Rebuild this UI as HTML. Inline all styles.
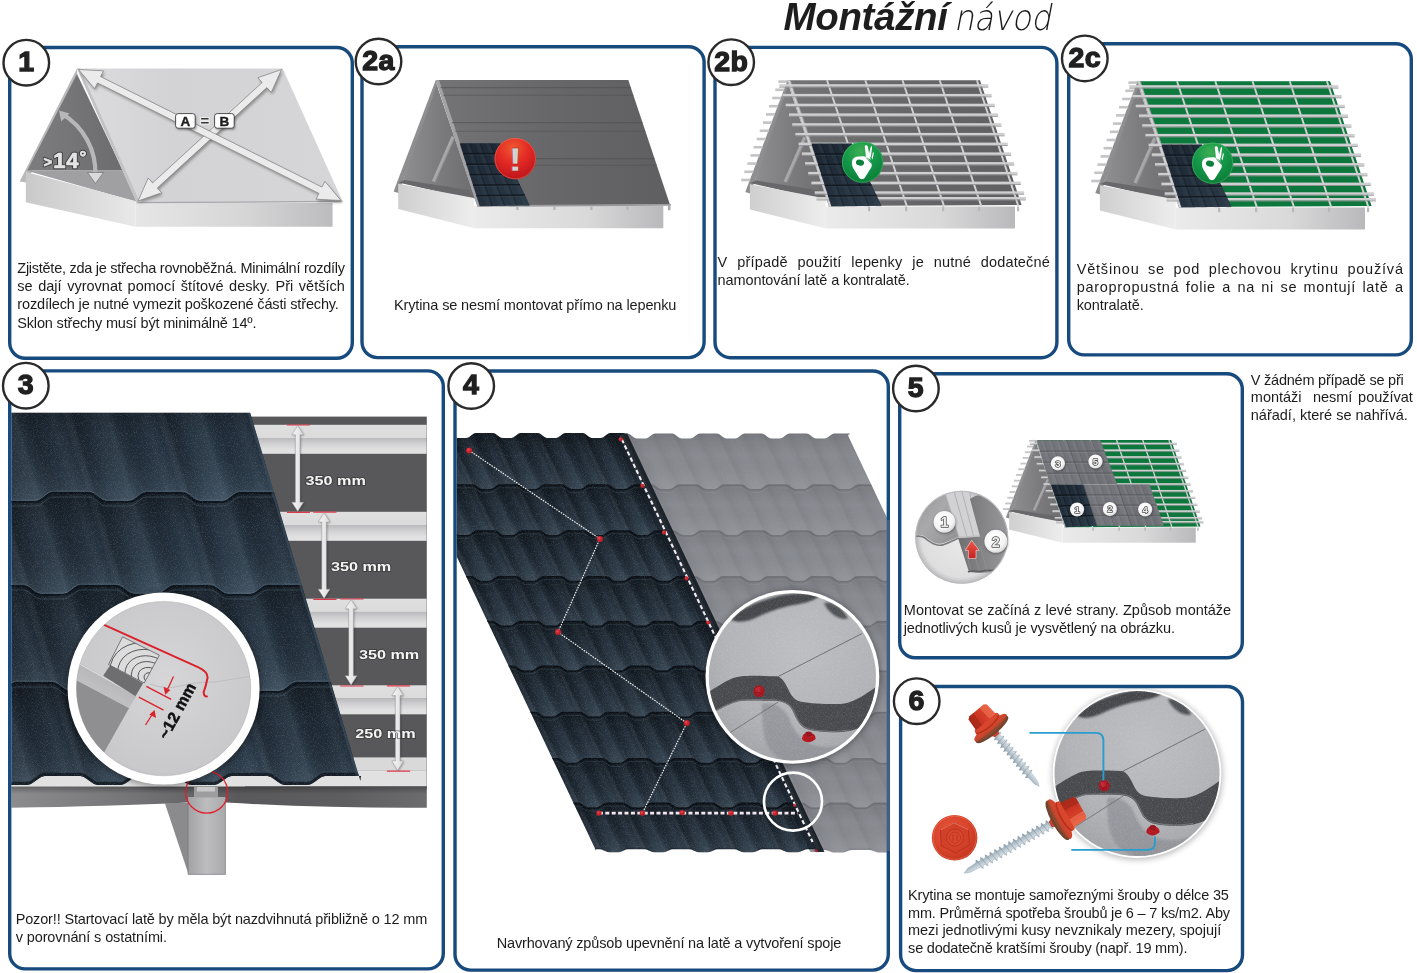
<!DOCTYPE html>
<html lang="cs"><head><meta charset="utf-8"><title>Montážní návod</title>
<style>
html,body{margin:0;padding:0;background:#fff}
svg text{filter:grayscale(1)}
svg text.c{filter:none}
body{width:1417px;height:973px;position:relative;overflow:hidden;font-family:"Liberation Sans",sans-serif;color:#1b1b1b}
#txt{position:absolute;left:0;top:0;width:1417px;height:973px;filter:grayscale(1)}
.t{position:absolute;white-space:pre;font-size:14.5px;line-height:18px;color:#1c1c1c}
h1{position:absolute;margin:0;left:783.5px;top:-4.6px;font-size:38.5px;line-height:44px;font-weight:700;font-style:italic;white-space:nowrap;color:#1d1d1d;letter-spacing:-.33px}
h1 span{position:absolute;left:170.3px;top:0.6px;display:block;font-weight:200;font-family:"DejaVu Sans Light","DejaVu Sans","Liberation Sans",sans-serif;font-style:normal;font-size:35.6px;line-height:44px;letter-spacing:-.4px;color:#1a1a1a;transform-origin:0 75%;transform:scaleX(.9) skewX(-12deg)}
</style></head><body>
<svg width="1417" height="973" viewBox="0 0 1417 973" style="position:absolute;left:0;top:0"><defs>
<linearGradient id="hWallL" x1="0" y1="0" x2="1" y2="0"><stop offset="0" stop-color="#cfcfd0"/><stop offset="1" stop-color="#ededee"/></linearGradient>
<linearGradient id="hWallR" x1="0" y1="0" x2="1" y2="0"><stop offset="0" stop-color="#ebebec"/><stop offset=".6" stop-color="#d9d9da"/><stop offset="1" stop-color="#b9b9bb"/></linearGradient>
<linearGradient id="hRoofDk" x1="0" y1="0" x2="1" y2="0"><stop offset="0" stop-color="#747476"/><stop offset=".5" stop-color="#676769"/><stop offset="1" stop-color="#5f5f62"/></linearGradient>
<linearGradient id="hGable" x1="0" y1="0" x2="1" y2="0"><stop offset="0" stop-color="#8f8f91"/><stop offset=".55" stop-color="#7a7a7c"/><stop offset="1" stop-color="#6c6c6e"/></linearGradient>
<radialGradient id="gRed" cx=".45" cy=".25" r=".8"><stop offset="0" stop-color="#ee5a30"/><stop offset=".45" stop-color="#e42a25"/><stop offset="1" stop-color="#b9131a"/></radialGradient>
<radialGradient id="gGreen" cx=".45" cy=".25" r=".8"><stop offset="0" stop-color="#3fae52"/><stop offset=".45" stop-color="#14994a"/><stop offset="1" stop-color="#0a7a36"/></radialGradient>
<linearGradient id="gExcl" x1="0" y1="0" x2="1" y2="0"><stop offset="0" stop-color="#f4f0ee"/><stop offset=".5" stop-color="#cfcfd0"/><stop offset="1" stop-color="#f1ebe8"/></linearGradient>
<linearGradient id="hTile" x1="0" y1="0" x2="1" y2="1"><stop offset="0" stop-color="#1a2430"/><stop offset="1" stop-color="#2c3a48"/></linearGradient>

<linearGradient id="p1roof" x1="0" y1="0" x2="1" y2="0"><stop offset="0" stop-color="#dcdcde"/><stop offset=".35" stop-color="#d3d3d5"/><stop offset="1" stop-color="#d6d6d8"/></linearGradient>
<linearGradient id="p1wl" x1="0" y1="0" x2="1" y2="0"><stop offset="0" stop-color="#c9c9ca"/><stop offset="1" stop-color="#e9e9ea"/></linearGradient>
<linearGradient id="p1wr" x1="0" y1="0" x2="1" y2="0"><stop offset="0" stop-color="#e6e6e7"/><stop offset=".55" stop-color="#d6d6d7"/><stop offset="1" stop-color="#bcbcbe"/></linearGradient>
<linearGradient id="p1gab" x1="0" y1="0" x2="1" y2="0"><stop offset="0" stop-color="#7d7d7f"/><stop offset="1" stop-color="#6c6c6e"/></linearGradient>
<filter id="sh1" x="-10%" y="-10%" width="120%" height="130%"><feGaussianBlur stdDeviation="1.6"/></filter>
<clipPath id="cp3"><rect x="11.4" y="372.6" width="430.2" height="594.6" rx="13.5"/></clipPath><clipPath id="cp3sheet"><path d="M11,412.8 L250.2,412.8 L360.4,781 L361.0,776.0 L325.0,776.0 L321.6,776.9 L318.2,779.2 L316.5,780.5 L314.8,781.8 L311.4,784.1 L308.0,785.0 L284.5,785.0 L281.1,784.1 L277.7,781.8 L276.0,780.5 L274.3,779.2 L270.9,776.9 L267.5,776.0 L231.5,776.0 L228.1,776.9 L224.7,779.2 L223.0,780.5 L221.3,781.8 L217.9,784.1 L214.5,785.0 L191.0,785.0 L187.6,784.1 L184.2,781.8 L182.5,780.5 L180.8,779.2 L177.4,776.9 L174.0,776.0 L138.0,776.0 L134.6,776.9 L131.2,779.2 L129.5,780.5 L127.8,781.8 L124.4,784.1 L121.0,785.0 L97.5,785.0 L94.1,784.1 L90.7,781.8 L89.0,780.5 L87.3,779.2 L83.9,776.9 L80.5,776.0 L44.5,776.0 L41.1,776.9 L37.7,779.2 L36.0,780.5 L34.3,781.8 L30.9,784.1 L27.5,785.0 L11.0,785.0 Z"/></clipPath><linearGradient id="t3str" gradientUnits="userSpaceOnUse" x1="0" y1="0" x2="93.5" y2="0" spreadMethod="repeat" gradientTransform="skewX(16.67)"><stop offset="0" stop-color="#000" stop-opacity="0.12"/><stop offset="0.1" stop-color="#000" stop-opacity="0.02"/><stop offset="0.22" stop-color="#bcd6e6" stop-opacity="0.05"/><stop offset="0.34" stop-color="#fff" stop-opacity="0.0"/><stop offset="0.45" stop-color="#000" stop-opacity="0.17"/><stop offset="0.55" stop-color="#000" stop-opacity="0.08"/><stop offset="0.7" stop-color="#bcd6e6" stop-opacity="0.05"/><stop offset="0.82" stop-color="#bcd6e6" stop-opacity="0.09"/><stop offset="0.92" stop-color="#000" stop-opacity="0.03"/><stop offset="1" stop-color="#000" stop-opacity="0.12"/></linearGradient>
<linearGradient id="t3row" x1="0" y1="0" x2="0" y2="1"><stop offset="0" stop-color="#000" stop-opacity=".40"/><stop offset=".12" stop-color="#000" stop-opacity=".24"/><stop offset=".38" stop-color="#000" stop-opacity=".03"/><stop offset=".78" stop-color="#9fc0d8" stop-opacity=".07"/><stop offset="1" stop-color="#a9cbe2" stop-opacity=".16"/></linearGradient>
<linearGradient id="t3base" x1="0" y1="0" x2="1" y2="0"><stop offset="0" stop-color="#1e2934"/><stop offset=".6" stop-color="#243240"/><stop offset="1" stop-color="#1c2732"/></linearGradient>
<filter id="grain" x="0" y="0" width="100%" height="100%"><feTurbulence type="fractalNoise" baseFrequency="1.1" numOctaves="2" seed="3" result="n"/><feColorMatrix type="matrix" values="0 0 0 0 0.62  0 0 0 0 0.72  0 0 0 0 0.82  0 0 0 1.5 -0.72"/></filter>
<linearGradient id="p3bat" x1="0" y1="0" x2="0" y2="1"><stop offset="0" stop-color="#dfdfe0"/><stop offset=".44" stop-color="#dbdbdc"/><stop offset=".455" stop-color="#b9b9bb"/><stop offset=".62" stop-color="#cdcdcf"/><stop offset=".85" stop-color="#e0e0e1"/><stop offset="1" stop-color="#e2e2e3"/></linearGradient>
<linearGradient id="p3fas" x1="0" y1="0" x2="1" y2="0"><stop offset="0" stop-color="#8c8c8e"/><stop offset=".3" stop-color="#747476"/><stop offset=".55" stop-color="#59595b"/><stop offset=".8" stop-color="#5e5e60"/><stop offset="1" stop-color="#6c6c6e"/></linearGradient><linearGradient id="p3fas2" x1="0" y1="0" x2="0" y2="1"><stop offset="0" stop-color="#000" stop-opacity=".28"/><stop offset=".35" stop-color="#000" stop-opacity="0"/></linearGradient>
<linearGradient id="p3post" x1="0" y1="0" x2="1" y2="0"><stop offset="0" stop-color="#a2a2a4"/><stop offset=".5" stop-color="#bdbdbf"/><stop offset="1" stop-color="#a9a9ab"/></linearGradient>
<radialGradient id="p3mag" cx=".5" cy=".45" r=".6"><stop offset="0" stop-color="#d6d6d8"/><stop offset=".8" stop-color="#c9c9cb"/><stop offset="1" stop-color="#b5b5b8"/></radialGradient>
<clipPath id="cp3mag"><circle cx="163.6" cy="688.6" r="87.2"/></clipPath>
<clipPath id="cp3wood"><path d="M122.6,636.8 L159.3,655.2 L144.2,683 L108.5,664.5Z"/></clipPath>
<linearGradient id="p3arr" x1="0" y1="0" x2="1" y2="0"><stop offset="0" stop-color="#f6f6f6"/><stop offset="1" stop-color="#dcdcde"/></linearGradient>
<linearGradient id="p3band" gradientUnits="userSpaceOnUse" x1="100" y1="672" x2="93" y2="686"><stop offset="0" stop-color="#b6b6b8"/><stop offset="1" stop-color="#bfbfc1"/></linearGradient>
<filter id="blur3"><feGaussianBlur stdDeviation="3"/></filter>
<filter id="blur1"><feGaussianBlur stdDeviation="1"/></filter>
<clipPath id="cp4"><rect x="456.7" y="372.7" width="430.1" height="595.7"/></clipPath><clipPath id="cp4dark"><path d="M456.0,437.5 L457.6,437.9 L466.4,437.9 L468.3,437.4 L470.2,436.2 L471.1,435.5 L472.1,434.8 L474.0,433.6 L475.9,433.1 L492.9,433.1 L494.8,433.6 L496.7,434.8 L497.6,435.5 L498.6,436.2 L500.5,437.4 L502.4,437.9 L511.2,437.9 L513.1,437.4 L515.0,436.2 L515.9,435.5 L516.9,434.8 L518.8,433.6 L520.7,433.1 L537.7,433.1 L539.6,433.6 L541.5,434.8 L542.4,435.5 L543.4,436.2 L545.3,437.4 L547.2,437.9 L556.0,437.9 L557.9,437.4 L559.8,436.2 L560.7,435.5 L561.7,434.8 L563.6,433.6 L565.5,433.1 L582.5,433.1 L584.4,433.6 L586.3,434.8 L587.2,435.5 L588.2,436.2 L590.1,437.4 L592.0,437.9 L600.8,437.9 L602.7,437.4 L604.6,436.2 L605.5,435.5 L606.5,434.8 L608.4,433.6 L610.3,433.1 L625.0,433.1 L620.0,435.5 L816.9,851 L820.0,849.3 L807.0,849.3 L805.1,849.6 L803.2,850.4 L802.2,850.8 L801.3,851.2 L799.4,852.0 L797.5,852.3 L788.7,852.3 L786.8,852.0 L784.9,851.2 L783.9,850.8 L783.0,850.4 L781.1,849.6 L779.2,849.3 L762.2,849.3 L760.3,849.6 L758.4,850.4 L757.4,850.8 L756.5,851.2 L754.6,852.0 L752.7,852.3 L743.9,852.3 L742.0,852.0 L740.1,851.2 L739.1,850.8 L738.2,850.4 L736.3,849.6 L734.4,849.3 L717.4,849.3 L715.5,849.6 L713.6,850.4 L712.6,850.8 L711.7,851.2 L709.8,852.0 L707.9,852.3 L699.1,852.3 L697.2,852.0 L695.3,851.2 L694.3,850.8 L693.4,850.4 L691.5,849.6 L689.6,849.3 L672.6,849.3 L670.7,849.6 L668.8,850.4 L667.8,850.8 L666.9,851.2 L665.0,852.0 L663.1,852.3 L654.3,852.3 L652.4,852.0 L650.5,851.2 L649.5,850.8 L648.6,850.4 L646.7,849.6 L644.8,849.3 L627.8,849.3 L625.9,849.6 L624.0,850.4 L623.0,850.8 L622.1,851.2 L620.2,852.0 L618.3,852.3 L609.5,852.3 L607.6,852.0 L605.7,851.2 L604.7,850.8 L603.8,850.4 L601.9,849.6 L600.0,849.3 L594.6,849.3 L596.2,851 L456,555.0 Z"/></clipPath><clipPath id="cp4grey"><path d="M618.0,433.6 L627.3,433.6 L629.2,434.1 L631.1,435.3 L632.0,436.0 L633.0,436.7 L634.9,437.9 L636.8,438.4 L645.6,438.4 L647.5,437.9 L649.4,436.7 L650.3,436.0 L651.3,435.3 L653.2,434.1 L655.1,433.6 L672.1,433.6 L674.0,434.1 L675.9,435.3 L676.8,436.0 L677.8,436.7 L679.7,437.9 L681.6,438.4 L690.4,438.4 L692.3,437.9 L694.2,436.7 L695.1,436.0 L696.1,435.3 L698.0,434.1 L699.9,433.6 L716.9,433.6 L718.8,434.1 L720.7,435.3 L721.6,436.0 L722.6,436.7 L724.5,437.9 L726.4,438.4 L735.2,438.4 L737.1,437.9 L739.0,436.7 L739.9,436.0 L740.9,435.3 L742.8,434.1 L744.7,433.6 L761.7,433.6 L763.6,434.1 L765.5,435.3 L766.4,436.0 L767.4,436.7 L769.3,437.9 L771.2,438.4 L780.0,438.4 L781.9,437.9 L783.8,436.7 L784.7,436.0 L785.7,435.3 L787.6,434.1 L789.5,433.6 L806.5,433.6 L808.4,434.1 L810.3,435.3 L811.2,436.0 L812.2,436.7 L814.1,437.9 L816.0,438.4 L824.8,438.4 L826.7,437.9 L828.6,436.7 L829.5,436.0 L830.5,435.3 L832.4,434.1 L834.3,433.6 L850.0,433.6 L848.0,435.5 L893.6,531.7 L893.6,852 L894.0,850.5 L893.2,850.8 L892.2,851.2 L891.3,851.6 L889.4,852.2 L887.5,852.5 L878.7,852.5 L876.8,852.2 L874.9,851.6 L873.9,851.2 L873.0,850.8 L871.1,850.2 L869.2,849.9 L852.2,849.9 L850.3,850.2 L848.4,850.8 L847.4,851.2 L846.5,851.6 L844.6,852.2 L842.7,852.5 L833.9,852.5 L832.0,852.2 L830.1,851.6 L829.1,851.2 L828.2,850.8 L826.3,850.2 L824.4,849.9 L812.0,849.9 L821.3,852 L624.0,435.5Z"/></clipPath><linearGradient id="t4str" gradientUnits="userSpaceOnUse" x1="0" y1="0" x2="44.8" y2="0" spreadMethod="repeat" gradientTransform="skewX(25.35)"><stop offset="0" stop-color="#000" stop-opacity="0.15"/><stop offset="0.1" stop-color="#000" stop-opacity="0.04"/><stop offset="0.22" stop-color="#b4cede" stop-opacity="0.055"/><stop offset="0.34" stop-color="#fff" stop-opacity="0.01"/><stop offset="0.46" stop-color="#000" stop-opacity="0.2"/><stop offset="0.56" stop-color="#000" stop-opacity="0.1"/><stop offset="0.7" stop-color="#b4cede" stop-opacity="0.045"/><stop offset="0.84" stop-color="#b4cede" stop-opacity="0.085"/><stop offset="0.93" stop-color="#000" stop-opacity="0.03"/><stop offset="1" stop-color="#000" stop-opacity="0.15"/></linearGradient>
<linearGradient id="t4row" x1="0" y1="0" x2="0" y2="1"><stop offset="0" stop-color="#000" stop-opacity=".46"/><stop offset=".14" stop-color="#000" stop-opacity=".28"/><stop offset=".4" stop-color="#000" stop-opacity=".04"/><stop offset=".78" stop-color="#9dbdd2" stop-opacity=".07"/><stop offset="1" stop-color="#a8c6da" stop-opacity=".14"/></linearGradient>
<linearGradient id="t4rowg" x1="0" y1="0" x2="0" y2="1"><stop offset="0" stop-color="#000" stop-opacity=".13"/><stop offset=".14" stop-color="#000" stop-opacity=".07"/><stop offset=".4" stop-color="#000" stop-opacity=".0"/><stop offset=".78" stop-color="#fff" stop-opacity=".04"/><stop offset="1" stop-color="#fff" stop-opacity=".09"/></linearGradient>
<radialGradient id="magbg" gradientUnits="userSpaceOnUse" cx="800" cy="650" r="110"><stop offset="0" stop-color="#bcbec1"/><stop offset=".7" stop-color="#b1b3b6"/><stop offset="1" stop-color="#a4a6aa"/></radialGradient>
<clipPath id="cp4mag"><circle cx="792.4" cy="676.8" r="83.6"/></clipPath>
<filter id="grain2" x="0" y="0" width="100%" height="100%"><feTurbulence type="fractalNoise" baseFrequency="1.2" numOctaves="2" seed="8"/><feColorMatrix type="matrix" values="0 0 0 0 0.95  0 0 0 0 0.95  0 0 0 0 0.97  0 0 0 1.8 -0.85"/></filter>

<linearGradient id="hGreenSh" x1="0" y1="0" x2="1" y2="0"><stop offset="0" stop-color="#0a6a34" stop-opacity=".0"/><stop offset="1" stop-color="#0a6a34" stop-opacity=".25"/></linearGradient>
<radialGradient id="p5mag" cx=".5" cy=".5" r=".5"><stop offset="0" stop-color="#e9e9ea"/><stop offset=".86" stop-color="#dededf"/><stop offset=".95" stop-color="#c6c6c8"/><stop offset="1" stop-color="#b4b4b6"/></radialGradient>
<clipPath id="cp5mag"><circle cx="961.7" cy="537.3" r="45.6"/></clipPath>
<linearGradient id="p5t1" x1="0" y1="0" x2="1" y2="1"><stop offset="0" stop-color="#8d8d8f"/><stop offset=".5" stop-color="#a9a9ab"/><stop offset="1" stop-color="#8f8f91"/></linearGradient>
<linearGradient id="p5t2" x1="0" y1="0" x2="1" y2="0"><stop offset="0" stop-color="#6f6f72"/><stop offset=".5" stop-color="#858588"/><stop offset="1" stop-color="#9a9a9c"/></linearGradient>
<linearGradient id="p5arr" x1="0" y1="0" x2="0" y2="1"><stop offset="0" stop-color="#ee5a4a"/><stop offset="1" stop-color="#c4201f"/></linearGradient>
<radialGradient id="nball" cx=".4" cy=".35" r=".7"><stop offset="0" stop-color="#fff"/><stop offset=".7" stop-color="#f4f4f4"/><stop offset="1" stop-color="#d4d4d6"/></radialGradient>
<linearGradient id="scrHead" x1="0" y1="0" x2="0" y2="1"><stop offset="0" stop-color="#e35a3c"/><stop offset=".45" stop-color="#d33b26"/><stop offset="1" stop-color="#b42c1c"/></linearGradient>
<linearGradient id="scrWash" x1="0" y1="0" x2="1" y2="0"><stop offset="0" stop-color="#dc4b31"/><stop offset=".55" stop-color="#cb452c"/><stop offset="1" stop-color="#a8472c"/></linearGradient>
<linearGradient id="scrShank" x1="0" y1="0" x2="0" y2="1"><stop offset="0" stop-color="#eef3f6"/><stop offset=".4" stop-color="#c6d2da"/><stop offset="1" stop-color="#8fa0ac"/></linearGradient>
<radialGradient id="capG" cx=".42" cy=".38" r=".65"><stop offset="0" stop-color="#e8583c"/><stop offset=".6" stop-color="#d9442c"/><stop offset="1" stop-color="#c2341f"/></radialGradient>
<clipPath id="cp6mag"><circle cx="1137" cy="773.6" r="82.5"/></clipPath>
</defs>
<!-- panel 1 -->
<g><path d="M77.0,68.4 L19.7,181.6 L26.5,182.5 L77.5,80.0Z" fill="#b9b9bb" /><path d="M77.0,74.0 L27.2,170.5 L123.0,170.5Z" fill="url(#p1gab)" /><path d="M26.0,170.5 L123.0,170.2 L137.0,202.0Z" fill="#a0a0a2" /><path d="M25.8,171.9 L135.4,201.1 L135.4,226.7 L25.8,202.3Z" fill="url(#p1wl)" /><path d="M135.4,203.0 L332.6,203.0 L332.6,226.7 L135.4,226.7Z" fill="url(#p1wr)" /><path d="M77.0,68.4 L282.7,68.4 L342.4,201.1 L136.6,202.3Z" fill="url(#p1roof)" /><path d="M77.0,68.4 L80.0,68.4 L139.8,202.3 L136.6,202.3Z" fill="#c3c3c5" /><line x1="136.6" y1="202.7" x2="342.4" y2="201.5" stroke="#a8a8aa" stroke-width="1.3" /><path d="M61.5,113.5 A68,68 0 0 1 95.3,176" fill="none" stroke="#b7b7b9" stroke-width="4.2"/><path d="M59.0,110.5 L69.5,113.5 L61.2,121.5Z" fill="#b7b7b9" /><path d="M87.5,172.5 L103.5,172.5 L95.5,183.5Z" fill="#d9d9db" stroke="#666" stroke-width=".6"/><text x="43.5" y="168.2" font-family="Liberation Sans, sans-serif" font-weight="700" font-size="22" fill="#3a3a3c" stroke="#3a3a3c" stroke-width="2.6" stroke-linejoin="round" letter-spacing=".9"><tspan font-size="15" dy="-1.5">&gt;</tspan><tspan dy="1.5">14</tspan><tspan font-size="17" dy="-5.5">°</tspan></text><text x="43.5" y="168.2" font-family="Liberation Sans, sans-serif" font-weight="700" font-size="22" fill="#e4e4e5" stroke="#e4e4e5" stroke-width="0.7" stroke-linejoin="round" letter-spacing=".9"><tspan font-size="15" dy="-1.5">&gt;</tspan><tspan dy="1.5">14</tspan><tspan font-size="17" dy="-5.5">°</tspan></text><path d="M78.5,69.5 L94.6,88.7 L97.5,82.9 L318.9,193.4 L316.0,199.2 L341.0,200.5 L324.9,181.3 L322.0,187.1 L100.6,76.6 L103.5,70.8Z" fill="#555" opacity=".55" filter="url(#sh1)" transform="translate(1.2,2.2)"/><path d="M281.5,69.5 L257.8,77.7 L262.2,82.5 L152.6,182.9 L148.2,178.1 L138.0,201.0 L161.7,192.8 L157.3,188.0 L266.9,87.6 L271.3,92.4Z" fill="#555" opacity=".55" filter="url(#sh1)" transform="translate(1.2,2.2)"/><path d="M281.5,69.5 L257.8,77.7 L262.2,82.5 L152.6,182.9 L148.2,178.1 L138.0,201.0 L161.7,192.8 L157.3,188.0 L266.9,87.6 L271.3,92.4Z" fill="#ebebec" stroke="#7c7c7e" stroke-width=".7" stroke-linejoin="miter"/><path d="M78.5,69.5 L94.6,88.7 L97.5,82.9 L318.9,193.4 L316.0,199.2 L341.0,200.5 L324.9,181.3 L322.0,187.1 L100.6,76.6 L103.5,70.8Z" fill="#ebebec" stroke="#7c7c7e" stroke-width=".7" stroke-linejoin="miter"/><rect x="176.6" y="115.2" width="19.6" height="14.6" rx="2.6" fill="#000" opacity=".4" filter="url(#blur1)"/><rect x="175.6" y="113.6" width="19.6" height="14.6" rx="2.6" fill="#fff" stroke="#3a3a3c" stroke-width=".9"/><text x="185.4" y="126" text-anchor="middle" font-family="Liberation Sans, sans-serif" font-weight="700" font-size="13.5" fill="#1d1d1d" stroke="#1d1d1d" stroke-width=".4">A</text><rect x="215.6" y="115.2" width="19.6" height="14.6" rx="2.6" fill="#000" opacity=".4" filter="url(#blur1)"/><rect x="214.6" y="113.6" width="19.6" height="14.6" rx="2.6" fill="#fff" stroke="#3a3a3c" stroke-width=".9"/><text x="224.4" y="126" text-anchor="middle" font-family="Liberation Sans, sans-serif" font-weight="700" font-size="13.5" fill="#1d1d1d" stroke="#1d1d1d" stroke-width=".4">B</text><text x="205" y="126.3" text-anchor="middle" font-family="Liberation Sans, sans-serif" font-weight="700" font-size="15" fill="#333" stroke="#f4f4f4" stroke-width="1.6" paint-order="stroke">=</text></g>
<!-- panel 2a -->
<g transform="translate(-351.7,-0.4)"><path d="M787.5,80.3 L745.3,191.9 L750.1,193.4 L789.7,89.3Z" fill="#8e8e90" /><path d="M788.5,85.3 L753.8,183.4 L826.5,199.0 L828.5,204.1Z" fill="url(#hGable)" /><path d="M750.2,183.0 L826.0,200.5 L820.5,190.5 L756.0,180.5Z" fill="#68686a" /><line x1="805.0" y1="137.2" x2="785.3" y2="182.0" stroke="#a9a9ab" stroke-width="3.6" /><line x1="806.2" y1="137.6" x2="786.5" y2="182.4" stroke="#8a8a8c" stroke-width="1" opacity=".7"/><path d="M749.9,184.2 L825.8,198.5 L825.8,228.6 L749.9,209.4Z" fill="url(#hWallL)" /><path d="M825.8,206.5 L1015.0,206.5 L1015.0,228.6 L825.8,228.6Z" fill="url(#hWallR)" /><path d="M787.5,80.3 L980.0,80.3 L1021.6,205.0 L829.0,206.1Z" fill="url(#hRoofDk)" /><path d="M787.5,80.3 L790.7,80.3 L832.6,206.1 L829.0,206.9Z" fill="#a3a3a5" /><line x1="792.0" y1="88.0" x2="982.6" y2="88.0" stroke="#4c4c4f" stroke-width="1.1" opacity="0.5"/><line x1="794.5" y1="95.6" x2="985.1" y2="95.6" stroke="#4c4c4f" stroke-width="1.1" opacity="0.5"/><line x1="803.6" y1="123.0" x2="994.2" y2="123.0" stroke="#4c4c4f" stroke-width="1.1" opacity="0.55"/><line x1="806.5" y1="131.7" x2="997.1" y2="131.7" stroke="#4c4c4f" stroke-width="1.1" opacity="0.45"/><line x1="815.5" y1="159.0" x2="1006.3" y2="159.0" stroke="#4c4c4f" stroke-width="1.1" opacity="0.55"/><line x1="817.6" y1="165.6" x2="1008.5" y2="165.6" stroke="#4c4c4f" stroke-width="1.1" opacity="0.45"/><line x1="829.0" y1="206.4" x2="1022.6" y2="205.3" stroke="#9a9a9c" stroke-width="1.6" /><rect x="868" y="206.8" width="2.2" height="3.6" fill="#b5b5b7"/><rect x="905" y="206.8" width="2.2" height="3.6" fill="#b5b5b7"/><rect x="942" y="206.8" width="2.2" height="3.6" fill="#b5b5b7"/><rect x="978" y="206.8" width="2.2" height="3.6" fill="#b5b5b7"/><rect x="1019.6" y="205.6" width="2.6" height="5" fill="#a9a9ab"/><path d="M811.4,143.6 L851.8,143.6 L881.6,205.8 L831.4,206.6Z" fill="url(#hTile)" /><path d="M817.0,143.6 L821.0,143.6 L843.3,206.6 L838.3,206.6Z" fill="#3d4b59" opacity="0.25"/><path d="M827.1,143.6 L831.1,143.6 L855.9,206.6 L850.9,206.6Z" fill="#3d4b59" opacity="0.25"/><path d="M837.2,143.6 L841.2,143.6 L868.4,206.6 L863.4,206.6Z" fill="#3d4b59" opacity="0.25"/><path d="M847.3,143.6 L851.3,143.6 L881.0,206.6 L876.0,206.6Z" fill="#3d4b59" opacity="0.25"/><line x1="821.5" y1="143.6" x2="844.0" y2="206.4" stroke="#0e141b" stroke-width="0.9" opacity="0.48"/><line x1="831.6" y1="143.6" x2="856.5" y2="206.2" stroke="#0e141b" stroke-width="0.9" opacity="0.48"/><line x1="841.7" y1="143.6" x2="869.0" y2="206.0" stroke="#0e141b" stroke-width="0.9" opacity="0.48"/><line x1="814.7" y1="154.1" x2="856.8" y2="154.0" stroke="#0e141b" stroke-width="1.5" opacity="0.80"/><line x1="814.7" y1="155.4" x2="856.8" y2="155.3" stroke="#3d4b59" stroke-width="0.7" opacity="0.55"/><line x1="818.1" y1="164.6" x2="861.7" y2="164.3" stroke="#0e141b" stroke-width="1.5" opacity="0.80"/><line x1="818.1" y1="165.9" x2="861.7" y2="165.6" stroke="#3d4b59" stroke-width="0.7" opacity="0.55"/><line x1="821.4" y1="175.1" x2="866.7" y2="174.7" stroke="#0e141b" stroke-width="1.5" opacity="0.80"/><line x1="821.4" y1="176.4" x2="866.7" y2="176.0" stroke="#3d4b59" stroke-width="0.7" opacity="0.55"/><line x1="824.7" y1="185.6" x2="871.7" y2="185.1" stroke="#0e141b" stroke-width="1.5" opacity="0.80"/><line x1="824.7" y1="186.9" x2="871.7" y2="186.4" stroke="#3d4b59" stroke-width="0.7" opacity="0.55"/><line x1="828.1" y1="196.1" x2="876.6" y2="195.4" stroke="#0e141b" stroke-width="1.5" opacity="0.80"/><line x1="828.1" y1="197.4" x2="876.6" y2="196.7" stroke="#3d4b59" stroke-width="0.7" opacity="0.55"/><g transform="translate(866.9,159.0)"><circle r="20.7" fill="url(#gRed)"/><circle r="20.2" fill="none" stroke="#f08a6a" stroke-width=".7" opacity=".6"/><text class="c" x="0" y="12.1" text-anchor="middle" font-family="Liberation Sans, sans-serif" font-weight="700" font-size="33.5" fill="url(#gExcl)" stroke="#a02020" stroke-width=".35" transform="scale(1.3,1)">!</text></g></g>
<!-- panel 2b -->
<g><path d="M787.5,80.3 L745.3,191.9 L750.1,193.4 L789.7,89.3Z" fill="#8e8e90" /><path d="M788.5,85.3 L753.8,183.4 L826.5,199.0 L828.5,204.1Z" fill="url(#hGable)" /><path d="M750.2,183.0 L826.0,200.5 L820.5,190.5 L756.0,180.5Z" fill="#68686a" /><line x1="805.0" y1="137.2" x2="785.3" y2="182.0" stroke="#a9a9ab" stroke-width="3.6" /><line x1="806.2" y1="137.6" x2="786.5" y2="182.4" stroke="#8a8a8c" stroke-width="1" opacity=".7"/><path d="M749.9,184.2 L825.8,198.5 L825.8,228.6 L749.9,209.4Z" fill="url(#hWallL)" /><path d="M825.8,206.5 L1015.0,206.5 L1015.0,228.6 L825.8,228.6Z" fill="url(#hWallR)" /><path d="M787.5,80.3 L980.0,80.3 L1021.6,205.0 L829.0,206.1Z" fill="url(#hRoofDk)" /><path d="M787.5,80.3 L790.7,80.3 L832.6,206.1 L829.0,206.9Z" fill="#a3a3a5" /><line x1="788.7" y1="80.3" x2="830.2" y2="206.1" stroke="#d2d2d4" stroke-width="1.9" /><line x1="827.0" y1="80.3" x2="868.5" y2="206.1" stroke="#d2d2d4" stroke-width="1.9" /><line x1="865.3" y1="80.3" x2="906.8" y2="206.1" stroke="#d2d2d4" stroke-width="1.9" /><line x1="902.5" y1="80.3" x2="944.0" y2="206.1" stroke="#d2d2d4" stroke-width="1.9" /><line x1="939.7" y1="80.3" x2="981.2" y2="206.1" stroke="#d2d2d4" stroke-width="1.9" /><line x1="976.9" y1="80.3" x2="1018.4" y2="206.1" stroke="#d2d2d4" stroke-width="1.9" /><rect x="779.3" y="84.2" width="209.0" height="2.5" fill="#cfcfd1"/><rect x="779.3" y="86.7" width="209.0" height="0.9" fill="#97979a"/><rect x="782.5" y="93.9" width="209.1" height="2.5" fill="#cfcfd1"/><rect x="782.5" y="96.4" width="209.1" height="0.9" fill="#97979a"/><rect x="785.7" y="103.7" width="209.1" height="2.5" fill="#cfcfd1"/><rect x="785.7" y="106.2" width="209.1" height="0.9" fill="#97979a"/><rect x="789.0" y="113.4" width="209.1" height="2.5" fill="#cfcfd1"/><rect x="789.0" y="115.9" width="209.1" height="0.9" fill="#97979a"/><rect x="792.2" y="123.2" width="209.2" height="2.5" fill="#cfcfd1"/><rect x="792.2" y="125.7" width="209.2" height="0.9" fill="#97979a"/><rect x="795.4" y="132.9" width="209.2" height="2.5" fill="#cfcfd1"/><rect x="795.4" y="135.4" width="209.2" height="0.9" fill="#97979a"/><rect x="798.6" y="142.6" width="209.2" height="2.5" fill="#cfcfd1"/><rect x="798.6" y="145.1" width="209.2" height="0.9" fill="#97979a"/><rect x="801.8" y="152.4" width="209.3" height="2.5" fill="#cfcfd1"/><rect x="801.8" y="154.9" width="209.3" height="0.9" fill="#97979a"/><rect x="805.0" y="162.1" width="209.3" height="2.5" fill="#cfcfd1"/><rect x="805.0" y="164.6" width="209.3" height="0.9" fill="#97979a"/><rect x="808.2" y="171.9" width="209.3" height="2.5" fill="#cfcfd1"/><rect x="808.2" y="174.4" width="209.3" height="0.9" fill="#97979a"/><rect x="811.4" y="181.6" width="209.4" height="2.5" fill="#cfcfd1"/><rect x="811.4" y="184.1" width="209.4" height="0.9" fill="#97979a"/><rect x="814.7" y="191.3" width="209.4" height="2.5" fill="#cfcfd1"/><rect x="814.7" y="193.8" width="209.4" height="0.9" fill="#97979a"/><rect x="816.5" y="197.0" width="209.4" height="2.5" fill="#cfcfd1"/><rect x="816.5" y="199.5" width="209.4" height="0.9" fill="#97979a"/><rect x="778.4" y="80.3" width="9" height="2.6" fill="#c4c4c6"/><rect x="775.3" y="88.5" width="9" height="2.6" fill="#c4c4c6"/><rect x="772.2" y="96.7" width="9" height="2.6" fill="#c4c4c6"/><rect x="769.1" y="104.9" width="9" height="2.6" fill="#c4c4c6"/><rect x="766.0" y="113.1" width="9" height="2.6" fill="#c4c4c6"/><rect x="762.9" y="121.3" width="9" height="2.6" fill="#c4c4c6"/><rect x="759.8" y="129.5" width="9" height="2.6" fill="#c4c4c6"/><rect x="756.7" y="137.7" width="9" height="2.6" fill="#c4c4c6"/><rect x="753.6" y="145.9" width="9" height="2.6" fill="#c4c4c6"/><rect x="750.5" y="154.1" width="9" height="2.6" fill="#c4c4c6"/><rect x="747.4" y="162.3" width="9" height="2.6" fill="#c4c4c6"/><rect x="744.3" y="170.5" width="9" height="2.6" fill="#c4c4c6"/><rect x="741.2" y="178.7" width="9" height="2.6" fill="#c4c4c6"/><rect x="868" y="206.6" width="2.2" height="4.6" fill="#b9b9bb"/><rect x="905" y="206.6" width="2.2" height="4.6" fill="#b9b9bb"/><rect x="942" y="206.6" width="2.2" height="4.6" fill="#b9b9bb"/><rect x="978" y="206.6" width="2.2" height="4.6" fill="#b9b9bb"/><rect x="1017" y="206.6" width="2.2" height="4.6" fill="#b9b9bb"/><path d="M811.4,143.6 L851.8,143.6 L881.6,205.8 L831.4,206.6Z" fill="url(#hTile)" /><path d="M817.0,143.6 L821.0,143.6 L843.3,206.6 L838.3,206.6Z" fill="#3d4b59" opacity="0.25"/><path d="M827.1,143.6 L831.1,143.6 L855.9,206.6 L850.9,206.6Z" fill="#3d4b59" opacity="0.25"/><path d="M837.2,143.6 L841.2,143.6 L868.4,206.6 L863.4,206.6Z" fill="#3d4b59" opacity="0.25"/><path d="M847.3,143.6 L851.3,143.6 L881.0,206.6 L876.0,206.6Z" fill="#3d4b59" opacity="0.25"/><line x1="821.5" y1="143.6" x2="844.0" y2="206.4" stroke="#0e141b" stroke-width="0.9" opacity="0.48"/><line x1="831.6" y1="143.6" x2="856.5" y2="206.2" stroke="#0e141b" stroke-width="0.9" opacity="0.48"/><line x1="841.7" y1="143.6" x2="869.0" y2="206.0" stroke="#0e141b" stroke-width="0.9" opacity="0.48"/><line x1="814.7" y1="154.1" x2="856.8" y2="154.0" stroke="#0e141b" stroke-width="1.5" opacity="0.80"/><line x1="814.7" y1="155.4" x2="856.8" y2="155.3" stroke="#3d4b59" stroke-width="0.7" opacity="0.55"/><line x1="818.1" y1="164.6" x2="861.7" y2="164.3" stroke="#0e141b" stroke-width="1.5" opacity="0.80"/><line x1="818.1" y1="165.9" x2="861.7" y2="165.6" stroke="#3d4b59" stroke-width="0.7" opacity="0.55"/><line x1="821.4" y1="175.1" x2="866.7" y2="174.7" stroke="#0e141b" stroke-width="1.5" opacity="0.80"/><line x1="821.4" y1="176.4" x2="866.7" y2="176.0" stroke="#3d4b59" stroke-width="0.7" opacity="0.55"/><line x1="824.7" y1="185.6" x2="871.7" y2="185.1" stroke="#0e141b" stroke-width="1.5" opacity="0.80"/><line x1="824.7" y1="186.9" x2="871.7" y2="186.4" stroke="#3d4b59" stroke-width="0.7" opacity="0.55"/><line x1="828.1" y1="196.1" x2="876.6" y2="195.4" stroke="#0e141b" stroke-width="1.5" opacity="0.80"/><line x1="828.1" y1="197.4" x2="876.6" y2="196.7" stroke="#3d4b59" stroke-width="0.7" opacity="0.55"/><g transform="translate(862.6,162.2)"><circle r="20.7" fill="url(#gGreen)"/><circle r="20.099999999999998" fill="none" stroke="#5cc070" stroke-width=".8" opacity=".6"/><path d="M-10.6,0 C-10.6,-3 -8,-5.6 -4.5,-5.7 L1,-6 C3,-6 4.5,-5 5.5,-3.5 L8.8,1 C9.4,2.3 9.3,4 8.6,5.2 L2.2,15.6 C1,17.4 -2.4,17.4 -3.6,15.4 L-9.4,6 C-10.4,4 -10.8,2 -10.6,0Z" fill="#fff"/><ellipse cx="-2.6" cy=".4" rx="4.1" ry="3" fill="#0c7f3b" transform="rotate(12 -2.6 .4)"/><path d="M3.4,-5.2 L2.2,-15.6 C2.3,-17.2 4.6,-17.6 5,-16 L8,-2.5Z" fill="#fff"/><path d="M6.2,-7.5 L8.2,-15.6 C8.6,-16.4 9.6,-16 9.5,-15.2 L8.2,-4.5Z" fill="#fff"/><path d="M9,-4.4 L10.3,-9.6 C10.6,-10.2 11.3,-10 11.2,-9.3 L10,-2.8Z" fill="#fff"/><path d="M3.6,-4.6 L8.6,1.2" stroke="#0c7f3b" stroke-width=".6"/></g></g>
<!-- panel 2c -->
<g transform="translate(350,1)"><path d="M787.5,80.3 L745.3,191.9 L750.1,193.4 L789.7,89.3Z" fill="#8e8e90" /><path d="M788.5,85.3 L753.8,183.4 L826.5,199.0 L828.5,204.1Z" fill="url(#hGable)" /><path d="M750.2,183.0 L826.0,200.5 L820.5,190.5 L756.0,180.5Z" fill="#68686a" /><line x1="805.0" y1="137.2" x2="785.3" y2="182.0" stroke="#a9a9ab" stroke-width="3.6" /><line x1="806.2" y1="137.6" x2="786.5" y2="182.4" stroke="#8a8a8c" stroke-width="1" opacity=".7"/><path d="M749.9,184.2 L825.8,198.5 L825.8,228.6 L749.9,209.4Z" fill="url(#hWallL)" /><path d="M825.8,206.5 L1015.0,206.5 L1015.0,228.6 L825.8,228.6Z" fill="url(#hWallR)" /><path d="M787.5,80.3 L980.0,80.3 L1021.6,205.0 L829.0,206.1Z" fill="#0d7a3e" /><path d="M787.5,80.3 L980.0,80.3 L1021.6,205.0 L829.0,206.1Z" fill="url(#hGreenSh)"/><path d="M787.5,80.3 L790.7,80.3 L832.6,206.1 L829.0,206.9Z" fill="#a3a3a5" /><line x1="788.7" y1="80.3" x2="830.2" y2="206.1" stroke="#d2d2d4" stroke-width="1.9" /><line x1="827.0" y1="80.3" x2="868.5" y2="206.1" stroke="#d2d2d4" stroke-width="1.9" /><line x1="865.3" y1="80.3" x2="906.8" y2="206.1" stroke="#d2d2d4" stroke-width="1.9" /><line x1="902.5" y1="80.3" x2="944.0" y2="206.1" stroke="#d2d2d4" stroke-width="1.9" /><line x1="939.7" y1="80.3" x2="981.2" y2="206.1" stroke="#d2d2d4" stroke-width="1.9" /><line x1="976.9" y1="80.3" x2="1018.4" y2="206.1" stroke="#d2d2d4" stroke-width="1.9" /><rect x="779.3" y="84.2" width="209.0" height="2.5" fill="#cfcfd1"/><rect x="779.3" y="86.7" width="209.0" height="0.9" fill="#97979a"/><rect x="782.5" y="93.9" width="209.1" height="2.5" fill="#cfcfd1"/><rect x="782.5" y="96.4" width="209.1" height="0.9" fill="#97979a"/><rect x="785.7" y="103.7" width="209.1" height="2.5" fill="#cfcfd1"/><rect x="785.7" y="106.2" width="209.1" height="0.9" fill="#97979a"/><rect x="789.0" y="113.4" width="209.1" height="2.5" fill="#cfcfd1"/><rect x="789.0" y="115.9" width="209.1" height="0.9" fill="#97979a"/><rect x="792.2" y="123.2" width="209.2" height="2.5" fill="#cfcfd1"/><rect x="792.2" y="125.7" width="209.2" height="0.9" fill="#97979a"/><rect x="795.4" y="132.9" width="209.2" height="2.5" fill="#cfcfd1"/><rect x="795.4" y="135.4" width="209.2" height="0.9" fill="#97979a"/><rect x="798.6" y="142.6" width="209.2" height="2.5" fill="#cfcfd1"/><rect x="798.6" y="145.1" width="209.2" height="0.9" fill="#97979a"/><rect x="801.8" y="152.4" width="209.3" height="2.5" fill="#cfcfd1"/><rect x="801.8" y="154.9" width="209.3" height="0.9" fill="#97979a"/><rect x="805.0" y="162.1" width="209.3" height="2.5" fill="#cfcfd1"/><rect x="805.0" y="164.6" width="209.3" height="0.9" fill="#97979a"/><rect x="808.2" y="171.9" width="209.3" height="2.5" fill="#cfcfd1"/><rect x="808.2" y="174.4" width="209.3" height="0.9" fill="#97979a"/><rect x="811.4" y="181.6" width="209.4" height="2.5" fill="#cfcfd1"/><rect x="811.4" y="184.1" width="209.4" height="0.9" fill="#97979a"/><rect x="814.7" y="191.3" width="209.4" height="2.5" fill="#cfcfd1"/><rect x="814.7" y="193.8" width="209.4" height="0.9" fill="#97979a"/><rect x="816.5" y="197.0" width="209.4" height="2.5" fill="#cfcfd1"/><rect x="816.5" y="199.5" width="209.4" height="0.9" fill="#97979a"/><rect x="778.4" y="80.3" width="9" height="2.6" fill="#c4c4c6"/><rect x="775.3" y="88.5" width="9" height="2.6" fill="#c4c4c6"/><rect x="772.2" y="96.7" width="9" height="2.6" fill="#c4c4c6"/><rect x="769.1" y="104.9" width="9" height="2.6" fill="#c4c4c6"/><rect x="766.0" y="113.1" width="9" height="2.6" fill="#c4c4c6"/><rect x="762.9" y="121.3" width="9" height="2.6" fill="#c4c4c6"/><rect x="759.8" y="129.5" width="9" height="2.6" fill="#c4c4c6"/><rect x="756.7" y="137.7" width="9" height="2.6" fill="#c4c4c6"/><rect x="753.6" y="145.9" width="9" height="2.6" fill="#c4c4c6"/><rect x="750.5" y="154.1" width="9" height="2.6" fill="#c4c4c6"/><rect x="747.4" y="162.3" width="9" height="2.6" fill="#c4c4c6"/><rect x="744.3" y="170.5" width="9" height="2.6" fill="#c4c4c6"/><rect x="741.2" y="178.7" width="9" height="2.6" fill="#c4c4c6"/><rect x="868" y="206.6" width="2.2" height="4.6" fill="#b9b9bb"/><rect x="905" y="206.6" width="2.2" height="4.6" fill="#b9b9bb"/><rect x="942" y="206.6" width="2.2" height="4.6" fill="#b9b9bb"/><rect x="978" y="206.6" width="2.2" height="4.6" fill="#b9b9bb"/><rect x="1017" y="206.6" width="2.2" height="4.6" fill="#b9b9bb"/><path d="M811.4,143.6 L851.8,143.6 L881.6,205.8 L831.4,206.6Z" fill="url(#hTile)" /><path d="M817.0,143.6 L821.0,143.6 L843.3,206.6 L838.3,206.6Z" fill="#3d4b59" opacity="0.25"/><path d="M827.1,143.6 L831.1,143.6 L855.9,206.6 L850.9,206.6Z" fill="#3d4b59" opacity="0.25"/><path d="M837.2,143.6 L841.2,143.6 L868.4,206.6 L863.4,206.6Z" fill="#3d4b59" opacity="0.25"/><path d="M847.3,143.6 L851.3,143.6 L881.0,206.6 L876.0,206.6Z" fill="#3d4b59" opacity="0.25"/><line x1="821.5" y1="143.6" x2="844.0" y2="206.4" stroke="#0e141b" stroke-width="0.9" opacity="0.48"/><line x1="831.6" y1="143.6" x2="856.5" y2="206.2" stroke="#0e141b" stroke-width="0.9" opacity="0.48"/><line x1="841.7" y1="143.6" x2="869.0" y2="206.0" stroke="#0e141b" stroke-width="0.9" opacity="0.48"/><line x1="814.7" y1="154.1" x2="856.8" y2="154.0" stroke="#0e141b" stroke-width="1.5" opacity="0.80"/><line x1="814.7" y1="155.4" x2="856.8" y2="155.3" stroke="#3d4b59" stroke-width="0.7" opacity="0.55"/><line x1="818.1" y1="164.6" x2="861.7" y2="164.3" stroke="#0e141b" stroke-width="1.5" opacity="0.80"/><line x1="818.1" y1="165.9" x2="861.7" y2="165.6" stroke="#3d4b59" stroke-width="0.7" opacity="0.55"/><line x1="821.4" y1="175.1" x2="866.7" y2="174.7" stroke="#0e141b" stroke-width="1.5" opacity="0.80"/><line x1="821.4" y1="176.4" x2="866.7" y2="176.0" stroke="#3d4b59" stroke-width="0.7" opacity="0.55"/><line x1="824.7" y1="185.6" x2="871.7" y2="185.1" stroke="#0e141b" stroke-width="1.5" opacity="0.80"/><line x1="824.7" y1="186.9" x2="871.7" y2="186.4" stroke="#3d4b59" stroke-width="0.7" opacity="0.55"/><line x1="828.1" y1="196.1" x2="876.6" y2="195.4" stroke="#0e141b" stroke-width="1.5" opacity="0.80"/><line x1="828.1" y1="197.4" x2="876.6" y2="196.7" stroke="#3d4b59" stroke-width="0.7" opacity="0.55"/><g transform="translate(862.6,162.2)"><circle r="20.7" fill="url(#gGreen)"/><circle r="20.099999999999998" fill="none" stroke="#5cc070" stroke-width=".8" opacity=".6"/><path d="M-10.6,0 C-10.6,-3 -8,-5.6 -4.5,-5.7 L1,-6 C3,-6 4.5,-5 5.5,-3.5 L8.8,1 C9.4,2.3 9.3,4 8.6,5.2 L2.2,15.6 C1,17.4 -2.4,17.4 -3.6,15.4 L-9.4,6 C-10.4,4 -10.8,2 -10.6,0Z" fill="#fff"/><ellipse cx="-2.6" cy=".4" rx="4.1" ry="3" fill="#0c7f3b" transform="rotate(12 -2.6 .4)"/><path d="M3.4,-5.2 L2.2,-15.6 C2.3,-17.2 4.6,-17.6 5,-16 L8,-2.5Z" fill="#fff"/><path d="M6.2,-7.5 L8.2,-15.6 C8.6,-16.4 9.6,-16 9.5,-15.2 L8.2,-4.5Z" fill="#fff"/><path d="M9,-4.4 L10.3,-9.6 C10.6,-10.2 11.3,-10 11.2,-9.3 L10,-2.8Z" fill="#fff"/><path d="M3.6,-4.6 L8.6,1.2" stroke="#0c7f3b" stroke-width=".6"/></g></g>
<!-- panel 3 -->
<g clip-path="url(#cp3)"><rect x="245" y="416.6" width="181.8" height="372" fill="#58585a"/><rect x="245" y="424.8" width="181.6" height="29" fill="url(#p3bat)"/><rect x="245" y="511.8" width="181.6" height="29" fill="url(#p3bat)"/><rect x="245" y="598.7" width="181.6" height="29" fill="url(#p3bat)"/><rect x="245" y="685.3" width="181.6" height="29" fill="url(#p3bat)"/><rect x="245" y="757.4" width="181.6" height="13.2" fill="#d9d9da"/><rect x="11" y="770.4" width="415.6" height="16" fill="#e1e1e2"/><path d="M11,786.6 L426.8,786.6 L426.8,807.8 Q330,808.5 226,802.6 L188,802.6 Q110,806.5 11,807.8Z" fill="url(#p3fas)"/><rect x="11" y="786.6" width="415.8" height="21" fill="url(#p3fas2)"/><path d="M164.8,803.0 L188.6,803.0 L188.6,874.4Z" fill="#8b8b8d" /><rect x="188.1" y="797" width="37.3" height="77.4" fill="url(#p3post)"/><path d="M188.1,803 V874.4 H225.4 V803" fill="none" stroke="#77777a" stroke-width=".7"/><rect x="194" y="787" width="24" height="10.5" fill="#9d9da0"/><rect x="197" y="787" width="18" height="4.5" fill="#c9c9cb"/><g clip-path="url(#cp3sheet)"><rect x="11" y="412" width="352" height="376" fill="url(#t3base)"/><rect x="11" y="412" width="352" height="376" fill="url(#t3str)"/><path d="M11.0,407.9 L11.7,407.6 L15.1,405.3 L16.8,404.0 L18.5,402.7 L21.9,400.4 L25.3,399.5 L61.3,399.5 L64.7,400.4 L68.1,402.7 L69.8,404.0 L71.5,405.3 L74.9,407.6 L78.3,408.5 L101.8,408.5 L105.2,407.6 L108.6,405.3 L110.3,404.0 L112.0,402.7 L115.4,400.4 L118.8,399.5 L154.8,399.5 L158.2,400.4 L161.6,402.7 L163.3,404.0 L165.0,405.3 L168.4,407.6 L171.8,408.5 L195.3,408.5 L198.7,407.6 L202.1,405.3 L203.8,404.0 L205.5,402.7 L208.9,400.4 L212.3,399.5 L248.3,399.5 L251.7,400.4 L255.1,402.7 L256.8,404.0 L258.5,405.3 L261.9,407.6 L265.3,408.5 L288.8,408.5 L292.2,407.6 L295.6,405.3 L297.3,404.0 L299.0,402.7 L302.4,400.4 L305.8,399.5 L341.8,399.5 L345.2,400.4 L348.6,402.7 L350.3,404.0 L352.0,405.3 L355.4,407.6 L358.8,408.5 L365.0,408.5 L365.0,492.0 L333.5,492.0 L330.1,492.9 L326.7,495.2 L325.0,496.5 L323.3,497.8 L319.9,500.1 L316.5,501.0 L293.0,501.0 L289.6,500.1 L286.2,497.8 L284.5,496.5 L282.8,495.2 L279.4,492.9 L276.0,492.0 L240.0,492.0 L236.6,492.9 L233.2,495.2 L231.5,496.5 L229.8,497.8 L226.4,500.1 L223.0,501.0 L199.5,501.0 L196.1,500.1 L192.7,497.8 L191.0,496.5 L189.3,495.2 L185.9,492.9 L182.5,492.0 L146.5,492.0 L143.1,492.9 L139.7,495.2 L138.0,496.5 L136.3,497.8 L132.9,500.1 L129.5,501.0 L106.0,501.0 L102.6,500.1 L99.2,497.8 L97.5,496.5 L95.8,495.2 L92.4,492.9 L89.0,492.0 L53.0,492.0 L49.6,492.9 L46.2,495.2 L44.5,496.5 L42.8,497.8 L39.4,500.1 L36.0,501.0 L12.5,501.0 L11.0,500.8Z" fill="url(#t3row)"/><path d="M11.0,500.8 L12.5,501.0 L36.0,501.0 L39.4,500.1 L42.8,497.8 L44.5,496.5 L46.2,495.2 L49.6,492.9 L53.0,492.0 L89.0,492.0 L92.4,492.9 L95.8,495.2 L97.5,496.5 L99.2,497.8 L102.6,500.1 L106.0,501.0 L129.5,501.0 L132.9,500.1 L136.3,497.8 L138.0,496.5 L139.7,495.2 L143.1,492.9 L146.5,492.0 L182.5,492.0 L185.9,492.9 L189.3,495.2 L191.0,496.5 L192.7,497.8 L196.1,500.1 L199.5,501.0 L223.0,501.0 L226.4,500.1 L229.8,497.8 L231.5,496.5 L233.2,495.2 L236.6,492.9 L240.0,492.0 L276.0,492.0 L279.4,492.9 L282.8,495.2 L284.5,496.5 L286.2,497.8 L289.6,500.1 L293.0,501.0 L316.5,501.0 L319.9,500.1 L323.3,497.8 L325.0,496.5 L326.7,495.2 L330.1,492.9 L333.5,492.0 L365.0,492.0 L365.0,585.0 L361.3,585.0 L357.9,585.9 L354.5,588.2 L352.8,589.5 L351.1,590.8 L347.7,593.1 L344.3,594.0 L320.8,594.0 L317.4,593.1 L314.0,590.8 L312.3,589.5 L310.6,588.2 L307.2,585.9 L303.8,585.0 L267.8,585.0 L264.4,585.9 L261.0,588.2 L259.3,589.5 L257.6,590.8 L254.2,593.1 L250.8,594.0 L227.3,594.0 L223.9,593.1 L220.5,590.8 L218.8,589.5 L217.1,588.2 L213.7,585.9 L210.3,585.0 L174.3,585.0 L170.9,585.9 L167.5,588.2 L165.8,589.5 L164.1,590.8 L160.7,593.1 L157.3,594.0 L133.8,594.0 L130.4,593.1 L127.0,590.8 L125.3,589.5 L123.6,588.2 L120.2,585.9 L116.8,585.0 L80.8,585.0 L77.4,585.9 L74.0,588.2 L72.3,589.5 L70.6,590.8 L67.2,593.1 L63.8,594.0 L40.3,594.0 L36.9,593.1 L33.5,590.8 L31.8,589.5 L30.1,588.2 L26.7,585.9 L23.3,585.0 L11.0,585.0Z" fill="url(#t3row)"/><path d="M11.0,585.0 L23.3,585.0 L26.7,585.9 L30.1,588.2 L31.8,589.5 L33.5,590.8 L36.9,593.1 L40.3,594.0 L63.8,594.0 L67.2,593.1 L70.6,590.8 L72.3,589.5 L74.0,588.2 L77.4,585.9 L80.8,585.0 L116.8,585.0 L120.2,585.9 L123.6,588.2 L125.3,589.5 L127.0,590.8 L130.4,593.1 L133.8,594.0 L157.3,594.0 L160.7,593.1 L164.1,590.8 L165.8,589.5 L167.5,588.2 L170.9,585.9 L174.3,585.0 L210.3,585.0 L213.7,585.9 L217.1,588.2 L218.8,589.5 L220.5,590.8 L223.9,593.1 L227.3,594.0 L250.8,594.0 L254.2,593.1 L257.6,590.8 L259.3,589.5 L261.0,588.2 L264.4,585.9 L267.8,585.0 L303.8,585.0 L307.2,585.9 L310.6,588.2 L312.3,589.5 L314.0,590.8 L317.4,593.1 L320.8,594.0 L344.3,594.0 L347.7,593.1 L351.1,590.8 L352.8,589.5 L354.5,588.2 L357.9,585.9 L361.3,585.0 L365.0,585.0 L365.0,691.0 L349.9,691.0 L346.5,690.1 L343.1,687.8 L341.4,686.5 L339.7,685.2 L336.3,682.9 L332.9,682.0 L296.9,682.0 L293.5,682.9 L290.1,685.2 L288.4,686.5 L286.7,687.8 L283.3,690.1 L279.9,691.0 L256.4,691.0 L253.0,690.1 L249.6,687.8 L247.9,686.5 L246.2,685.2 L242.8,682.9 L239.4,682.0 L203.4,682.0 L200.0,682.9 L196.6,685.2 L194.9,686.5 L193.2,687.8 L189.8,690.1 L186.4,691.0 L162.9,691.0 L159.5,690.1 L156.1,687.8 L154.4,686.5 L152.7,685.2 L149.3,682.9 L145.9,682.0 L109.9,682.0 L106.5,682.9 L103.1,685.2 L101.4,686.5 L99.7,687.8 L96.3,690.1 L92.9,691.0 L69.4,691.0 L66.0,690.1 L62.6,687.8 L60.9,686.5 L59.2,685.2 L55.8,682.9 L52.4,682.0 L16.4,682.0 L13.0,682.9 L11.0,684.1Z" fill="url(#t3row)"/><path d="M11.0,684.1 L13.0,682.9 L16.4,682.0 L52.4,682.0 L55.8,682.9 L59.2,685.2 L60.9,686.5 L62.6,687.8 L66.0,690.1 L69.4,691.0 L92.9,691.0 L96.3,690.1 L99.7,687.8 L101.4,686.5 L103.1,685.2 L106.5,682.9 L109.9,682.0 L145.9,682.0 L149.3,682.9 L152.7,685.2 L154.4,686.5 L156.1,687.8 L159.5,690.1 L162.9,691.0 L186.4,691.0 L189.8,690.1 L193.2,687.8 L194.9,686.5 L196.6,685.2 L200.0,682.9 L203.4,682.0 L239.4,682.0 L242.8,682.9 L246.2,685.2 L247.9,686.5 L249.6,687.8 L253.0,690.1 L256.4,691.0 L279.9,691.0 L283.3,690.1 L286.7,687.8 L288.4,686.5 L290.1,685.2 L293.5,682.9 L296.9,682.0 L332.9,682.0 L336.3,682.9 L339.7,685.2 L341.4,686.5 L343.1,687.8 L346.5,690.1 L349.9,691.0 L365.0,691.0 L365.0,777.2 L364.4,776.9 L361.0,776.0 L325.0,776.0 L321.6,776.9 L318.2,779.2 L316.5,780.5 L314.8,781.8 L311.4,784.1 L308.0,785.0 L284.5,785.0 L281.1,784.1 L277.7,781.8 L276.0,780.5 L274.3,779.2 L270.9,776.9 L267.5,776.0 L231.5,776.0 L228.1,776.9 L224.7,779.2 L223.0,780.5 L221.3,781.8 L217.9,784.1 L214.5,785.0 L191.0,785.0 L187.6,784.1 L184.2,781.8 L182.5,780.5 L180.8,779.2 L177.4,776.9 L174.0,776.0 L138.0,776.0 L134.6,776.9 L131.2,779.2 L129.5,780.5 L127.8,781.8 L124.4,784.1 L121.0,785.0 L97.5,785.0 L94.1,784.1 L90.7,781.8 L89.0,780.5 L87.3,779.2 L83.9,776.9 L80.5,776.0 L44.5,776.0 L41.1,776.9 L37.7,779.2 L36.0,780.5 L34.3,781.8 L30.9,784.1 L27.5,785.0 L11.0,785.0Z" fill="url(#t3row)"/><path d="M11.0,500.8 L12.5,501.0 L36.0,501.0 L39.4,500.1 L42.8,497.8 L44.5,496.5 L46.2,495.2 L49.6,492.9 L53.0,492.0 L89.0,492.0 L92.4,492.9 L95.8,495.2 L97.5,496.5 L99.2,497.8 L102.6,500.1 L106.0,501.0 L129.5,501.0 L132.9,500.1 L136.3,497.8 L138.0,496.5 L139.7,495.2 L143.1,492.9 L146.5,492.0 L182.5,492.0 L185.9,492.9 L189.3,495.2 L191.0,496.5 L192.7,497.8 L196.1,500.1 L199.5,501.0 L223.0,501.0 L226.4,500.1 L229.8,497.8 L231.5,496.5 L233.2,495.2 L236.6,492.9 L240.0,492.0 L276.0,492.0 L279.4,492.9 L282.8,495.2 L284.5,496.5 L286.2,497.8 L289.6,500.1 L293.0,501.0 L316.5,501.0 L319.9,500.1 L323.3,497.8 L325.0,496.5 L326.7,495.2 L330.1,492.9 L333.5,492.0 L365.0,492.0" fill="none" stroke="#0b1118" stroke-width="2.2" opacity=".85" transform="translate(0,1)"/><path d="M11.0,500.8 L12.5,501.0 L36.0,501.0 L39.4,500.1 L42.8,497.8 L44.5,496.5 L46.2,495.2 L49.6,492.9 L53.0,492.0 L89.0,492.0 L92.4,492.9 L95.8,495.2 L97.5,496.5 L99.2,497.8 L102.6,500.1 L106.0,501.0 L129.5,501.0 L132.9,500.1 L136.3,497.8 L138.0,496.5 L139.7,495.2 L143.1,492.9 L146.5,492.0 L182.5,492.0 L185.9,492.9 L189.3,495.2 L191.0,496.5 L192.7,497.8 L196.1,500.1 L199.5,501.0 L223.0,501.0 L226.4,500.1 L229.8,497.8 L231.5,496.5 L233.2,495.2 L236.6,492.9 L240.0,492.0 L276.0,492.0 L279.4,492.9 L282.8,495.2 L284.5,496.5 L286.2,497.8 L289.6,500.1 L293.0,501.0 L316.5,501.0 L319.9,500.1 L323.3,497.8 L325.0,496.5 L326.7,495.2 L330.1,492.9 L333.5,492.0 L365.0,492.0" fill="none" stroke="#5d7486" stroke-width=".7" opacity=".55" transform="translate(0,5)"/><path d="M11.0,500.8 L12.5,501.0 L36.0,501.0 L39.4,500.1 L42.8,497.8 L44.5,496.5 L46.2,495.2 L49.6,492.9 L53.0,492.0 L89.0,492.0 L92.4,492.9 L95.8,495.2 L97.5,496.5 L99.2,497.8 L102.6,500.1 L106.0,501.0 L129.5,501.0 L132.9,500.1 L136.3,497.8 L138.0,496.5 L139.7,495.2 L143.1,492.9 L146.5,492.0 L182.5,492.0 L185.9,492.9 L189.3,495.2 L191.0,496.5 L192.7,497.8 L196.1,500.1 L199.5,501.0 L223.0,501.0 L226.4,500.1 L229.8,497.8 L231.5,496.5 L233.2,495.2 L236.6,492.9 L240.0,492.0 L276.0,492.0 L279.4,492.9 L282.8,495.2 L284.5,496.5 L286.2,497.8 L289.6,500.1 L293.0,501.0 L316.5,501.0 L319.9,500.1 L323.3,497.8 L325.0,496.5 L326.7,495.2 L330.1,492.9 L333.5,492.0 L365.0,492.0" fill="none" stroke="#8fa8ba" stroke-width=".6" opacity=".35" transform="translate(0,-1)"/><path d="M11.0,585.0 L23.3,585.0 L26.7,585.9 L30.1,588.2 L31.8,589.5 L33.5,590.8 L36.9,593.1 L40.3,594.0 L63.8,594.0 L67.2,593.1 L70.6,590.8 L72.3,589.5 L74.0,588.2 L77.4,585.9 L80.8,585.0 L116.8,585.0 L120.2,585.9 L123.6,588.2 L125.3,589.5 L127.0,590.8 L130.4,593.1 L133.8,594.0 L157.3,594.0 L160.7,593.1 L164.1,590.8 L165.8,589.5 L167.5,588.2 L170.9,585.9 L174.3,585.0 L210.3,585.0 L213.7,585.9 L217.1,588.2 L218.8,589.5 L220.5,590.8 L223.9,593.1 L227.3,594.0 L250.8,594.0 L254.2,593.1 L257.6,590.8 L259.3,589.5 L261.0,588.2 L264.4,585.9 L267.8,585.0 L303.8,585.0 L307.2,585.9 L310.6,588.2 L312.3,589.5 L314.0,590.8 L317.4,593.1 L320.8,594.0 L344.3,594.0 L347.7,593.1 L351.1,590.8 L352.8,589.5 L354.5,588.2 L357.9,585.9 L361.3,585.0 L365.0,585.0" fill="none" stroke="#0b1118" stroke-width="2.2" opacity=".85" transform="translate(0,1)"/><path d="M11.0,585.0 L23.3,585.0 L26.7,585.9 L30.1,588.2 L31.8,589.5 L33.5,590.8 L36.9,593.1 L40.3,594.0 L63.8,594.0 L67.2,593.1 L70.6,590.8 L72.3,589.5 L74.0,588.2 L77.4,585.9 L80.8,585.0 L116.8,585.0 L120.2,585.9 L123.6,588.2 L125.3,589.5 L127.0,590.8 L130.4,593.1 L133.8,594.0 L157.3,594.0 L160.7,593.1 L164.1,590.8 L165.8,589.5 L167.5,588.2 L170.9,585.9 L174.3,585.0 L210.3,585.0 L213.7,585.9 L217.1,588.2 L218.8,589.5 L220.5,590.8 L223.9,593.1 L227.3,594.0 L250.8,594.0 L254.2,593.1 L257.6,590.8 L259.3,589.5 L261.0,588.2 L264.4,585.9 L267.8,585.0 L303.8,585.0 L307.2,585.9 L310.6,588.2 L312.3,589.5 L314.0,590.8 L317.4,593.1 L320.8,594.0 L344.3,594.0 L347.7,593.1 L351.1,590.8 L352.8,589.5 L354.5,588.2 L357.9,585.9 L361.3,585.0 L365.0,585.0" fill="none" stroke="#5d7486" stroke-width=".7" opacity=".55" transform="translate(0,5)"/><path d="M11.0,585.0 L23.3,585.0 L26.7,585.9 L30.1,588.2 L31.8,589.5 L33.5,590.8 L36.9,593.1 L40.3,594.0 L63.8,594.0 L67.2,593.1 L70.6,590.8 L72.3,589.5 L74.0,588.2 L77.4,585.9 L80.8,585.0 L116.8,585.0 L120.2,585.9 L123.6,588.2 L125.3,589.5 L127.0,590.8 L130.4,593.1 L133.8,594.0 L157.3,594.0 L160.7,593.1 L164.1,590.8 L165.8,589.5 L167.5,588.2 L170.9,585.9 L174.3,585.0 L210.3,585.0 L213.7,585.9 L217.1,588.2 L218.8,589.5 L220.5,590.8 L223.9,593.1 L227.3,594.0 L250.8,594.0 L254.2,593.1 L257.6,590.8 L259.3,589.5 L261.0,588.2 L264.4,585.9 L267.8,585.0 L303.8,585.0 L307.2,585.9 L310.6,588.2 L312.3,589.5 L314.0,590.8 L317.4,593.1 L320.8,594.0 L344.3,594.0 L347.7,593.1 L351.1,590.8 L352.8,589.5 L354.5,588.2 L357.9,585.9 L361.3,585.0 L365.0,585.0" fill="none" stroke="#8fa8ba" stroke-width=".6" opacity=".35" transform="translate(0,-1)"/><path d="M11.0,684.1 L13.0,682.9 L16.4,682.0 L52.4,682.0 L55.8,682.9 L59.2,685.2 L60.9,686.5 L62.6,687.8 L66.0,690.1 L69.4,691.0 L92.9,691.0 L96.3,690.1 L99.7,687.8 L101.4,686.5 L103.1,685.2 L106.5,682.9 L109.9,682.0 L145.9,682.0 L149.3,682.9 L152.7,685.2 L154.4,686.5 L156.1,687.8 L159.5,690.1 L162.9,691.0 L186.4,691.0 L189.8,690.1 L193.2,687.8 L194.9,686.5 L196.6,685.2 L200.0,682.9 L203.4,682.0 L239.4,682.0 L242.8,682.9 L246.2,685.2 L247.9,686.5 L249.6,687.8 L253.0,690.1 L256.4,691.0 L279.9,691.0 L283.3,690.1 L286.7,687.8 L288.4,686.5 L290.1,685.2 L293.5,682.9 L296.9,682.0 L332.9,682.0 L336.3,682.9 L339.7,685.2 L341.4,686.5 L343.1,687.8 L346.5,690.1 L349.9,691.0 L365.0,691.0" fill="none" stroke="#0b1118" stroke-width="2.2" opacity=".85" transform="translate(0,1)"/><path d="M11.0,684.1 L13.0,682.9 L16.4,682.0 L52.4,682.0 L55.8,682.9 L59.2,685.2 L60.9,686.5 L62.6,687.8 L66.0,690.1 L69.4,691.0 L92.9,691.0 L96.3,690.1 L99.7,687.8 L101.4,686.5 L103.1,685.2 L106.5,682.9 L109.9,682.0 L145.9,682.0 L149.3,682.9 L152.7,685.2 L154.4,686.5 L156.1,687.8 L159.5,690.1 L162.9,691.0 L186.4,691.0 L189.8,690.1 L193.2,687.8 L194.9,686.5 L196.6,685.2 L200.0,682.9 L203.4,682.0 L239.4,682.0 L242.8,682.9 L246.2,685.2 L247.9,686.5 L249.6,687.8 L253.0,690.1 L256.4,691.0 L279.9,691.0 L283.3,690.1 L286.7,687.8 L288.4,686.5 L290.1,685.2 L293.5,682.9 L296.9,682.0 L332.9,682.0 L336.3,682.9 L339.7,685.2 L341.4,686.5 L343.1,687.8 L346.5,690.1 L349.9,691.0 L365.0,691.0" fill="none" stroke="#5d7486" stroke-width=".7" opacity=".55" transform="translate(0,5)"/><path d="M11.0,684.1 L13.0,682.9 L16.4,682.0 L52.4,682.0 L55.8,682.9 L59.2,685.2 L60.9,686.5 L62.6,687.8 L66.0,690.1 L69.4,691.0 L92.9,691.0 L96.3,690.1 L99.7,687.8 L101.4,686.5 L103.1,685.2 L106.5,682.9 L109.9,682.0 L145.9,682.0 L149.3,682.9 L152.7,685.2 L154.4,686.5 L156.1,687.8 L159.5,690.1 L162.9,691.0 L186.4,691.0 L189.8,690.1 L193.2,687.8 L194.9,686.5 L196.6,685.2 L200.0,682.9 L203.4,682.0 L239.4,682.0 L242.8,682.9 L246.2,685.2 L247.9,686.5 L249.6,687.8 L253.0,690.1 L256.4,691.0 L279.9,691.0 L283.3,690.1 L286.7,687.8 L288.4,686.5 L290.1,685.2 L293.5,682.9 L296.9,682.0 L332.9,682.0 L336.3,682.9 L339.7,685.2 L341.4,686.5 L343.1,687.8 L346.5,690.1 L349.9,691.0 L365.0,691.0" fill="none" stroke="#8fa8ba" stroke-width=".6" opacity=".35" transform="translate(0,-1)"/><path d="M11.0,785.0 L27.5,785.0 L30.9,784.1 L34.3,781.8 L36.0,780.5 L37.7,779.2 L41.1,776.9 L44.5,776.0 L80.5,776.0 L83.9,776.9 L87.3,779.2 L89.0,780.5 L90.7,781.8 L94.1,784.1 L97.5,785.0 L121.0,785.0 L124.4,784.1 L127.8,781.8 L129.5,780.5 L131.2,779.2 L134.6,776.9 L138.0,776.0 L174.0,776.0 L177.4,776.9 L180.8,779.2 L182.5,780.5 L184.2,781.8 L187.6,784.1 L191.0,785.0 L214.5,785.0 L217.9,784.1 L221.3,781.8 L223.0,780.5 L224.7,779.2 L228.1,776.9 L231.5,776.0 L267.5,776.0 L270.9,776.9 L274.3,779.2 L276.0,780.5 L277.7,781.8 L281.1,784.1 L284.5,785.0 L308.0,785.0 L311.4,784.1 L314.8,781.8 L316.5,780.5 L318.2,779.2 L321.6,776.9 L325.0,776.0 L361.0,776.0 L364.4,776.9 L365.0,777.2" fill="none" stroke="#0c1218" stroke-width="4" opacity=".75" transform="translate(0,-1.2)"/><rect x="11" y="412" width="352" height="376" filter="url(#grain)" opacity=".28"/><path d="M250.2,413 L360.4,781" stroke="#3d5263" stroke-width="2.2" opacity=".6" fill="none" transform="translate(-1.4,0)"/></g><line x1="286.9" y1="425.0" x2="310.1" y2="425.0" stroke="#e0384c" stroke-width="1.2" /><line x1="286.9" y1="512.4" x2="310.1" y2="512.4" stroke="#e0384c" stroke-width="1.2" /><path d="M297.7,425.6 L303.6,434.8 L300.0,434.8 L300.0,502.2 L303.6,502.2 L297.7,511.4 L291.8,502.2 L295.4,502.2 L295.4,434.8 L291.8,434.8Z" fill="#000" opacity=".35" filter="url(#blur1)" transform="translate(.8,.8)"/><path d="M297.7,425.6 L303.6,434.8 L300.0,434.8 L300.0,502.2 L303.6,502.2 L297.7,511.4 L291.8,502.2 L295.4,502.2 L295.4,434.8 L291.8,434.8Z" fill="url(#p3arr)" stroke="#9a9a9c" stroke-width=".5"/><line x1="313.3" y1="512.2" x2="336.5" y2="512.2" stroke="#e0384c" stroke-width="1.2" /><line x1="313.3" y1="599.4" x2="336.5" y2="599.4" stroke="#e0384c" stroke-width="1.2" /><path d="M324.1,512.8 L330.0,522.0 L326.4,522.0 L326.4,589.2 L330.0,589.2 L324.1,598.4 L318.2,589.2 L321.8,589.2 L321.8,522.0 L318.2,522.0Z" fill="#000" opacity=".35" filter="url(#blur1)" transform="translate(.8,.8)"/><path d="M324.1,512.8 L330.0,522.0 L326.4,522.0 L326.4,589.2 L330.0,589.2 L324.1,598.4 L318.2,589.2 L321.8,589.2 L321.8,522.0 L318.2,522.0Z" fill="url(#p3arr)" stroke="#9a9a9c" stroke-width=".5"/><line x1="340.3" y1="599.0" x2="363.5" y2="599.0" stroke="#e0384c" stroke-width="1.2" /><line x1="340.3" y1="686.0" x2="363.5" y2="686.0" stroke="#e0384c" stroke-width="1.2" /><path d="M351.1,599.6 L357.0,608.8 L353.4,608.8 L353.4,675.8 L357.0,675.8 L351.1,685.0 L345.2,675.8 L348.8,675.8 L348.8,608.8 L345.2,608.8Z" fill="#000" opacity=".35" filter="url(#blur1)" transform="translate(.8,.8)"/><path d="M351.1,599.6 L357.0,608.8 L353.4,608.8 L353.4,675.8 L357.0,675.8 L351.1,685.0 L345.2,675.8 L348.8,675.8 L348.8,608.8 L345.2,608.8Z" fill="url(#p3arr)" stroke="#9a9a9c" stroke-width=".5"/><line x1="386.9" y1="685.8" x2="410.1" y2="685.8" stroke="#e0384c" stroke-width="1.2" /><line x1="386.9" y1="771.2" x2="410.1" y2="771.2" stroke="#e0384c" stroke-width="1.2" /><path d="M397.7,686.4 L403.6,695.6 L400.0,695.6 L400.0,761.0 L403.6,761.0 L397.7,770.2 L391.8,761.0 L395.4,761.0 L395.4,695.6 L391.8,695.6Z" fill="#000" opacity=".35" filter="url(#blur1)" transform="translate(.8,.8)"/><path d="M397.7,686.4 L403.6,695.6 L400.0,695.6 L400.0,761.0 L403.6,761.0 L397.7,770.2 L391.8,761.0 L395.4,761.0 L395.4,695.6 L391.8,695.6Z" fill="url(#p3arr)" stroke="#9a9a9c" stroke-width=".5"/><text x="305.5" y="484.5" font-family="Liberation Sans, sans-serif" font-weight="700" font-size="13.6" fill="#f4f4f4" stroke="#2a2a2c" stroke-width="1.7" stroke-opacity=".6" paint-order="stroke" textLength="60.4" lengthAdjust="spacingAndGlyphs">350 mm</text><text x="330.9" y="571.4" font-family="Liberation Sans, sans-serif" font-weight="700" font-size="13.6" fill="#f4f4f4" stroke="#2a2a2c" stroke-width="1.7" stroke-opacity=".6" paint-order="stroke" textLength="60.4" lengthAdjust="spacingAndGlyphs">350 mm</text><text x="358.9" y="658.6" font-family="Liberation Sans, sans-serif" font-weight="700" font-size="13.6" fill="#f4f4f4" stroke="#2a2a2c" stroke-width="1.7" stroke-opacity=".6" paint-order="stroke" textLength="60.4" lengthAdjust="spacingAndGlyphs">350 mm</text><text x="355.2" y="738.4" font-family="Liberation Sans, sans-serif" font-weight="700" font-size="13.6" fill="#f4f4f4" stroke="#2a2a2c" stroke-width="1.7" stroke-opacity=".6" paint-order="stroke" textLength="60.4" lengthAdjust="spacingAndGlyphs">250 mm</text><circle cx="206.7" cy="792.2" r="21" fill="none" stroke="#e21d2a" stroke-width="1.3"/><circle cx="163.6" cy="689.6" r="97.5" fill="#000" opacity=".35" filter="url(#blur3)"/><circle cx="163.6" cy="688.6" r="96" fill="#fff"/><g clip-path="url(#cp3mag)"><rect x="70" y="595" width="190" height="190" fill="url(#p3mag)"/><path d="M66.0,674.8 L76.2,680.0 L129.1,708.0 L104.2,752.3 L70.0,790.0 L60.0,790.0Z" fill="#8f8f91" /><path d="M68.0,657.2 L80.5,663.8 L136.6,695.8 L129.1,708.0 L76.2,680.0 L68.0,676.0Z" fill="url(#p3band)" /><line x1="68.0" y1="657.6" x2="136.6" y2="696.0" stroke="#e6e6e7" stroke-width="0.9" /><path d="M110.1,665.3 L143.1,683.2 L135.5,696.2 L103.2,675.7Z" fill="#6e6e71" /><path d="M122.6,636.8 L159.3,655.2 L144.2,683.0 L108.5,664.5Z" fill="#dcdcdd" stroke="#5e5e61" stroke-width=".8"/><g fill="none" stroke="#4f4f52" stroke-width=".85" clip-path="url(#cp3wood)"><ellipse cx="150" cy="678" rx="6.2" ry="5.0" transform="rotate(28 150 678)"/><ellipse cx="150" cy="678" rx="12.5" ry="10.0" transform="rotate(28 150 678)"/><ellipse cx="150" cy="678" rx="19.4" ry="15.5" transform="rotate(28 150 678)"/><ellipse cx="150" cy="678" rx="26.2" ry="21.0" transform="rotate(28 150 678)"/><ellipse cx="150" cy="678" rx="33.8" ry="27.0" transform="rotate(28 150 678)"/><ellipse cx="150" cy="678" rx="41.9" ry="33.5" transform="rotate(28 150 678)"/></g><path d="M150,684 Q165,690 180,686 T215,682 L252,676" fill="none" stroke="#b9b9bc" stroke-width="1" opacity=".8"/><path d="M104.2,624.9 L198.5,667.3 Q207.5,671.5 207.6,677.5 Q206,686 203.6,692.3 Q204,696.6 207,696.4" fill="none" stroke="#d9222a" stroke-width="2" stroke-linecap="round"/><line x1="146.3" y1="686.4" x2="171.2" y2="699.4" stroke="#d9222a" stroke-width="1.3" /><line x1="138.8" y1="697.2" x2="163.6" y2="710.2" stroke="#d9222a" stroke-width="1.3" /><line x1="173.5" y1="676.5" x2="166.5" y2="691.5" stroke="#d9222a" stroke-width="1.3" /><path d="M165.3,694.8 L163.5,686.8 L170.3,690.0Z" fill="#d9222a" /><line x1="145.5" y1="725.0" x2="152.8" y2="713.5" stroke="#d9222a" stroke-width="1.3" /><path d="M154.6,710.0 L156.0,718.0 L149.4,714.6Z" fill="#d9222a" /><text x="0" y="0" transform="translate(167.2,740.5) rotate(-61.5)" font-family="Liberation Sans, sans-serif" font-weight="700" font-size="16" fill="#111" stroke="#111" stroke-width=".5" letter-spacing=".25">~12 mm</text></g><circle cx="163.6" cy="688.6" r="87.2" fill="none" stroke="#9a9a9c" stroke-width=".6" opacity=".6"/></g>
<!-- panel 4 -->
<g clip-path="url(#cp4)"><g clip-path="url(#cp4grey)"><rect x="610" y="430" width="285" height="426" fill="#888a90"/><rect x="610" y="430" width="285" height="426" fill="url(#t4str)" opacity="0.24"/><path d="M610.0,433.1 L610.3,433.1 L627.3,433.1 L629.2,433.6 L631.1,434.8 L632.0,435.5 L633.0,436.2 L634.9,437.4 L636.8,437.9 L645.6,437.9 L647.5,437.4 L649.4,436.2 L650.3,435.5 L651.3,434.8 L653.2,433.6 L655.1,433.1 L672.1,433.1 L674.0,433.6 L675.9,434.8 L676.8,435.5 L677.8,436.2 L679.7,437.4 L681.6,437.9 L690.4,437.9 L692.3,437.4 L694.2,436.2 L695.1,435.5 L696.1,434.8 L698.0,433.6 L699.9,433.1 L716.9,433.1 L718.8,433.6 L720.7,434.8 L721.6,435.5 L722.6,436.2 L724.5,437.4 L726.4,437.9 L735.2,437.9 L737.1,437.4 L739.0,436.2 L739.9,435.5 L740.9,434.8 L742.8,433.6 L744.7,433.1 L761.7,433.1 L763.6,433.6 L765.5,434.8 L766.4,435.5 L767.4,436.2 L769.3,437.4 L771.2,437.9 L780.0,437.9 L781.9,437.4 L783.8,436.2 L784.7,435.5 L785.7,434.8 L787.6,433.6 L789.5,433.1 L806.5,433.1 L808.4,433.6 L810.3,434.8 L811.2,435.5 L812.2,436.2 L814.1,437.4 L816.0,437.9 L824.8,437.9 L826.7,437.4 L828.6,436.2 L829.5,435.5 L830.5,434.8 L832.4,433.6 L834.3,433.1 L851.3,433.1 L853.2,433.6 L855.1,434.8 L856.0,435.5 L857.0,436.2 L858.9,437.4 L860.8,437.9 L869.6,437.9 L871.5,437.4 L873.4,436.2 L874.3,435.5 L875.3,434.8 L877.2,433.6 L879.1,433.1 L895.0,433.1 L895.0,489.0 L893.9,489.2 L885.1,489.2 L883.2,488.7 L881.3,487.5 L880.3,486.8 L879.4,486.1 L877.5,484.9 L875.6,484.4 L858.6,484.4 L856.7,484.9 L854.8,486.1 L853.8,486.8 L852.9,487.5 L851.0,488.7 L849.1,489.2 L840.3,489.2 L838.4,488.7 L836.5,487.5 L835.5,486.8 L834.6,486.1 L832.7,484.9 L830.8,484.4 L813.8,484.4 L811.9,484.9 L810.0,486.1 L809.0,486.8 L808.1,487.5 L806.2,488.7 L804.3,489.2 L795.5,489.2 L793.6,488.7 L791.7,487.5 L790.7,486.8 L789.8,486.1 L787.9,484.9 L786.0,484.4 L769.0,484.4 L767.1,484.9 L765.2,486.1 L764.2,486.8 L763.3,487.5 L761.4,488.7 L759.5,489.2 L750.7,489.2 L748.8,488.7 L746.9,487.5 L745.9,486.8 L745.0,486.1 L743.1,484.9 L741.2,484.4 L724.2,484.4 L722.3,484.9 L720.4,486.1 L719.4,486.8 L718.5,487.5 L716.6,488.7 L714.7,489.2 L705.9,489.2 L704.0,488.7 L702.1,487.5 L701.1,486.8 L700.2,486.1 L698.3,484.9 L696.4,484.4 L679.4,484.4 L677.5,484.9 L675.6,486.1 L674.6,486.8 L673.7,487.5 L671.8,488.7 L669.9,489.2 L661.1,489.2 L659.2,488.7 L657.3,487.5 L656.3,486.8 L655.4,486.1 L653.5,484.9 L651.6,484.4 L634.6,484.4 L632.7,484.9 L630.8,486.1 L629.8,486.8 L628.9,487.5 L627.0,488.7 L625.1,489.2 L616.3,489.2 L614.4,488.7 L612.5,487.5 L611.5,486.8 L610.6,486.1 L610.0,485.7Z" fill="url(#t4rowg)"/><path d="M610.0,485.7 L610.6,486.1 L611.5,486.8 L612.5,487.5 L614.4,488.7 L616.3,489.2 L625.1,489.2 L627.0,488.7 L628.9,487.5 L629.8,486.8 L630.8,486.1 L632.7,484.9 L634.6,484.4 L651.6,484.4 L653.5,484.9 L655.4,486.1 L656.3,486.8 L657.3,487.5 L659.2,488.7 L661.1,489.2 L669.9,489.2 L671.8,488.7 L673.7,487.5 L674.6,486.8 L675.6,486.1 L677.5,484.9 L679.4,484.4 L696.4,484.4 L698.3,484.9 L700.2,486.1 L701.1,486.8 L702.1,487.5 L704.0,488.7 L705.9,489.2 L714.7,489.2 L716.6,488.7 L718.5,487.5 L719.4,486.8 L720.4,486.1 L722.3,484.9 L724.2,484.4 L741.2,484.4 L743.1,484.9 L745.0,486.1 L745.9,486.8 L746.9,487.5 L748.8,488.7 L750.7,489.2 L759.5,489.2 L761.4,488.7 L763.3,487.5 L764.2,486.8 L765.2,486.1 L767.1,484.9 L769.0,484.4 L786.0,484.4 L787.9,484.9 L789.8,486.1 L790.7,486.8 L791.7,487.5 L793.6,488.7 L795.5,489.2 L804.3,489.2 L806.2,488.7 L808.1,487.5 L809.0,486.8 L810.0,486.1 L811.9,484.9 L813.8,484.4 L830.8,484.4 L832.7,484.9 L834.6,486.1 L835.5,486.8 L836.5,487.5 L838.4,488.7 L840.3,489.2 L849.1,489.2 L851.0,488.7 L852.9,487.5 L853.8,486.8 L854.8,486.1 L856.7,484.9 L858.6,484.4 L875.6,484.4 L877.5,484.9 L879.4,486.1 L880.3,486.8 L881.3,487.5 L883.2,488.7 L885.1,489.2 L893.9,489.2 L895.0,489.0 L895.0,530.4 L880.4,530.4 L878.5,530.9 L876.6,532.1 L875.6,532.8 L874.7,533.5 L872.8,534.7 L870.9,535.2 L862.1,535.2 L860.2,534.7 L858.3,533.5 L857.3,532.8 L856.4,532.1 L854.5,530.9 L852.6,530.4 L835.6,530.4 L833.7,530.9 L831.8,532.1 L830.8,532.8 L829.9,533.5 L828.0,534.7 L826.1,535.2 L817.3,535.2 L815.4,534.7 L813.5,533.5 L812.5,532.8 L811.6,532.1 L809.7,530.9 L807.8,530.4 L790.8,530.4 L788.9,530.9 L787.0,532.1 L786.0,532.8 L785.1,533.5 L783.2,534.7 L781.3,535.2 L772.5,535.2 L770.6,534.7 L768.7,533.5 L767.7,532.8 L766.8,532.1 L764.9,530.9 L763.0,530.4 L746.0,530.4 L744.1,530.9 L742.2,532.1 L741.2,532.8 L740.3,533.5 L738.4,534.7 L736.5,535.2 L727.7,535.2 L725.8,534.7 L723.9,533.5 L722.9,532.8 L722.0,532.1 L720.1,530.9 L718.2,530.4 L701.2,530.4 L699.3,530.9 L697.4,532.1 L696.4,532.8 L695.5,533.5 L693.6,534.7 L691.7,535.2 L682.9,535.2 L681.0,534.7 L679.1,533.5 L678.1,532.8 L677.2,532.1 L675.3,530.9 L673.4,530.4 L656.4,530.4 L654.5,530.9 L652.6,532.1 L651.6,532.8 L650.7,533.5 L648.8,534.7 L646.9,535.2 L638.1,535.2 L636.2,534.7 L634.3,533.5 L633.3,532.8 L632.4,532.1 L630.5,530.9 L628.6,530.4 L611.6,530.4 L610.0,530.8Z" fill="url(#t4rowg)"/><path d="M610.0,530.8 L611.6,530.4 L628.6,530.4 L630.5,530.9 L632.4,532.1 L633.3,532.8 L634.3,533.5 L636.2,534.7 L638.1,535.2 L646.9,535.2 L648.8,534.7 L650.7,533.5 L651.6,532.8 L652.6,532.1 L654.5,530.9 L656.4,530.4 L673.4,530.4 L675.3,530.9 L677.2,532.1 L678.1,532.8 L679.1,533.5 L681.0,534.7 L682.9,535.2 L691.7,535.2 L693.6,534.7 L695.5,533.5 L696.4,532.8 L697.4,532.1 L699.3,530.9 L701.2,530.4 L718.2,530.4 L720.1,530.9 L722.0,532.1 L722.9,532.8 L723.9,533.5 L725.8,534.7 L727.7,535.2 L736.5,535.2 L738.4,534.7 L740.3,533.5 L741.2,532.8 L742.2,532.1 L744.1,530.9 L746.0,530.4 L763.0,530.4 L764.9,530.9 L766.8,532.1 L767.7,532.8 L768.7,533.5 L770.6,534.7 L772.5,535.2 L781.3,535.2 L783.2,534.7 L785.1,533.5 L786.0,532.8 L787.0,532.1 L788.9,530.9 L790.8,530.4 L807.8,530.4 L809.7,530.9 L811.6,532.1 L812.5,532.8 L813.5,533.5 L815.4,534.7 L817.3,535.2 L826.1,535.2 L828.0,534.7 L829.9,533.5 L830.8,532.8 L831.8,532.1 L833.7,530.9 L835.6,530.4 L852.6,530.4 L854.5,530.9 L856.4,532.1 L857.3,532.8 L858.3,533.5 L860.2,534.7 L862.1,535.2 L870.9,535.2 L872.8,534.7 L874.7,533.5 L875.6,532.8 L876.6,532.1 L878.5,530.9 L880.4,530.4 L895.0,530.4 L895.0,580.2 L894.5,580.5 L892.6,581.0 L883.8,581.0 L881.9,580.5 L880.0,579.3 L879.0,578.6 L878.1,577.9 L876.2,576.7 L874.3,576.2 L857.3,576.2 L855.4,576.7 L853.5,577.9 L852.5,578.6 L851.6,579.3 L849.7,580.5 L847.8,581.0 L839.0,581.0 L837.1,580.5 L835.2,579.3 L834.2,578.6 L833.3,577.9 L831.4,576.7 L829.5,576.2 L812.5,576.2 L810.6,576.7 L808.7,577.9 L807.7,578.6 L806.8,579.3 L804.9,580.5 L803.0,581.0 L794.2,581.0 L792.3,580.5 L790.4,579.3 L789.4,578.6 L788.5,577.9 L786.6,576.7 L784.7,576.2 L767.7,576.2 L765.8,576.7 L763.9,577.9 L762.9,578.6 L762.0,579.3 L760.1,580.5 L758.2,581.0 L749.4,581.0 L747.5,580.5 L745.6,579.3 L744.6,578.6 L743.7,577.9 L741.8,576.7 L739.9,576.2 L722.9,576.2 L721.0,576.7 L719.1,577.9 L718.1,578.6 L717.2,579.3 L715.3,580.5 L713.4,581.0 L704.6,581.0 L702.7,580.5 L700.8,579.3 L699.8,578.6 L698.9,577.9 L697.0,576.7 L695.1,576.2 L678.1,576.2 L676.2,576.7 L674.3,577.9 L673.3,578.6 L672.4,579.3 L670.5,580.5 L668.6,581.0 L659.8,581.0 L657.9,580.5 L656.0,579.3 L655.0,578.6 L654.1,577.9 L652.2,576.7 L650.3,576.2 L633.3,576.2 L631.4,576.7 L629.5,577.9 L628.5,578.6 L627.6,579.3 L625.7,580.5 L623.8,581.0 L615.0,581.0 L613.1,580.5 L611.2,579.3 L610.2,578.6 L610.0,578.4Z" fill="url(#t4rowg)"/><path d="M610.0,578.4 L610.2,578.6 L611.2,579.3 L613.1,580.5 L615.0,581.0 L623.8,581.0 L625.7,580.5 L627.6,579.3 L628.5,578.6 L629.5,577.9 L631.4,576.7 L633.3,576.2 L650.3,576.2 L652.2,576.7 L654.1,577.9 L655.0,578.6 L656.0,579.3 L657.9,580.5 L659.8,581.0 L668.6,581.0 L670.5,580.5 L672.4,579.3 L673.3,578.6 L674.3,577.9 L676.2,576.7 L678.1,576.2 L695.1,576.2 L697.0,576.7 L698.9,577.9 L699.8,578.6 L700.8,579.3 L702.7,580.5 L704.6,581.0 L713.4,581.0 L715.3,580.5 L717.2,579.3 L718.1,578.6 L719.1,577.9 L721.0,576.7 L722.9,576.2 L739.9,576.2 L741.8,576.7 L743.7,577.9 L744.6,578.6 L745.6,579.3 L747.5,580.5 L749.4,581.0 L758.2,581.0 L760.1,580.5 L762.0,579.3 L762.9,578.6 L763.9,577.9 L765.8,576.7 L767.7,576.2 L784.7,576.2 L786.6,576.7 L788.5,577.9 L789.4,578.6 L790.4,579.3 L792.3,580.5 L794.2,581.0 L803.0,581.0 L804.9,580.5 L806.8,579.3 L807.7,578.6 L808.7,577.9 L810.6,576.7 L812.5,576.2 L829.5,576.2 L831.4,576.7 L833.3,577.9 L834.2,578.6 L835.2,579.3 L837.1,580.5 L839.0,581.0 L847.8,581.0 L849.7,580.5 L851.6,579.3 L852.5,578.6 L853.5,577.9 L855.4,576.7 L857.3,576.2 L874.3,576.2 L876.2,576.7 L878.1,577.9 L879.0,578.6 L880.0,579.3 L881.9,580.5 L883.8,581.0 L892.6,581.0 L894.5,580.5 L895.0,580.2 L895.0,621.0 L878.5,621.0 L876.6,621.5 L874.7,622.7 L873.8,623.4 L872.8,624.1 L870.9,625.3 L869.0,625.8 L860.2,625.8 L858.3,625.3 L856.4,624.1 L855.5,623.4 L854.5,622.7 L852.6,621.5 L850.7,621.0 L833.7,621.0 L831.8,621.5 L829.9,622.7 L829.0,623.4 L828.0,624.1 L826.1,625.3 L824.2,625.8 L815.4,625.8 L813.5,625.3 L811.6,624.1 L810.7,623.4 L809.7,622.7 L807.8,621.5 L805.9,621.0 L788.9,621.0 L787.0,621.5 L785.1,622.7 L784.2,623.4 L783.2,624.1 L781.3,625.3 L779.4,625.8 L770.6,625.8 L768.7,625.3 L766.8,624.1 L765.9,623.4 L764.9,622.7 L763.0,621.5 L761.1,621.0 L744.1,621.0 L742.2,621.5 L740.3,622.7 L739.4,623.4 L738.4,624.1 L736.5,625.3 L734.6,625.8 L725.8,625.8 L723.9,625.3 L722.0,624.1 L721.1,623.4 L720.1,622.7 L718.2,621.5 L716.3,621.0 L699.3,621.0 L697.4,621.5 L695.5,622.7 L694.6,623.4 L693.6,624.1 L691.7,625.3 L689.8,625.8 L681.0,625.8 L679.1,625.3 L677.2,624.1 L676.3,623.4 L675.3,622.7 L673.4,621.5 L671.5,621.0 L654.5,621.0 L652.6,621.5 L650.7,622.7 L649.8,623.4 L648.8,624.1 L646.9,625.3 L645.0,625.8 L636.2,625.8 L634.3,625.3 L632.4,624.1 L631.5,623.4 L630.5,622.7 L628.6,621.5 L626.7,621.0 L610.0,621.0Z" fill="url(#t4rowg)"/><path d="M610.0,621.0 L626.7,621.0 L628.6,621.5 L630.5,622.7 L631.5,623.4 L632.4,624.1 L634.3,625.3 L636.2,625.8 L645.0,625.8 L646.9,625.3 L648.8,624.1 L649.8,623.4 L650.7,622.7 L652.6,621.5 L654.5,621.0 L671.5,621.0 L673.4,621.5 L675.3,622.7 L676.3,623.4 L677.2,624.1 L679.1,625.3 L681.0,625.8 L689.8,625.8 L691.7,625.3 L693.6,624.1 L694.6,623.4 L695.5,622.7 L697.4,621.5 L699.3,621.0 L716.3,621.0 L718.2,621.5 L720.1,622.7 L721.1,623.4 L722.0,624.1 L723.9,625.3 L725.8,625.8 L734.6,625.8 L736.5,625.3 L738.4,624.1 L739.4,623.4 L740.3,622.7 L742.2,621.5 L744.1,621.0 L761.1,621.0 L763.0,621.5 L764.9,622.7 L765.9,623.4 L766.8,624.1 L768.7,625.3 L770.6,625.8 L779.4,625.8 L781.3,625.3 L783.2,624.1 L784.2,623.4 L785.1,622.7 L787.0,621.5 L788.9,621.0 L805.9,621.0 L807.8,621.5 L809.7,622.7 L810.7,623.4 L811.6,624.1 L813.5,625.3 L815.4,625.8 L824.2,625.8 L826.1,625.3 L828.0,624.1 L829.0,623.4 L829.9,622.7 L831.8,621.5 L833.7,621.0 L850.7,621.0 L852.6,621.5 L854.5,622.7 L855.5,623.4 L856.4,624.1 L858.3,625.3 L860.2,625.8 L869.0,625.8 L870.9,625.3 L872.8,624.1 L873.8,623.4 L874.7,622.7 L876.6,621.5 L878.5,621.0 L895.0,621.0 L895.0,668.2 L895.0,668.2 L894.0,668.9 L892.1,670.1 L890.2,670.6 L881.4,670.6 L879.5,670.1 L877.6,668.9 L876.7,668.2 L875.7,667.5 L873.8,666.3 L871.9,665.8 L854.9,665.8 L853.0,666.3 L851.1,667.5 L850.2,668.2 L849.2,668.9 L847.3,670.1 L845.4,670.6 L836.6,670.6 L834.7,670.1 L832.8,668.9 L831.9,668.2 L830.9,667.5 L829.0,666.3 L827.1,665.8 L810.1,665.8 L808.2,666.3 L806.3,667.5 L805.4,668.2 L804.4,668.9 L802.5,670.1 L800.6,670.6 L791.8,670.6 L789.9,670.1 L788.0,668.9 L787.1,668.2 L786.1,667.5 L784.2,666.3 L782.3,665.8 L765.3,665.8 L763.4,666.3 L761.5,667.5 L760.6,668.2 L759.6,668.9 L757.7,670.1 L755.8,670.6 L747.0,670.6 L745.1,670.1 L743.2,668.9 L742.3,668.2 L741.3,667.5 L739.4,666.3 L737.5,665.8 L720.5,665.8 L718.6,666.3 L716.7,667.5 L715.8,668.2 L714.8,668.9 L712.9,670.1 L711.0,670.6 L702.2,670.6 L700.3,670.1 L698.4,668.9 L697.5,668.2 L696.5,667.5 L694.6,666.3 L692.7,665.8 L675.7,665.8 L673.8,666.3 L671.9,667.5 L671.0,668.2 L670.0,668.9 L668.1,670.1 L666.2,670.6 L657.4,670.6 L655.5,670.1 L653.6,668.9 L652.7,668.2 L651.7,667.5 L649.8,666.3 L647.9,665.8 L630.9,665.8 L629.0,666.3 L627.1,667.5 L626.2,668.2 L625.2,668.9 L623.3,670.1 L621.4,670.6 L612.6,670.6 L610.7,670.1 L610.0,669.7Z" fill="url(#t4rowg)"/><path d="M610.0,669.7 L610.7,670.1 L612.6,670.6 L621.4,670.6 L623.3,670.1 L625.2,668.9 L626.2,668.2 L627.1,667.5 L629.0,666.3 L630.9,665.8 L647.9,665.8 L649.8,666.3 L651.7,667.5 L652.7,668.2 L653.6,668.9 L655.5,670.1 L657.4,670.6 L666.2,670.6 L668.1,670.1 L670.0,668.9 L671.0,668.2 L671.9,667.5 L673.8,666.3 L675.7,665.8 L692.7,665.8 L694.6,666.3 L696.5,667.5 L697.5,668.2 L698.4,668.9 L700.3,670.1 L702.2,670.6 L711.0,670.6 L712.9,670.1 L714.8,668.9 L715.8,668.2 L716.7,667.5 L718.6,666.3 L720.5,665.8 L737.5,665.8 L739.4,666.3 L741.3,667.5 L742.3,668.2 L743.2,668.9 L745.1,670.1 L747.0,670.6 L755.8,670.6 L757.7,670.1 L759.6,668.9 L760.6,668.2 L761.5,667.5 L763.4,666.3 L765.3,665.8 L782.3,665.8 L784.2,666.3 L786.1,667.5 L787.1,668.2 L788.0,668.9 L789.9,670.1 L791.8,670.6 L800.6,670.6 L802.5,670.1 L804.4,668.9 L805.4,668.2 L806.3,667.5 L808.2,666.3 L810.1,665.8 L827.1,665.8 L829.0,666.3 L830.9,667.5 L831.9,668.2 L832.8,668.9 L834.7,670.1 L836.6,670.6 L845.4,670.6 L847.3,670.1 L849.2,668.9 L850.2,668.2 L851.1,667.5 L853.0,666.3 L854.9,665.8 L871.9,665.8 L873.8,666.3 L875.7,667.5 L876.7,668.2 L877.6,668.9 L879.5,670.1 L881.4,670.6 L890.2,670.6 L892.1,670.1 L894.0,668.9 L895.0,668.2 L895.0,668.2 L895.0,712.1 L893.8,711.9 L876.8,711.9 L874.9,712.4 L873.0,713.6 L872.0,714.3 L871.1,715.0 L869.2,716.2 L867.3,716.7 L858.5,716.7 L856.6,716.2 L854.7,715.0 L853.7,714.3 L852.8,713.6 L850.9,712.4 L849.0,711.9 L832.0,711.9 L830.1,712.4 L828.2,713.6 L827.2,714.3 L826.3,715.0 L824.4,716.2 L822.5,716.7 L813.7,716.7 L811.8,716.2 L809.9,715.0 L808.9,714.3 L808.0,713.6 L806.1,712.4 L804.2,711.9 L787.2,711.9 L785.3,712.4 L783.4,713.6 L782.4,714.3 L781.5,715.0 L779.6,716.2 L777.7,716.7 L768.9,716.7 L767.0,716.2 L765.1,715.0 L764.1,714.3 L763.2,713.6 L761.3,712.4 L759.4,711.9 L742.4,711.9 L740.5,712.4 L738.6,713.6 L737.6,714.3 L736.7,715.0 L734.8,716.2 L732.9,716.7 L724.1,716.7 L722.2,716.2 L720.3,715.0 L719.3,714.3 L718.4,713.6 L716.5,712.4 L714.6,711.9 L697.6,711.9 L695.7,712.4 L693.8,713.6 L692.8,714.3 L691.9,715.0 L690.0,716.2 L688.1,716.7 L679.3,716.7 L677.4,716.2 L675.5,715.0 L674.5,714.3 L673.6,713.6 L671.7,712.4 L669.8,711.9 L652.8,711.9 L650.9,712.4 L649.0,713.6 L648.0,714.3 L647.1,715.0 L645.2,716.2 L643.3,716.7 L634.5,716.7 L632.6,716.2 L630.7,715.0 L629.7,714.3 L628.8,713.6 L626.9,712.4 L625.0,711.9 L610.0,711.9Z" fill="url(#t4rowg)"/><path d="M610.0,711.9 L625.0,711.9 L626.9,712.4 L628.8,713.6 L629.7,714.3 L630.7,715.0 L632.6,716.2 L634.5,716.7 L643.3,716.7 L645.2,716.2 L647.1,715.0 L648.0,714.3 L649.0,713.6 L650.9,712.4 L652.8,711.9 L669.8,711.9 L671.7,712.4 L673.6,713.6 L674.5,714.3 L675.5,715.0 L677.4,716.2 L679.3,716.7 L688.1,716.7 L690.0,716.2 L691.9,715.0 L692.8,714.3 L693.8,713.6 L695.7,712.4 L697.6,711.9 L714.6,711.9 L716.5,712.4 L718.4,713.6 L719.3,714.3 L720.3,715.0 L722.2,716.2 L724.1,716.7 L732.9,716.7 L734.8,716.2 L736.7,715.0 L737.6,714.3 L738.6,713.6 L740.5,712.4 L742.4,711.9 L759.4,711.9 L761.3,712.4 L763.2,713.6 L764.1,714.3 L765.1,715.0 L767.0,716.2 L768.9,716.7 L777.7,716.7 L779.6,716.2 L781.5,715.0 L782.4,714.3 L783.4,713.6 L785.3,712.4 L787.2,711.9 L804.2,711.9 L806.1,712.4 L808.0,713.6 L808.9,714.3 L809.9,715.0 L811.8,716.2 L813.7,716.7 L822.5,716.7 L824.4,716.2 L826.3,715.0 L827.2,714.3 L828.2,713.6 L830.1,712.4 L832.0,711.9 L849.0,711.9 L850.9,712.4 L852.8,713.6 L853.7,714.3 L854.7,715.0 L856.6,716.2 L858.5,716.7 L867.3,716.7 L869.2,716.2 L871.1,715.0 L872.0,714.3 L873.0,713.6 L874.9,712.4 L876.8,711.9 L893.8,711.9 L895.0,712.1 L895.0,759.8 L894.9,759.9 L894.0,760.6 L893.0,761.3 L891.1,762.5 L889.2,763.0 L880.4,763.0 L878.5,762.5 L876.6,761.3 L875.7,760.6 L874.7,759.9 L872.8,758.7 L870.9,758.2 L853.9,758.2 L852.0,758.7 L850.1,759.9 L849.2,760.6 L848.2,761.3 L846.3,762.5 L844.4,763.0 L835.6,763.0 L833.7,762.5 L831.8,761.3 L830.9,760.6 L829.9,759.9 L828.0,758.7 L826.1,758.2 L809.1,758.2 L807.2,758.7 L805.3,759.9 L804.4,760.6 L803.4,761.3 L801.5,762.5 L799.6,763.0 L790.8,763.0 L788.9,762.5 L787.0,761.3 L786.1,760.6 L785.1,759.9 L783.2,758.7 L781.3,758.2 L764.3,758.2 L762.4,758.7 L760.5,759.9 L759.6,760.6 L758.6,761.3 L756.7,762.5 L754.8,763.0 L746.0,763.0 L744.1,762.5 L742.2,761.3 L741.3,760.6 L740.3,759.9 L738.4,758.7 L736.5,758.2 L719.5,758.2 L717.6,758.7 L715.7,759.9 L714.8,760.6 L713.8,761.3 L711.9,762.5 L710.0,763.0 L701.2,763.0 L699.3,762.5 L697.4,761.3 L696.5,760.6 L695.5,759.9 L693.6,758.7 L691.7,758.2 L674.7,758.2 L672.8,758.7 L670.9,759.9 L670.0,760.6 L669.0,761.3 L667.1,762.5 L665.2,763.0 L656.4,763.0 L654.5,762.5 L652.6,761.3 L651.7,760.6 L650.7,759.9 L648.8,758.7 L646.9,758.2 L629.9,758.2 L628.0,758.7 L626.1,759.9 L625.2,760.6 L624.2,761.3 L622.3,762.5 L620.4,763.0 L611.6,763.0 L610.0,762.6Z" fill="url(#t4rowg)"/><path d="M610.0,762.6 L611.6,763.0 L620.4,763.0 L622.3,762.5 L624.2,761.3 L625.2,760.6 L626.1,759.9 L628.0,758.7 L629.9,758.2 L646.9,758.2 L648.8,758.7 L650.7,759.9 L651.7,760.6 L652.6,761.3 L654.5,762.5 L656.4,763.0 L665.2,763.0 L667.1,762.5 L669.0,761.3 L670.0,760.6 L670.9,759.9 L672.8,758.7 L674.7,758.2 L691.7,758.2 L693.6,758.7 L695.5,759.9 L696.5,760.6 L697.4,761.3 L699.3,762.5 L701.2,763.0 L710.0,763.0 L711.9,762.5 L713.8,761.3 L714.8,760.6 L715.7,759.9 L717.6,758.7 L719.5,758.2 L736.5,758.2 L738.4,758.7 L740.3,759.9 L741.3,760.6 L742.2,761.3 L744.1,762.5 L746.0,763.0 L754.8,763.0 L756.7,762.5 L758.6,761.3 L759.6,760.6 L760.5,759.9 L762.4,758.7 L764.3,758.2 L781.3,758.2 L783.2,758.7 L785.1,759.9 L786.1,760.6 L787.0,761.3 L788.9,762.5 L790.8,763.0 L799.6,763.0 L801.5,762.5 L803.4,761.3 L804.4,760.6 L805.3,759.9 L807.2,758.7 L809.1,758.2 L826.1,758.2 L828.0,758.7 L829.9,759.9 L830.9,760.6 L831.8,761.3 L833.7,762.5 L835.6,763.0 L844.4,763.0 L846.3,762.5 L848.2,761.3 L849.2,760.6 L850.1,759.9 L852.0,758.7 L853.9,758.2 L870.9,758.2 L872.8,758.7 L874.7,759.9 L875.7,760.6 L876.6,761.3 L878.5,762.5 L880.4,763.0 L889.2,763.0 L891.1,762.5 L893.0,761.3 L894.0,760.6 L894.9,759.9 L895.0,759.8 L895.0,803.9 L893.9,803.3 L892.0,802.8 L875.0,802.8 L873.1,803.3 L871.2,804.5 L870.3,805.2 L869.3,805.9 L867.4,807.1 L865.5,807.6 L856.7,807.6 L854.8,807.1 L852.9,805.9 L852.0,805.2 L851.0,804.5 L849.1,803.3 L847.2,802.8 L830.2,802.8 L828.3,803.3 L826.4,804.5 L825.5,805.2 L824.5,805.9 L822.6,807.1 L820.7,807.6 L811.9,807.6 L810.0,807.1 L808.1,805.9 L807.2,805.2 L806.2,804.5 L804.3,803.3 L802.4,802.8 L785.4,802.8 L783.5,803.3 L781.6,804.5 L780.7,805.2 L779.7,805.9 L777.8,807.1 L775.9,807.6 L767.1,807.6 L765.2,807.1 L763.3,805.9 L762.4,805.2 L761.4,804.5 L759.5,803.3 L757.6,802.8 L740.6,802.8 L738.7,803.3 L736.8,804.5 L735.9,805.2 L734.9,805.9 L733.0,807.1 L731.1,807.6 L722.3,807.6 L720.4,807.1 L718.5,805.9 L717.6,805.2 L716.6,804.5 L714.7,803.3 L712.8,802.8 L695.8,802.8 L693.9,803.3 L692.0,804.5 L691.1,805.2 L690.1,805.9 L688.2,807.1 L686.3,807.6 L677.5,807.6 L675.6,807.1 L673.7,805.9 L672.8,805.2 L671.8,804.5 L669.9,803.3 L668.0,802.8 L651.0,802.8 L649.1,803.3 L647.2,804.5 L646.3,805.2 L645.3,805.9 L643.4,807.1 L641.5,807.6 L632.7,807.6 L630.8,807.1 L628.9,805.9 L628.0,805.2 L627.0,804.5 L625.1,803.3 L623.2,802.8 L610.0,802.8Z" fill="url(#t4rowg)"/><path d="M610.0,802.8 L623.2,802.8 L625.1,803.3 L627.0,804.5 L628.0,805.2 L628.9,805.9 L630.8,807.1 L632.7,807.6 L641.5,807.6 L643.4,807.1 L645.3,805.9 L646.3,805.2 L647.2,804.5 L649.1,803.3 L651.0,802.8 L668.0,802.8 L669.9,803.3 L671.8,804.5 L672.8,805.2 L673.7,805.9 L675.6,807.1 L677.5,807.6 L686.3,807.6 L688.2,807.1 L690.1,805.9 L691.1,805.2 L692.0,804.5 L693.9,803.3 L695.8,802.8 L712.8,802.8 L714.7,803.3 L716.6,804.5 L717.6,805.2 L718.5,805.9 L720.4,807.1 L722.3,807.6 L731.1,807.6 L733.0,807.1 L734.9,805.9 L735.9,805.2 L736.8,804.5 L738.7,803.3 L740.6,802.8 L757.6,802.8 L759.5,803.3 L761.4,804.5 L762.4,805.2 L763.3,805.9 L765.2,807.1 L767.1,807.6 L775.9,807.6 L777.8,807.1 L779.7,805.9 L780.7,805.2 L781.6,804.5 L783.5,803.3 L785.4,802.8 L802.4,802.8 L804.3,803.3 L806.2,804.5 L807.2,805.2 L808.1,805.9 L810.0,807.1 L811.9,807.6 L820.7,807.6 L822.6,807.1 L824.5,805.9 L825.5,805.2 L826.4,804.5 L828.3,803.3 L830.2,802.8 L847.2,802.8 L849.1,803.3 L851.0,804.5 L852.0,805.2 L852.9,805.9 L854.8,807.1 L856.7,807.6 L865.5,807.6 L867.4,807.1 L869.3,805.9 L870.3,805.2 L871.2,804.5 L873.1,803.3 L875.0,802.8 L892.0,802.8 L893.9,803.3 L895.0,803.9 L895.0,848.1 L894.5,848.3 L892.6,849.5 L891.6,850.2 L890.7,850.9 L888.8,852.1 L886.9,852.6 L878.1,852.6 L876.2,852.1 L874.3,850.9 L873.3,850.2 L872.4,849.5 L870.5,848.3 L868.6,847.8 L851.6,847.8 L849.7,848.3 L847.8,849.5 L846.8,850.2 L845.9,850.9 L844.0,852.1 L842.1,852.6 L833.3,852.6 L831.4,852.1 L829.5,850.9 L828.5,850.2 L827.6,849.5 L825.7,848.3 L823.8,847.8 L806.8,847.8 L804.9,848.3 L803.0,849.5 L802.0,850.2 L801.1,850.9 L799.2,852.1 L797.3,852.6 L788.5,852.6 L786.6,852.1 L784.7,850.9 L783.7,850.2 L782.8,849.5 L780.9,848.3 L779.0,847.8 L762.0,847.8 L760.1,848.3 L758.2,849.5 L757.2,850.2 L756.3,850.9 L754.4,852.1 L752.5,852.6 L743.7,852.6 L741.8,852.1 L739.9,850.9 L738.9,850.2 L738.0,849.5 L736.1,848.3 L734.2,847.8 L717.2,847.8 L715.3,848.3 L713.4,849.5 L712.4,850.2 L711.5,850.9 L709.6,852.1 L707.7,852.6 L698.9,852.6 L697.0,852.1 L695.1,850.9 L694.1,850.2 L693.2,849.5 L691.3,848.3 L689.4,847.8 L672.4,847.8 L670.5,848.3 L668.6,849.5 L667.6,850.2 L666.7,850.9 L664.8,852.1 L662.9,852.6 L654.1,852.6 L652.2,852.1 L650.3,850.9 L649.3,850.2 L648.4,849.5 L646.5,848.3 L644.6,847.8 L627.6,847.8 L625.7,848.3 L623.8,849.5 L622.8,850.2 L621.9,850.9 L620.0,852.1 L618.1,852.6 L610.0,852.6Z" fill="url(#t4rowg)"/><path d="M610.0,485.7 L610.6,486.1 L611.5,486.8 L612.5,487.5 L614.4,488.7 L616.3,489.2 L625.1,489.2 L627.0,488.7 L628.9,487.5 L629.8,486.8 L630.8,486.1 L632.7,484.9 L634.6,484.4 L651.6,484.4 L653.5,484.9 L655.4,486.1 L656.3,486.8 L657.3,487.5 L659.2,488.7 L661.1,489.2 L669.9,489.2 L671.8,488.7 L673.7,487.5 L674.6,486.8 L675.6,486.1 L677.5,484.9 L679.4,484.4 L696.4,484.4 L698.3,484.9 L700.2,486.1 L701.1,486.8 L702.1,487.5 L704.0,488.7 L705.9,489.2 L714.7,489.2 L716.6,488.7 L718.5,487.5 L719.4,486.8 L720.4,486.1 L722.3,484.9 L724.2,484.4 L741.2,484.4 L743.1,484.9 L745.0,486.1 L745.9,486.8 L746.9,487.5 L748.8,488.7 L750.7,489.2 L759.5,489.2 L761.4,488.7 L763.3,487.5 L764.2,486.8 L765.2,486.1 L767.1,484.9 L769.0,484.4 L786.0,484.4 L787.9,484.9 L789.8,486.1 L790.7,486.8 L791.7,487.5 L793.6,488.7 L795.5,489.2 L804.3,489.2 L806.2,488.7 L808.1,487.5 L809.0,486.8 L810.0,486.1 L811.9,484.9 L813.8,484.4 L830.8,484.4 L832.7,484.9 L834.6,486.1 L835.5,486.8 L836.5,487.5 L838.4,488.7 L840.3,489.2 L849.1,489.2 L851.0,488.7 L852.9,487.5 L853.8,486.8 L854.8,486.1 L856.7,484.9 L858.6,484.4 L875.6,484.4 L877.5,484.9 L879.4,486.1 L880.3,486.8 L881.3,487.5 L883.2,488.7 L885.1,489.2 L893.9,489.2 L895.0,489.0" fill="none" stroke="#5d5f64" stroke-width="1.6" opacity="0.38" transform="translate(0,.6)"/><path d="M610.0,485.7 L610.6,486.1 L611.5,486.8 L612.5,487.5 L614.4,488.7 L616.3,489.2 L625.1,489.2 L627.0,488.7 L628.9,487.5 L629.8,486.8 L630.8,486.1 L632.7,484.9 L634.6,484.4 L651.6,484.4 L653.5,484.9 L655.4,486.1 L656.3,486.8 L657.3,487.5 L659.2,488.7 L661.1,489.2 L669.9,489.2 L671.8,488.7 L673.7,487.5 L674.6,486.8 L675.6,486.1 L677.5,484.9 L679.4,484.4 L696.4,484.4 L698.3,484.9 L700.2,486.1 L701.1,486.8 L702.1,487.5 L704.0,488.7 L705.9,489.2 L714.7,489.2 L716.6,488.7 L718.5,487.5 L719.4,486.8 L720.4,486.1 L722.3,484.9 L724.2,484.4 L741.2,484.4 L743.1,484.9 L745.0,486.1 L745.9,486.8 L746.9,487.5 L748.8,488.7 L750.7,489.2 L759.5,489.2 L761.4,488.7 L763.3,487.5 L764.2,486.8 L765.2,486.1 L767.1,484.9 L769.0,484.4 L786.0,484.4 L787.9,484.9 L789.8,486.1 L790.7,486.8 L791.7,487.5 L793.6,488.7 L795.5,489.2 L804.3,489.2 L806.2,488.7 L808.1,487.5 L809.0,486.8 L810.0,486.1 L811.9,484.9 L813.8,484.4 L830.8,484.4 L832.7,484.9 L834.6,486.1 L835.5,486.8 L836.5,487.5 L838.4,488.7 L840.3,489.2 L849.1,489.2 L851.0,488.7 L852.9,487.5 L853.8,486.8 L854.8,486.1 L856.7,484.9 L858.6,484.4 L875.6,484.4 L877.5,484.9 L879.4,486.1 L880.3,486.8 L881.3,487.5 L883.2,488.7 L885.1,489.2 L893.9,489.2 L895.0,489.0" fill="none" stroke="#b9bbbf" stroke-width=".6" opacity="0.22" transform="translate(0,3.4)"/><path d="M610.0,530.8 L611.6,530.4 L628.6,530.4 L630.5,530.9 L632.4,532.1 L633.3,532.8 L634.3,533.5 L636.2,534.7 L638.1,535.2 L646.9,535.2 L648.8,534.7 L650.7,533.5 L651.6,532.8 L652.6,532.1 L654.5,530.9 L656.4,530.4 L673.4,530.4 L675.3,530.9 L677.2,532.1 L678.1,532.8 L679.1,533.5 L681.0,534.7 L682.9,535.2 L691.7,535.2 L693.6,534.7 L695.5,533.5 L696.4,532.8 L697.4,532.1 L699.3,530.9 L701.2,530.4 L718.2,530.4 L720.1,530.9 L722.0,532.1 L722.9,532.8 L723.9,533.5 L725.8,534.7 L727.7,535.2 L736.5,535.2 L738.4,534.7 L740.3,533.5 L741.2,532.8 L742.2,532.1 L744.1,530.9 L746.0,530.4 L763.0,530.4 L764.9,530.9 L766.8,532.1 L767.7,532.8 L768.7,533.5 L770.6,534.7 L772.5,535.2 L781.3,535.2 L783.2,534.7 L785.1,533.5 L786.0,532.8 L787.0,532.1 L788.9,530.9 L790.8,530.4 L807.8,530.4 L809.7,530.9 L811.6,532.1 L812.5,532.8 L813.5,533.5 L815.4,534.7 L817.3,535.2 L826.1,535.2 L828.0,534.7 L829.9,533.5 L830.8,532.8 L831.8,532.1 L833.7,530.9 L835.6,530.4 L852.6,530.4 L854.5,530.9 L856.4,532.1 L857.3,532.8 L858.3,533.5 L860.2,534.7 L862.1,535.2 L870.9,535.2 L872.8,534.7 L874.7,533.5 L875.6,532.8 L876.6,532.1 L878.5,530.9 L880.4,530.4 L895.0,530.4" fill="none" stroke="#5d5f64" stroke-width="1.6" opacity="0.38" transform="translate(0,.6)"/><path d="M610.0,530.8 L611.6,530.4 L628.6,530.4 L630.5,530.9 L632.4,532.1 L633.3,532.8 L634.3,533.5 L636.2,534.7 L638.1,535.2 L646.9,535.2 L648.8,534.7 L650.7,533.5 L651.6,532.8 L652.6,532.1 L654.5,530.9 L656.4,530.4 L673.4,530.4 L675.3,530.9 L677.2,532.1 L678.1,532.8 L679.1,533.5 L681.0,534.7 L682.9,535.2 L691.7,535.2 L693.6,534.7 L695.5,533.5 L696.4,532.8 L697.4,532.1 L699.3,530.9 L701.2,530.4 L718.2,530.4 L720.1,530.9 L722.0,532.1 L722.9,532.8 L723.9,533.5 L725.8,534.7 L727.7,535.2 L736.5,535.2 L738.4,534.7 L740.3,533.5 L741.2,532.8 L742.2,532.1 L744.1,530.9 L746.0,530.4 L763.0,530.4 L764.9,530.9 L766.8,532.1 L767.7,532.8 L768.7,533.5 L770.6,534.7 L772.5,535.2 L781.3,535.2 L783.2,534.7 L785.1,533.5 L786.0,532.8 L787.0,532.1 L788.9,530.9 L790.8,530.4 L807.8,530.4 L809.7,530.9 L811.6,532.1 L812.5,532.8 L813.5,533.5 L815.4,534.7 L817.3,535.2 L826.1,535.2 L828.0,534.7 L829.9,533.5 L830.8,532.8 L831.8,532.1 L833.7,530.9 L835.6,530.4 L852.6,530.4 L854.5,530.9 L856.4,532.1 L857.3,532.8 L858.3,533.5 L860.2,534.7 L862.1,535.2 L870.9,535.2 L872.8,534.7 L874.7,533.5 L875.6,532.8 L876.6,532.1 L878.5,530.9 L880.4,530.4 L895.0,530.4" fill="none" stroke="#b9bbbf" stroke-width=".6" opacity="0.22" transform="translate(0,3.4)"/><path d="M610.0,578.4 L610.2,578.6 L611.2,579.3 L613.1,580.5 L615.0,581.0 L623.8,581.0 L625.7,580.5 L627.6,579.3 L628.5,578.6 L629.5,577.9 L631.4,576.7 L633.3,576.2 L650.3,576.2 L652.2,576.7 L654.1,577.9 L655.0,578.6 L656.0,579.3 L657.9,580.5 L659.8,581.0 L668.6,581.0 L670.5,580.5 L672.4,579.3 L673.3,578.6 L674.3,577.9 L676.2,576.7 L678.1,576.2 L695.1,576.2 L697.0,576.7 L698.9,577.9 L699.8,578.6 L700.8,579.3 L702.7,580.5 L704.6,581.0 L713.4,581.0 L715.3,580.5 L717.2,579.3 L718.1,578.6 L719.1,577.9 L721.0,576.7 L722.9,576.2 L739.9,576.2 L741.8,576.7 L743.7,577.9 L744.6,578.6 L745.6,579.3 L747.5,580.5 L749.4,581.0 L758.2,581.0 L760.1,580.5 L762.0,579.3 L762.9,578.6 L763.9,577.9 L765.8,576.7 L767.7,576.2 L784.7,576.2 L786.6,576.7 L788.5,577.9 L789.4,578.6 L790.4,579.3 L792.3,580.5 L794.2,581.0 L803.0,581.0 L804.9,580.5 L806.8,579.3 L807.7,578.6 L808.7,577.9 L810.6,576.7 L812.5,576.2 L829.5,576.2 L831.4,576.7 L833.3,577.9 L834.2,578.6 L835.2,579.3 L837.1,580.5 L839.0,581.0 L847.8,581.0 L849.7,580.5 L851.6,579.3 L852.5,578.6 L853.5,577.9 L855.4,576.7 L857.3,576.2 L874.3,576.2 L876.2,576.7 L878.1,577.9 L879.0,578.6 L880.0,579.3 L881.9,580.5 L883.8,581.0 L892.6,581.0 L894.5,580.5 L895.0,580.2" fill="none" stroke="#5d5f64" stroke-width="1.6" opacity="0.38" transform="translate(0,.6)"/><path d="M610.0,578.4 L610.2,578.6 L611.2,579.3 L613.1,580.5 L615.0,581.0 L623.8,581.0 L625.7,580.5 L627.6,579.3 L628.5,578.6 L629.5,577.9 L631.4,576.7 L633.3,576.2 L650.3,576.2 L652.2,576.7 L654.1,577.9 L655.0,578.6 L656.0,579.3 L657.9,580.5 L659.8,581.0 L668.6,581.0 L670.5,580.5 L672.4,579.3 L673.3,578.6 L674.3,577.9 L676.2,576.7 L678.1,576.2 L695.1,576.2 L697.0,576.7 L698.9,577.9 L699.8,578.6 L700.8,579.3 L702.7,580.5 L704.6,581.0 L713.4,581.0 L715.3,580.5 L717.2,579.3 L718.1,578.6 L719.1,577.9 L721.0,576.7 L722.9,576.2 L739.9,576.2 L741.8,576.7 L743.7,577.9 L744.6,578.6 L745.6,579.3 L747.5,580.5 L749.4,581.0 L758.2,581.0 L760.1,580.5 L762.0,579.3 L762.9,578.6 L763.9,577.9 L765.8,576.7 L767.7,576.2 L784.7,576.2 L786.6,576.7 L788.5,577.9 L789.4,578.6 L790.4,579.3 L792.3,580.5 L794.2,581.0 L803.0,581.0 L804.9,580.5 L806.8,579.3 L807.7,578.6 L808.7,577.9 L810.6,576.7 L812.5,576.2 L829.5,576.2 L831.4,576.7 L833.3,577.9 L834.2,578.6 L835.2,579.3 L837.1,580.5 L839.0,581.0 L847.8,581.0 L849.7,580.5 L851.6,579.3 L852.5,578.6 L853.5,577.9 L855.4,576.7 L857.3,576.2 L874.3,576.2 L876.2,576.7 L878.1,577.9 L879.0,578.6 L880.0,579.3 L881.9,580.5 L883.8,581.0 L892.6,581.0 L894.5,580.5 L895.0,580.2" fill="none" stroke="#b9bbbf" stroke-width=".6" opacity="0.22" transform="translate(0,3.4)"/><path d="M610.0,621.0 L626.7,621.0 L628.6,621.5 L630.5,622.7 L631.5,623.4 L632.4,624.1 L634.3,625.3 L636.2,625.8 L645.0,625.8 L646.9,625.3 L648.8,624.1 L649.8,623.4 L650.7,622.7 L652.6,621.5 L654.5,621.0 L671.5,621.0 L673.4,621.5 L675.3,622.7 L676.3,623.4 L677.2,624.1 L679.1,625.3 L681.0,625.8 L689.8,625.8 L691.7,625.3 L693.6,624.1 L694.6,623.4 L695.5,622.7 L697.4,621.5 L699.3,621.0 L716.3,621.0 L718.2,621.5 L720.1,622.7 L721.1,623.4 L722.0,624.1 L723.9,625.3 L725.8,625.8 L734.6,625.8 L736.5,625.3 L738.4,624.1 L739.4,623.4 L740.3,622.7 L742.2,621.5 L744.1,621.0 L761.1,621.0 L763.0,621.5 L764.9,622.7 L765.9,623.4 L766.8,624.1 L768.7,625.3 L770.6,625.8 L779.4,625.8 L781.3,625.3 L783.2,624.1 L784.2,623.4 L785.1,622.7 L787.0,621.5 L788.9,621.0 L805.9,621.0 L807.8,621.5 L809.7,622.7 L810.7,623.4 L811.6,624.1 L813.5,625.3 L815.4,625.8 L824.2,625.8 L826.1,625.3 L828.0,624.1 L829.0,623.4 L829.9,622.7 L831.8,621.5 L833.7,621.0 L850.7,621.0 L852.6,621.5 L854.5,622.7 L855.5,623.4 L856.4,624.1 L858.3,625.3 L860.2,625.8 L869.0,625.8 L870.9,625.3 L872.8,624.1 L873.8,623.4 L874.7,622.7 L876.6,621.5 L878.5,621.0 L895.0,621.0" fill="none" stroke="#5d5f64" stroke-width="1.6" opacity="0.38" transform="translate(0,.6)"/><path d="M610.0,621.0 L626.7,621.0 L628.6,621.5 L630.5,622.7 L631.5,623.4 L632.4,624.1 L634.3,625.3 L636.2,625.8 L645.0,625.8 L646.9,625.3 L648.8,624.1 L649.8,623.4 L650.7,622.7 L652.6,621.5 L654.5,621.0 L671.5,621.0 L673.4,621.5 L675.3,622.7 L676.3,623.4 L677.2,624.1 L679.1,625.3 L681.0,625.8 L689.8,625.8 L691.7,625.3 L693.6,624.1 L694.6,623.4 L695.5,622.7 L697.4,621.5 L699.3,621.0 L716.3,621.0 L718.2,621.5 L720.1,622.7 L721.1,623.4 L722.0,624.1 L723.9,625.3 L725.8,625.8 L734.6,625.8 L736.5,625.3 L738.4,624.1 L739.4,623.4 L740.3,622.7 L742.2,621.5 L744.1,621.0 L761.1,621.0 L763.0,621.5 L764.9,622.7 L765.9,623.4 L766.8,624.1 L768.7,625.3 L770.6,625.8 L779.4,625.8 L781.3,625.3 L783.2,624.1 L784.2,623.4 L785.1,622.7 L787.0,621.5 L788.9,621.0 L805.9,621.0 L807.8,621.5 L809.7,622.7 L810.7,623.4 L811.6,624.1 L813.5,625.3 L815.4,625.8 L824.2,625.8 L826.1,625.3 L828.0,624.1 L829.0,623.4 L829.9,622.7 L831.8,621.5 L833.7,621.0 L850.7,621.0 L852.6,621.5 L854.5,622.7 L855.5,623.4 L856.4,624.1 L858.3,625.3 L860.2,625.8 L869.0,625.8 L870.9,625.3 L872.8,624.1 L873.8,623.4 L874.7,622.7 L876.6,621.5 L878.5,621.0 L895.0,621.0" fill="none" stroke="#b9bbbf" stroke-width=".6" opacity="0.22" transform="translate(0,3.4)"/><path d="M610.0,669.7 L610.7,670.1 L612.6,670.6 L621.4,670.6 L623.3,670.1 L625.2,668.9 L626.2,668.2 L627.1,667.5 L629.0,666.3 L630.9,665.8 L647.9,665.8 L649.8,666.3 L651.7,667.5 L652.7,668.2 L653.6,668.9 L655.5,670.1 L657.4,670.6 L666.2,670.6 L668.1,670.1 L670.0,668.9 L671.0,668.2 L671.9,667.5 L673.8,666.3 L675.7,665.8 L692.7,665.8 L694.6,666.3 L696.5,667.5 L697.5,668.2 L698.4,668.9 L700.3,670.1 L702.2,670.6 L711.0,670.6 L712.9,670.1 L714.8,668.9 L715.8,668.2 L716.7,667.5 L718.6,666.3 L720.5,665.8 L737.5,665.8 L739.4,666.3 L741.3,667.5 L742.3,668.2 L743.2,668.9 L745.1,670.1 L747.0,670.6 L755.8,670.6 L757.7,670.1 L759.6,668.9 L760.6,668.2 L761.5,667.5 L763.4,666.3 L765.3,665.8 L782.3,665.8 L784.2,666.3 L786.1,667.5 L787.1,668.2 L788.0,668.9 L789.9,670.1 L791.8,670.6 L800.6,670.6 L802.5,670.1 L804.4,668.9 L805.4,668.2 L806.3,667.5 L808.2,666.3 L810.1,665.8 L827.1,665.8 L829.0,666.3 L830.9,667.5 L831.9,668.2 L832.8,668.9 L834.7,670.1 L836.6,670.6 L845.4,670.6 L847.3,670.1 L849.2,668.9 L850.2,668.2 L851.1,667.5 L853.0,666.3 L854.9,665.8 L871.9,665.8 L873.8,666.3 L875.7,667.5 L876.7,668.2 L877.6,668.9 L879.5,670.1 L881.4,670.6 L890.2,670.6 L892.1,670.1 L894.0,668.9 L895.0,668.2 L895.0,668.2" fill="none" stroke="#5d5f64" stroke-width="1.6" opacity="0.38" transform="translate(0,.6)"/><path d="M610.0,669.7 L610.7,670.1 L612.6,670.6 L621.4,670.6 L623.3,670.1 L625.2,668.9 L626.2,668.2 L627.1,667.5 L629.0,666.3 L630.9,665.8 L647.9,665.8 L649.8,666.3 L651.7,667.5 L652.7,668.2 L653.6,668.9 L655.5,670.1 L657.4,670.6 L666.2,670.6 L668.1,670.1 L670.0,668.9 L671.0,668.2 L671.9,667.5 L673.8,666.3 L675.7,665.8 L692.7,665.8 L694.6,666.3 L696.5,667.5 L697.5,668.2 L698.4,668.9 L700.3,670.1 L702.2,670.6 L711.0,670.6 L712.9,670.1 L714.8,668.9 L715.8,668.2 L716.7,667.5 L718.6,666.3 L720.5,665.8 L737.5,665.8 L739.4,666.3 L741.3,667.5 L742.3,668.2 L743.2,668.9 L745.1,670.1 L747.0,670.6 L755.8,670.6 L757.7,670.1 L759.6,668.9 L760.6,668.2 L761.5,667.5 L763.4,666.3 L765.3,665.8 L782.3,665.8 L784.2,666.3 L786.1,667.5 L787.1,668.2 L788.0,668.9 L789.9,670.1 L791.8,670.6 L800.6,670.6 L802.5,670.1 L804.4,668.9 L805.4,668.2 L806.3,667.5 L808.2,666.3 L810.1,665.8 L827.1,665.8 L829.0,666.3 L830.9,667.5 L831.9,668.2 L832.8,668.9 L834.7,670.1 L836.6,670.6 L845.4,670.6 L847.3,670.1 L849.2,668.9 L850.2,668.2 L851.1,667.5 L853.0,666.3 L854.9,665.8 L871.9,665.8 L873.8,666.3 L875.7,667.5 L876.7,668.2 L877.6,668.9 L879.5,670.1 L881.4,670.6 L890.2,670.6 L892.1,670.1 L894.0,668.9 L895.0,668.2 L895.0,668.2" fill="none" stroke="#b9bbbf" stroke-width=".6" opacity="0.22" transform="translate(0,3.4)"/><path d="M610.0,711.9 L625.0,711.9 L626.9,712.4 L628.8,713.6 L629.7,714.3 L630.7,715.0 L632.6,716.2 L634.5,716.7 L643.3,716.7 L645.2,716.2 L647.1,715.0 L648.0,714.3 L649.0,713.6 L650.9,712.4 L652.8,711.9 L669.8,711.9 L671.7,712.4 L673.6,713.6 L674.5,714.3 L675.5,715.0 L677.4,716.2 L679.3,716.7 L688.1,716.7 L690.0,716.2 L691.9,715.0 L692.8,714.3 L693.8,713.6 L695.7,712.4 L697.6,711.9 L714.6,711.9 L716.5,712.4 L718.4,713.6 L719.3,714.3 L720.3,715.0 L722.2,716.2 L724.1,716.7 L732.9,716.7 L734.8,716.2 L736.7,715.0 L737.6,714.3 L738.6,713.6 L740.5,712.4 L742.4,711.9 L759.4,711.9 L761.3,712.4 L763.2,713.6 L764.1,714.3 L765.1,715.0 L767.0,716.2 L768.9,716.7 L777.7,716.7 L779.6,716.2 L781.5,715.0 L782.4,714.3 L783.4,713.6 L785.3,712.4 L787.2,711.9 L804.2,711.9 L806.1,712.4 L808.0,713.6 L808.9,714.3 L809.9,715.0 L811.8,716.2 L813.7,716.7 L822.5,716.7 L824.4,716.2 L826.3,715.0 L827.2,714.3 L828.2,713.6 L830.1,712.4 L832.0,711.9 L849.0,711.9 L850.9,712.4 L852.8,713.6 L853.7,714.3 L854.7,715.0 L856.6,716.2 L858.5,716.7 L867.3,716.7 L869.2,716.2 L871.1,715.0 L872.0,714.3 L873.0,713.6 L874.9,712.4 L876.8,711.9 L893.8,711.9 L895.0,712.1" fill="none" stroke="#5d5f64" stroke-width="1.6" opacity="0.38" transform="translate(0,.6)"/><path d="M610.0,711.9 L625.0,711.9 L626.9,712.4 L628.8,713.6 L629.7,714.3 L630.7,715.0 L632.6,716.2 L634.5,716.7 L643.3,716.7 L645.2,716.2 L647.1,715.0 L648.0,714.3 L649.0,713.6 L650.9,712.4 L652.8,711.9 L669.8,711.9 L671.7,712.4 L673.6,713.6 L674.5,714.3 L675.5,715.0 L677.4,716.2 L679.3,716.7 L688.1,716.7 L690.0,716.2 L691.9,715.0 L692.8,714.3 L693.8,713.6 L695.7,712.4 L697.6,711.9 L714.6,711.9 L716.5,712.4 L718.4,713.6 L719.3,714.3 L720.3,715.0 L722.2,716.2 L724.1,716.7 L732.9,716.7 L734.8,716.2 L736.7,715.0 L737.6,714.3 L738.6,713.6 L740.5,712.4 L742.4,711.9 L759.4,711.9 L761.3,712.4 L763.2,713.6 L764.1,714.3 L765.1,715.0 L767.0,716.2 L768.9,716.7 L777.7,716.7 L779.6,716.2 L781.5,715.0 L782.4,714.3 L783.4,713.6 L785.3,712.4 L787.2,711.9 L804.2,711.9 L806.1,712.4 L808.0,713.6 L808.9,714.3 L809.9,715.0 L811.8,716.2 L813.7,716.7 L822.5,716.7 L824.4,716.2 L826.3,715.0 L827.2,714.3 L828.2,713.6 L830.1,712.4 L832.0,711.9 L849.0,711.9 L850.9,712.4 L852.8,713.6 L853.7,714.3 L854.7,715.0 L856.6,716.2 L858.5,716.7 L867.3,716.7 L869.2,716.2 L871.1,715.0 L872.0,714.3 L873.0,713.6 L874.9,712.4 L876.8,711.9 L893.8,711.9 L895.0,712.1" fill="none" stroke="#b9bbbf" stroke-width=".6" opacity="0.22" transform="translate(0,3.4)"/><path d="M610.0,762.6 L611.6,763.0 L620.4,763.0 L622.3,762.5 L624.2,761.3 L625.2,760.6 L626.1,759.9 L628.0,758.7 L629.9,758.2 L646.9,758.2 L648.8,758.7 L650.7,759.9 L651.7,760.6 L652.6,761.3 L654.5,762.5 L656.4,763.0 L665.2,763.0 L667.1,762.5 L669.0,761.3 L670.0,760.6 L670.9,759.9 L672.8,758.7 L674.7,758.2 L691.7,758.2 L693.6,758.7 L695.5,759.9 L696.5,760.6 L697.4,761.3 L699.3,762.5 L701.2,763.0 L710.0,763.0 L711.9,762.5 L713.8,761.3 L714.8,760.6 L715.7,759.9 L717.6,758.7 L719.5,758.2 L736.5,758.2 L738.4,758.7 L740.3,759.9 L741.3,760.6 L742.2,761.3 L744.1,762.5 L746.0,763.0 L754.8,763.0 L756.7,762.5 L758.6,761.3 L759.6,760.6 L760.5,759.9 L762.4,758.7 L764.3,758.2 L781.3,758.2 L783.2,758.7 L785.1,759.9 L786.1,760.6 L787.0,761.3 L788.9,762.5 L790.8,763.0 L799.6,763.0 L801.5,762.5 L803.4,761.3 L804.4,760.6 L805.3,759.9 L807.2,758.7 L809.1,758.2 L826.1,758.2 L828.0,758.7 L829.9,759.9 L830.9,760.6 L831.8,761.3 L833.7,762.5 L835.6,763.0 L844.4,763.0 L846.3,762.5 L848.2,761.3 L849.2,760.6 L850.1,759.9 L852.0,758.7 L853.9,758.2 L870.9,758.2 L872.8,758.7 L874.7,759.9 L875.7,760.6 L876.6,761.3 L878.5,762.5 L880.4,763.0 L889.2,763.0 L891.1,762.5 L893.0,761.3 L894.0,760.6 L894.9,759.9 L895.0,759.8" fill="none" stroke="#5d5f64" stroke-width="1.6" opacity="0.38" transform="translate(0,.6)"/><path d="M610.0,762.6 L611.6,763.0 L620.4,763.0 L622.3,762.5 L624.2,761.3 L625.2,760.6 L626.1,759.9 L628.0,758.7 L629.9,758.2 L646.9,758.2 L648.8,758.7 L650.7,759.9 L651.7,760.6 L652.6,761.3 L654.5,762.5 L656.4,763.0 L665.2,763.0 L667.1,762.5 L669.0,761.3 L670.0,760.6 L670.9,759.9 L672.8,758.7 L674.7,758.2 L691.7,758.2 L693.6,758.7 L695.5,759.9 L696.5,760.6 L697.4,761.3 L699.3,762.5 L701.2,763.0 L710.0,763.0 L711.9,762.5 L713.8,761.3 L714.8,760.6 L715.7,759.9 L717.6,758.7 L719.5,758.2 L736.5,758.2 L738.4,758.7 L740.3,759.9 L741.3,760.6 L742.2,761.3 L744.1,762.5 L746.0,763.0 L754.8,763.0 L756.7,762.5 L758.6,761.3 L759.6,760.6 L760.5,759.9 L762.4,758.7 L764.3,758.2 L781.3,758.2 L783.2,758.7 L785.1,759.9 L786.1,760.6 L787.0,761.3 L788.9,762.5 L790.8,763.0 L799.6,763.0 L801.5,762.5 L803.4,761.3 L804.4,760.6 L805.3,759.9 L807.2,758.7 L809.1,758.2 L826.1,758.2 L828.0,758.7 L829.9,759.9 L830.9,760.6 L831.8,761.3 L833.7,762.5 L835.6,763.0 L844.4,763.0 L846.3,762.5 L848.2,761.3 L849.2,760.6 L850.1,759.9 L852.0,758.7 L853.9,758.2 L870.9,758.2 L872.8,758.7 L874.7,759.9 L875.7,760.6 L876.6,761.3 L878.5,762.5 L880.4,763.0 L889.2,763.0 L891.1,762.5 L893.0,761.3 L894.0,760.6 L894.9,759.9 L895.0,759.8" fill="none" stroke="#b9bbbf" stroke-width=".6" opacity="0.22" transform="translate(0,3.4)"/><path d="M610.0,802.8 L623.2,802.8 L625.1,803.3 L627.0,804.5 L628.0,805.2 L628.9,805.9 L630.8,807.1 L632.7,807.6 L641.5,807.6 L643.4,807.1 L645.3,805.9 L646.3,805.2 L647.2,804.5 L649.1,803.3 L651.0,802.8 L668.0,802.8 L669.9,803.3 L671.8,804.5 L672.8,805.2 L673.7,805.9 L675.6,807.1 L677.5,807.6 L686.3,807.6 L688.2,807.1 L690.1,805.9 L691.1,805.2 L692.0,804.5 L693.9,803.3 L695.8,802.8 L712.8,802.8 L714.7,803.3 L716.6,804.5 L717.6,805.2 L718.5,805.9 L720.4,807.1 L722.3,807.6 L731.1,807.6 L733.0,807.1 L734.9,805.9 L735.9,805.2 L736.8,804.5 L738.7,803.3 L740.6,802.8 L757.6,802.8 L759.5,803.3 L761.4,804.5 L762.4,805.2 L763.3,805.9 L765.2,807.1 L767.1,807.6 L775.9,807.6 L777.8,807.1 L779.7,805.9 L780.7,805.2 L781.6,804.5 L783.5,803.3 L785.4,802.8 L802.4,802.8 L804.3,803.3 L806.2,804.5 L807.2,805.2 L808.1,805.9 L810.0,807.1 L811.9,807.6 L820.7,807.6 L822.6,807.1 L824.5,805.9 L825.5,805.2 L826.4,804.5 L828.3,803.3 L830.2,802.8 L847.2,802.8 L849.1,803.3 L851.0,804.5 L852.0,805.2 L852.9,805.9 L854.8,807.1 L856.7,807.6 L865.5,807.6 L867.4,807.1 L869.3,805.9 L870.3,805.2 L871.2,804.5 L873.1,803.3 L875.0,802.8 L892.0,802.8 L893.9,803.3 L895.0,803.9" fill="none" stroke="#5d5f64" stroke-width="1.6" opacity="0.38" transform="translate(0,.6)"/><path d="M610.0,802.8 L623.2,802.8 L625.1,803.3 L627.0,804.5 L628.0,805.2 L628.9,805.9 L630.8,807.1 L632.7,807.6 L641.5,807.6 L643.4,807.1 L645.3,805.9 L646.3,805.2 L647.2,804.5 L649.1,803.3 L651.0,802.8 L668.0,802.8 L669.9,803.3 L671.8,804.5 L672.8,805.2 L673.7,805.9 L675.6,807.1 L677.5,807.6 L686.3,807.6 L688.2,807.1 L690.1,805.9 L691.1,805.2 L692.0,804.5 L693.9,803.3 L695.8,802.8 L712.8,802.8 L714.7,803.3 L716.6,804.5 L717.6,805.2 L718.5,805.9 L720.4,807.1 L722.3,807.6 L731.1,807.6 L733.0,807.1 L734.9,805.9 L735.9,805.2 L736.8,804.5 L738.7,803.3 L740.6,802.8 L757.6,802.8 L759.5,803.3 L761.4,804.5 L762.4,805.2 L763.3,805.9 L765.2,807.1 L767.1,807.6 L775.9,807.6 L777.8,807.1 L779.7,805.9 L780.7,805.2 L781.6,804.5 L783.5,803.3 L785.4,802.8 L802.4,802.8 L804.3,803.3 L806.2,804.5 L807.2,805.2 L808.1,805.9 L810.0,807.1 L811.9,807.6 L820.7,807.6 L822.6,807.1 L824.5,805.9 L825.5,805.2 L826.4,804.5 L828.3,803.3 L830.2,802.8 L847.2,802.8 L849.1,803.3 L851.0,804.5 L852.0,805.2 L852.9,805.9 L854.8,807.1 L856.7,807.6 L865.5,807.6 L867.4,807.1 L869.3,805.9 L870.3,805.2 L871.2,804.5 L873.1,803.3 L875.0,802.8 L892.0,802.8 L893.9,803.3 L895.0,803.9" fill="none" stroke="#b9bbbf" stroke-width=".6" opacity="0.22" transform="translate(0,3.4)"/><rect x="610" y="430" width="285" height="426" filter="url(#grain)" opacity="0.1"/></g><g clip-path="url(#cp4dark)"><rect x="455" y="430" width="370" height="426" fill="#1e2934"/><rect x="455" y="430" width="370" height="426" fill="url(#t4str)" opacity="1"/><path d="M455.0,437.0 L455.7,437.4 L457.6,437.9 L466.4,437.9 L468.3,437.4 L470.2,436.2 L471.1,435.5 L472.1,434.8 L474.0,433.6 L475.9,433.1 L492.9,433.1 L494.8,433.6 L496.7,434.8 L497.6,435.5 L498.6,436.2 L500.5,437.4 L502.4,437.9 L511.2,437.9 L513.1,437.4 L515.0,436.2 L515.9,435.5 L516.9,434.8 L518.8,433.6 L520.7,433.1 L537.7,433.1 L539.6,433.6 L541.5,434.8 L542.4,435.5 L543.4,436.2 L545.3,437.4 L547.2,437.9 L556.0,437.9 L557.9,437.4 L559.8,436.2 L560.7,435.5 L561.7,434.8 L563.6,433.6 L565.5,433.1 L582.5,433.1 L584.4,433.6 L586.3,434.8 L587.2,435.5 L588.2,436.2 L590.1,437.4 L592.0,437.9 L600.8,437.9 L602.7,437.4 L604.6,436.2 L605.5,435.5 L606.5,434.8 L608.4,433.6 L610.3,433.1 L627.3,433.1 L629.2,433.6 L631.1,434.8 L632.0,435.5 L633.0,436.2 L634.9,437.4 L636.8,437.9 L645.6,437.9 L647.5,437.4 L649.4,436.2 L650.3,435.5 L651.3,434.8 L653.2,433.6 L655.1,433.1 L672.1,433.1 L674.0,433.6 L675.9,434.8 L676.8,435.5 L677.8,436.2 L679.7,437.4 L681.6,437.9 L690.4,437.9 L692.3,437.4 L694.2,436.2 L695.1,435.5 L696.1,434.8 L698.0,433.6 L699.9,433.1 L716.9,433.1 L718.8,433.6 L720.7,434.8 L721.6,435.5 L722.6,436.2 L724.5,437.4 L726.4,437.9 L735.2,437.9 L737.1,437.4 L739.0,436.2 L739.9,435.5 L740.9,434.8 L742.8,433.6 L744.7,433.1 L761.7,433.1 L763.6,433.6 L765.5,434.8 L766.4,435.5 L767.4,436.2 L769.3,437.4 L771.2,437.9 L780.0,437.9 L781.9,437.4 L783.8,436.2 L784.7,435.5 L785.7,434.8 L787.6,433.6 L789.5,433.1 L806.5,433.1 L808.4,433.6 L810.3,434.8 L811.2,435.5 L812.2,436.2 L814.1,437.4 L816.0,437.9 L824.8,437.9 L825.0,437.9 L825.0,484.4 L813.8,484.4 L811.9,484.9 L810.0,486.1 L809.0,486.8 L808.1,487.5 L806.2,488.7 L804.3,489.2 L795.5,489.2 L793.6,488.7 L791.7,487.5 L790.7,486.8 L789.8,486.1 L787.9,484.9 L786.0,484.4 L769.0,484.4 L767.1,484.9 L765.2,486.1 L764.2,486.8 L763.3,487.5 L761.4,488.7 L759.5,489.2 L750.7,489.2 L748.8,488.7 L746.9,487.5 L745.9,486.8 L745.0,486.1 L743.1,484.9 L741.2,484.4 L724.2,484.4 L722.3,484.9 L720.4,486.1 L719.4,486.8 L718.5,487.5 L716.6,488.7 L714.7,489.2 L705.9,489.2 L704.0,488.7 L702.1,487.5 L701.1,486.8 L700.2,486.1 L698.3,484.9 L696.4,484.4 L679.4,484.4 L677.5,484.9 L675.6,486.1 L674.6,486.8 L673.7,487.5 L671.8,488.7 L669.9,489.2 L661.1,489.2 L659.2,488.7 L657.3,487.5 L656.3,486.8 L655.4,486.1 L653.5,484.9 L651.6,484.4 L634.6,484.4 L632.7,484.9 L630.8,486.1 L629.8,486.8 L628.9,487.5 L627.0,488.7 L625.1,489.2 L616.3,489.2 L614.4,488.7 L612.5,487.5 L611.5,486.8 L610.6,486.1 L608.7,484.9 L606.8,484.4 L589.8,484.4 L587.9,484.9 L586.0,486.1 L585.0,486.8 L584.1,487.5 L582.2,488.7 L580.3,489.2 L571.5,489.2 L569.6,488.7 L567.7,487.5 L566.7,486.8 L565.8,486.1 L563.9,484.9 L562.0,484.4 L545.0,484.4 L543.1,484.9 L541.2,486.1 L540.2,486.8 L539.3,487.5 L537.4,488.7 L535.5,489.2 L526.7,489.2 L524.8,488.7 L522.9,487.5 L521.9,486.8 L521.0,486.1 L519.1,484.9 L517.2,484.4 L500.2,484.4 L498.3,484.9 L496.4,486.1 L495.4,486.8 L494.5,487.5 L492.6,488.7 L490.7,489.2 L481.9,489.2 L480.0,488.7 L478.1,487.5 L477.1,486.8 L476.2,486.1 L474.3,484.9 L472.4,484.4 L455.4,484.4 L455.0,484.4Z" fill="url(#t4row)"/><path d="M455.0,484.4 L455.4,484.4 L472.4,484.4 L474.3,484.9 L476.2,486.1 L477.1,486.8 L478.1,487.5 L480.0,488.7 L481.9,489.2 L490.7,489.2 L492.6,488.7 L494.5,487.5 L495.4,486.8 L496.4,486.1 L498.3,484.9 L500.2,484.4 L517.2,484.4 L519.1,484.9 L521.0,486.1 L521.9,486.8 L522.9,487.5 L524.8,488.7 L526.7,489.2 L535.5,489.2 L537.4,488.7 L539.3,487.5 L540.2,486.8 L541.2,486.1 L543.1,484.9 L545.0,484.4 L562.0,484.4 L563.9,484.9 L565.8,486.1 L566.7,486.8 L567.7,487.5 L569.6,488.7 L571.5,489.2 L580.3,489.2 L582.2,488.7 L584.1,487.5 L585.0,486.8 L586.0,486.1 L587.9,484.9 L589.8,484.4 L606.8,484.4 L608.7,484.9 L610.6,486.1 L611.5,486.8 L612.5,487.5 L614.4,488.7 L616.3,489.2 L625.1,489.2 L627.0,488.7 L628.9,487.5 L629.8,486.8 L630.8,486.1 L632.7,484.9 L634.6,484.4 L651.6,484.4 L653.5,484.9 L655.4,486.1 L656.3,486.8 L657.3,487.5 L659.2,488.7 L661.1,489.2 L669.9,489.2 L671.8,488.7 L673.7,487.5 L674.6,486.8 L675.6,486.1 L677.5,484.9 L679.4,484.4 L696.4,484.4 L698.3,484.9 L700.2,486.1 L701.1,486.8 L702.1,487.5 L704.0,488.7 L705.9,489.2 L714.7,489.2 L716.6,488.7 L718.5,487.5 L719.4,486.8 L720.4,486.1 L722.3,484.9 L724.2,484.4 L741.2,484.4 L743.1,484.9 L745.0,486.1 L745.9,486.8 L746.9,487.5 L748.8,488.7 L750.7,489.2 L759.5,489.2 L761.4,488.7 L763.3,487.5 L764.2,486.8 L765.2,486.1 L767.1,484.9 L769.0,484.4 L786.0,484.4 L787.9,484.9 L789.8,486.1 L790.7,486.8 L791.7,487.5 L793.6,488.7 L795.5,489.2 L804.3,489.2 L806.2,488.7 L808.1,487.5 L809.0,486.8 L810.0,486.1 L811.9,484.9 L813.8,484.4 L825.0,484.4 L825.0,535.2 L817.3,535.2 L815.4,534.7 L813.5,533.5 L812.5,532.8 L811.6,532.1 L809.7,530.9 L807.8,530.4 L790.8,530.4 L788.9,530.9 L787.0,532.1 L786.0,532.8 L785.1,533.5 L783.2,534.7 L781.3,535.2 L772.5,535.2 L770.6,534.7 L768.7,533.5 L767.7,532.8 L766.8,532.1 L764.9,530.9 L763.0,530.4 L746.0,530.4 L744.1,530.9 L742.2,532.1 L741.2,532.8 L740.3,533.5 L738.4,534.7 L736.5,535.2 L727.7,535.2 L725.8,534.7 L723.9,533.5 L722.9,532.8 L722.0,532.1 L720.1,530.9 L718.2,530.4 L701.2,530.4 L699.3,530.9 L697.4,532.1 L696.4,532.8 L695.5,533.5 L693.6,534.7 L691.7,535.2 L682.9,535.2 L681.0,534.7 L679.1,533.5 L678.1,532.8 L677.2,532.1 L675.3,530.9 L673.4,530.4 L656.4,530.4 L654.5,530.9 L652.6,532.1 L651.6,532.8 L650.7,533.5 L648.8,534.7 L646.9,535.2 L638.1,535.2 L636.2,534.7 L634.3,533.5 L633.3,532.8 L632.4,532.1 L630.5,530.9 L628.6,530.4 L611.6,530.4 L609.7,530.9 L607.8,532.1 L606.8,532.8 L605.9,533.5 L604.0,534.7 L602.1,535.2 L593.3,535.2 L591.4,534.7 L589.5,533.5 L588.5,532.8 L587.6,532.1 L585.7,530.9 L583.8,530.4 L566.8,530.4 L564.9,530.9 L563.0,532.1 L562.0,532.8 L561.1,533.5 L559.2,534.7 L557.3,535.2 L548.5,535.2 L546.6,534.7 L544.7,533.5 L543.7,532.8 L542.8,532.1 L540.9,530.9 L539.0,530.4 L522.0,530.4 L520.1,530.9 L518.2,532.1 L517.2,532.8 L516.3,533.5 L514.4,534.7 L512.5,535.2 L503.7,535.2 L501.8,534.7 L499.9,533.5 L498.9,532.8 L498.0,532.1 L496.1,530.9 L494.2,530.4 L477.2,530.4 L475.3,530.9 L473.4,532.1 L472.4,532.8 L471.5,533.5 L469.6,534.7 L467.7,535.2 L458.9,535.2 L457.0,534.7 L455.1,533.5 L455.0,533.4Z" fill="url(#t4row)"/><path d="M455.0,533.4 L455.1,533.5 L457.0,534.7 L458.9,535.2 L467.7,535.2 L469.6,534.7 L471.5,533.5 L472.4,532.8 L473.4,532.1 L475.3,530.9 L477.2,530.4 L494.2,530.4 L496.1,530.9 L498.0,532.1 L498.9,532.8 L499.9,533.5 L501.8,534.7 L503.7,535.2 L512.5,535.2 L514.4,534.7 L516.3,533.5 L517.2,532.8 L518.2,532.1 L520.1,530.9 L522.0,530.4 L539.0,530.4 L540.9,530.9 L542.8,532.1 L543.7,532.8 L544.7,533.5 L546.6,534.7 L548.5,535.2 L557.3,535.2 L559.2,534.7 L561.1,533.5 L562.0,532.8 L563.0,532.1 L564.9,530.9 L566.8,530.4 L583.8,530.4 L585.7,530.9 L587.6,532.1 L588.5,532.8 L589.5,533.5 L591.4,534.7 L593.3,535.2 L602.1,535.2 L604.0,534.7 L605.9,533.5 L606.8,532.8 L607.8,532.1 L609.7,530.9 L611.6,530.4 L628.6,530.4 L630.5,530.9 L632.4,532.1 L633.3,532.8 L634.3,533.5 L636.2,534.7 L638.1,535.2 L646.9,535.2 L648.8,534.7 L650.7,533.5 L651.6,532.8 L652.6,532.1 L654.5,530.9 L656.4,530.4 L673.4,530.4 L675.3,530.9 L677.2,532.1 L678.1,532.8 L679.1,533.5 L681.0,534.7 L682.9,535.2 L691.7,535.2 L693.6,534.7 L695.5,533.5 L696.4,532.8 L697.4,532.1 L699.3,530.9 L701.2,530.4 L718.2,530.4 L720.1,530.9 L722.0,532.1 L722.9,532.8 L723.9,533.5 L725.8,534.7 L727.7,535.2 L736.5,535.2 L738.4,534.7 L740.3,533.5 L741.2,532.8 L742.2,532.1 L744.1,530.9 L746.0,530.4 L763.0,530.4 L764.9,530.9 L766.8,532.1 L767.7,532.8 L768.7,533.5 L770.6,534.7 L772.5,535.2 L781.3,535.2 L783.2,534.7 L785.1,533.5 L786.0,532.8 L787.0,532.1 L788.9,530.9 L790.8,530.4 L807.8,530.4 L809.7,530.9 L811.6,532.1 L812.5,532.8 L813.5,533.5 L815.4,534.7 L817.3,535.2 L825.0,535.2 L825.0,576.2 L812.5,576.2 L810.6,576.7 L808.7,577.9 L807.7,578.6 L806.8,579.3 L804.9,580.5 L803.0,581.0 L794.2,581.0 L792.3,580.5 L790.4,579.3 L789.4,578.6 L788.5,577.9 L786.6,576.7 L784.7,576.2 L767.7,576.2 L765.8,576.7 L763.9,577.9 L762.9,578.6 L762.0,579.3 L760.1,580.5 L758.2,581.0 L749.4,581.0 L747.5,580.5 L745.6,579.3 L744.6,578.6 L743.7,577.9 L741.8,576.7 L739.9,576.2 L722.9,576.2 L721.0,576.7 L719.1,577.9 L718.1,578.6 L717.2,579.3 L715.3,580.5 L713.4,581.0 L704.6,581.0 L702.7,580.5 L700.8,579.3 L699.8,578.6 L698.9,577.9 L697.0,576.7 L695.1,576.2 L678.1,576.2 L676.2,576.7 L674.3,577.9 L673.3,578.6 L672.4,579.3 L670.5,580.5 L668.6,581.0 L659.8,581.0 L657.9,580.5 L656.0,579.3 L655.0,578.6 L654.1,577.9 L652.2,576.7 L650.3,576.2 L633.3,576.2 L631.4,576.7 L629.5,577.9 L628.5,578.6 L627.6,579.3 L625.7,580.5 L623.8,581.0 L615.0,581.0 L613.1,580.5 L611.2,579.3 L610.2,578.6 L609.3,577.9 L607.4,576.7 L605.5,576.2 L588.5,576.2 L586.6,576.7 L584.7,577.9 L583.7,578.6 L582.8,579.3 L580.9,580.5 L579.0,581.0 L570.2,581.0 L568.3,580.5 L566.4,579.3 L565.4,578.6 L564.5,577.9 L562.6,576.7 L560.7,576.2 L543.7,576.2 L541.8,576.7 L539.9,577.9 L538.9,578.6 L538.0,579.3 L536.1,580.5 L534.2,581.0 L525.4,581.0 L523.5,580.5 L521.6,579.3 L520.6,578.6 L519.7,577.9 L517.8,576.7 L515.9,576.2 L498.9,576.2 L497.0,576.7 L495.1,577.9 L494.1,578.6 L493.2,579.3 L491.3,580.5 L489.4,581.0 L480.6,581.0 L478.7,580.5 L476.8,579.3 L475.8,578.6 L474.9,577.9 L473.0,576.7 L471.1,576.2 L455.0,576.2Z" fill="url(#t4row)"/><path d="M455.0,576.2 L471.1,576.2 L473.0,576.7 L474.9,577.9 L475.8,578.6 L476.8,579.3 L478.7,580.5 L480.6,581.0 L489.4,581.0 L491.3,580.5 L493.2,579.3 L494.1,578.6 L495.1,577.9 L497.0,576.7 L498.9,576.2 L515.9,576.2 L517.8,576.7 L519.7,577.9 L520.6,578.6 L521.6,579.3 L523.5,580.5 L525.4,581.0 L534.2,581.0 L536.1,580.5 L538.0,579.3 L538.9,578.6 L539.9,577.9 L541.8,576.7 L543.7,576.2 L560.7,576.2 L562.6,576.7 L564.5,577.9 L565.4,578.6 L566.4,579.3 L568.3,580.5 L570.2,581.0 L579.0,581.0 L580.9,580.5 L582.8,579.3 L583.7,578.6 L584.7,577.9 L586.6,576.7 L588.5,576.2 L605.5,576.2 L607.4,576.7 L609.3,577.9 L610.2,578.6 L611.2,579.3 L613.1,580.5 L615.0,581.0 L623.8,581.0 L625.7,580.5 L627.6,579.3 L628.5,578.6 L629.5,577.9 L631.4,576.7 L633.3,576.2 L650.3,576.2 L652.2,576.7 L654.1,577.9 L655.0,578.6 L656.0,579.3 L657.9,580.5 L659.8,581.0 L668.6,581.0 L670.5,580.5 L672.4,579.3 L673.3,578.6 L674.3,577.9 L676.2,576.7 L678.1,576.2 L695.1,576.2 L697.0,576.7 L698.9,577.9 L699.8,578.6 L700.8,579.3 L702.7,580.5 L704.6,581.0 L713.4,581.0 L715.3,580.5 L717.2,579.3 L718.1,578.6 L719.1,577.9 L721.0,576.7 L722.9,576.2 L739.9,576.2 L741.8,576.7 L743.7,577.9 L744.6,578.6 L745.6,579.3 L747.5,580.5 L749.4,581.0 L758.2,581.0 L760.1,580.5 L762.0,579.3 L762.9,578.6 L763.9,577.9 L765.8,576.7 L767.7,576.2 L784.7,576.2 L786.6,576.7 L788.5,577.9 L789.4,578.6 L790.4,579.3 L792.3,580.5 L794.2,581.0 L803.0,581.0 L804.9,580.5 L806.8,579.3 L807.7,578.6 L808.7,577.9 L810.6,576.7 L812.5,576.2 L825.0,576.2 L825.0,625.7 L824.2,625.8 L815.4,625.8 L813.5,625.3 L811.6,624.1 L810.7,623.4 L809.7,622.7 L807.8,621.5 L805.9,621.0 L788.9,621.0 L787.0,621.5 L785.1,622.7 L784.2,623.4 L783.2,624.1 L781.3,625.3 L779.4,625.8 L770.6,625.8 L768.7,625.3 L766.8,624.1 L765.9,623.4 L764.9,622.7 L763.0,621.5 L761.1,621.0 L744.1,621.0 L742.2,621.5 L740.3,622.7 L739.4,623.4 L738.4,624.1 L736.5,625.3 L734.6,625.8 L725.8,625.8 L723.9,625.3 L722.0,624.1 L721.1,623.4 L720.1,622.7 L718.2,621.5 L716.3,621.0 L699.3,621.0 L697.4,621.5 L695.5,622.7 L694.6,623.4 L693.6,624.1 L691.7,625.3 L689.8,625.8 L681.0,625.8 L679.1,625.3 L677.2,624.1 L676.3,623.4 L675.3,622.7 L673.4,621.5 L671.5,621.0 L654.5,621.0 L652.6,621.5 L650.7,622.7 L649.8,623.4 L648.8,624.1 L646.9,625.3 L645.0,625.8 L636.2,625.8 L634.3,625.3 L632.4,624.1 L631.5,623.4 L630.5,622.7 L628.6,621.5 L626.7,621.0 L609.7,621.0 L607.8,621.5 L605.9,622.7 L605.0,623.4 L604.0,624.1 L602.1,625.3 L600.2,625.8 L591.4,625.8 L589.5,625.3 L587.6,624.1 L586.7,623.4 L585.7,622.7 L583.8,621.5 L581.9,621.0 L564.9,621.0 L563.0,621.5 L561.1,622.7 L560.2,623.4 L559.2,624.1 L557.3,625.3 L555.4,625.8 L546.6,625.8 L544.7,625.3 L542.8,624.1 L541.9,623.4 L540.9,622.7 L539.0,621.5 L537.1,621.0 L520.1,621.0 L518.2,621.5 L516.3,622.7 L515.4,623.4 L514.4,624.1 L512.5,625.3 L510.6,625.8 L501.8,625.8 L499.9,625.3 L498.0,624.1 L497.1,623.4 L496.1,622.7 L494.2,621.5 L492.3,621.0 L475.3,621.0 L473.4,621.5 L471.5,622.7 L470.6,623.4 L469.6,624.1 L467.7,625.3 L465.8,625.8 L457.0,625.8 L455.1,625.3 L455.0,625.2Z" fill="url(#t4row)"/><path d="M455.0,625.2 L455.1,625.3 L457.0,625.8 L465.8,625.8 L467.7,625.3 L469.6,624.1 L470.6,623.4 L471.5,622.7 L473.4,621.5 L475.3,621.0 L492.3,621.0 L494.2,621.5 L496.1,622.7 L497.1,623.4 L498.0,624.1 L499.9,625.3 L501.8,625.8 L510.6,625.8 L512.5,625.3 L514.4,624.1 L515.4,623.4 L516.3,622.7 L518.2,621.5 L520.1,621.0 L537.1,621.0 L539.0,621.5 L540.9,622.7 L541.9,623.4 L542.8,624.1 L544.7,625.3 L546.6,625.8 L555.4,625.8 L557.3,625.3 L559.2,624.1 L560.2,623.4 L561.1,622.7 L563.0,621.5 L564.9,621.0 L581.9,621.0 L583.8,621.5 L585.7,622.7 L586.7,623.4 L587.6,624.1 L589.5,625.3 L591.4,625.8 L600.2,625.8 L602.1,625.3 L604.0,624.1 L605.0,623.4 L605.9,622.7 L607.8,621.5 L609.7,621.0 L626.7,621.0 L628.6,621.5 L630.5,622.7 L631.5,623.4 L632.4,624.1 L634.3,625.3 L636.2,625.8 L645.0,625.8 L646.9,625.3 L648.8,624.1 L649.8,623.4 L650.7,622.7 L652.6,621.5 L654.5,621.0 L671.5,621.0 L673.4,621.5 L675.3,622.7 L676.3,623.4 L677.2,624.1 L679.1,625.3 L681.0,625.8 L689.8,625.8 L691.7,625.3 L693.6,624.1 L694.6,623.4 L695.5,622.7 L697.4,621.5 L699.3,621.0 L716.3,621.0 L718.2,621.5 L720.1,622.7 L721.1,623.4 L722.0,624.1 L723.9,625.3 L725.8,625.8 L734.6,625.8 L736.5,625.3 L738.4,624.1 L739.4,623.4 L740.3,622.7 L742.2,621.5 L744.1,621.0 L761.1,621.0 L763.0,621.5 L764.9,622.7 L765.9,623.4 L766.8,624.1 L768.7,625.3 L770.6,625.8 L779.4,625.8 L781.3,625.3 L783.2,624.1 L784.2,623.4 L785.1,622.7 L787.0,621.5 L788.9,621.0 L805.9,621.0 L807.8,621.5 L809.7,622.7 L810.7,623.4 L811.6,624.1 L813.5,625.3 L815.4,625.8 L824.2,625.8 L825.0,625.7 L825.0,665.8 L810.1,665.8 L808.2,666.3 L806.3,667.5 L805.4,668.2 L804.4,668.9 L802.5,670.1 L800.6,670.6 L791.8,670.6 L789.9,670.1 L788.0,668.9 L787.1,668.2 L786.1,667.5 L784.2,666.3 L782.3,665.8 L765.3,665.8 L763.4,666.3 L761.5,667.5 L760.6,668.2 L759.6,668.9 L757.7,670.1 L755.8,670.6 L747.0,670.6 L745.1,670.1 L743.2,668.9 L742.3,668.2 L741.3,667.5 L739.4,666.3 L737.5,665.8 L720.5,665.8 L718.6,666.3 L716.7,667.5 L715.8,668.2 L714.8,668.9 L712.9,670.1 L711.0,670.6 L702.2,670.6 L700.3,670.1 L698.4,668.9 L697.5,668.2 L696.5,667.5 L694.6,666.3 L692.7,665.8 L675.7,665.8 L673.8,666.3 L671.9,667.5 L671.0,668.2 L670.0,668.9 L668.1,670.1 L666.2,670.6 L657.4,670.6 L655.5,670.1 L653.6,668.9 L652.7,668.2 L651.7,667.5 L649.8,666.3 L647.9,665.8 L630.9,665.8 L629.0,666.3 L627.1,667.5 L626.2,668.2 L625.2,668.9 L623.3,670.1 L621.4,670.6 L612.6,670.6 L610.7,670.1 L608.8,668.9 L607.9,668.2 L606.9,667.5 L605.0,666.3 L603.1,665.8 L586.1,665.8 L584.2,666.3 L582.3,667.5 L581.4,668.2 L580.4,668.9 L578.5,670.1 L576.6,670.6 L567.8,670.6 L565.9,670.1 L564.0,668.9 L563.1,668.2 L562.1,667.5 L560.2,666.3 L558.3,665.8 L541.3,665.8 L539.4,666.3 L537.5,667.5 L536.6,668.2 L535.6,668.9 L533.7,670.1 L531.8,670.6 L523.0,670.6 L521.1,670.1 L519.2,668.9 L518.3,668.2 L517.3,667.5 L515.4,666.3 L513.5,665.8 L496.5,665.8 L494.6,666.3 L492.7,667.5 L491.8,668.2 L490.8,668.9 L488.9,670.1 L487.0,670.6 L478.2,670.6 L476.3,670.1 L474.4,668.9 L473.5,668.2 L472.5,667.5 L470.6,666.3 L468.7,665.8 L455.0,665.8Z" fill="url(#t4row)"/><path d="M455.0,665.8 L468.7,665.8 L470.6,666.3 L472.5,667.5 L473.5,668.2 L474.4,668.9 L476.3,670.1 L478.2,670.6 L487.0,670.6 L488.9,670.1 L490.8,668.9 L491.8,668.2 L492.7,667.5 L494.6,666.3 L496.5,665.8 L513.5,665.8 L515.4,666.3 L517.3,667.5 L518.3,668.2 L519.2,668.9 L521.1,670.1 L523.0,670.6 L531.8,670.6 L533.7,670.1 L535.6,668.9 L536.6,668.2 L537.5,667.5 L539.4,666.3 L541.3,665.8 L558.3,665.8 L560.2,666.3 L562.1,667.5 L563.1,668.2 L564.0,668.9 L565.9,670.1 L567.8,670.6 L576.6,670.6 L578.5,670.1 L580.4,668.9 L581.4,668.2 L582.3,667.5 L584.2,666.3 L586.1,665.8 L603.1,665.8 L605.0,666.3 L606.9,667.5 L607.9,668.2 L608.8,668.9 L610.7,670.1 L612.6,670.6 L621.4,670.6 L623.3,670.1 L625.2,668.9 L626.2,668.2 L627.1,667.5 L629.0,666.3 L630.9,665.8 L647.9,665.8 L649.8,666.3 L651.7,667.5 L652.7,668.2 L653.6,668.9 L655.5,670.1 L657.4,670.6 L666.2,670.6 L668.1,670.1 L670.0,668.9 L671.0,668.2 L671.9,667.5 L673.8,666.3 L675.7,665.8 L692.7,665.8 L694.6,666.3 L696.5,667.5 L697.5,668.2 L698.4,668.9 L700.3,670.1 L702.2,670.6 L711.0,670.6 L712.9,670.1 L714.8,668.9 L715.8,668.2 L716.7,667.5 L718.6,666.3 L720.5,665.8 L737.5,665.8 L739.4,666.3 L741.3,667.5 L742.3,668.2 L743.2,668.9 L745.1,670.1 L747.0,670.6 L755.8,670.6 L757.7,670.1 L759.6,668.9 L760.6,668.2 L761.5,667.5 L763.4,666.3 L765.3,665.8 L782.3,665.8 L784.2,666.3 L786.1,667.5 L787.1,668.2 L788.0,668.9 L789.9,670.1 L791.8,670.6 L800.6,670.6 L802.5,670.1 L804.4,668.9 L805.4,668.2 L806.3,667.5 L808.2,666.3 L810.1,665.8 L825.0,665.8 L825.0,715.9 L824.4,716.2 L822.5,716.7 L813.7,716.7 L811.8,716.2 L809.9,715.0 L808.9,714.3 L808.0,713.6 L806.1,712.4 L804.2,711.9 L787.2,711.9 L785.3,712.4 L783.4,713.6 L782.4,714.3 L781.5,715.0 L779.6,716.2 L777.7,716.7 L768.9,716.7 L767.0,716.2 L765.1,715.0 L764.1,714.3 L763.2,713.6 L761.3,712.4 L759.4,711.9 L742.4,711.9 L740.5,712.4 L738.6,713.6 L737.6,714.3 L736.7,715.0 L734.8,716.2 L732.9,716.7 L724.1,716.7 L722.2,716.2 L720.3,715.0 L719.3,714.3 L718.4,713.6 L716.5,712.4 L714.6,711.9 L697.6,711.9 L695.7,712.4 L693.8,713.6 L692.8,714.3 L691.9,715.0 L690.0,716.2 L688.1,716.7 L679.3,716.7 L677.4,716.2 L675.5,715.0 L674.5,714.3 L673.6,713.6 L671.7,712.4 L669.8,711.9 L652.8,711.9 L650.9,712.4 L649.0,713.6 L648.0,714.3 L647.1,715.0 L645.2,716.2 L643.3,716.7 L634.5,716.7 L632.6,716.2 L630.7,715.0 L629.7,714.3 L628.8,713.6 L626.9,712.4 L625.0,711.9 L608.0,711.9 L606.1,712.4 L604.2,713.6 L603.2,714.3 L602.3,715.0 L600.4,716.2 L598.5,716.7 L589.7,716.7 L587.8,716.2 L585.9,715.0 L584.9,714.3 L584.0,713.6 L582.1,712.4 L580.2,711.9 L563.2,711.9 L561.3,712.4 L559.4,713.6 L558.4,714.3 L557.5,715.0 L555.6,716.2 L553.7,716.7 L544.9,716.7 L543.0,716.2 L541.1,715.0 L540.1,714.3 L539.2,713.6 L537.3,712.4 L535.4,711.9 L518.4,711.9 L516.5,712.4 L514.6,713.6 L513.6,714.3 L512.7,715.0 L510.8,716.2 L508.9,716.7 L500.1,716.7 L498.2,716.2 L496.3,715.0 L495.3,714.3 L494.4,713.6 L492.5,712.4 L490.6,711.9 L473.6,711.9 L471.7,712.4 L469.8,713.6 L468.8,714.3 L467.9,715.0 L466.0,716.2 L464.1,716.7 L455.3,716.7 L455.0,716.7Z" fill="url(#t4row)"/><path d="M455.0,716.7 L455.3,716.7 L464.1,716.7 L466.0,716.2 L467.9,715.0 L468.8,714.3 L469.8,713.6 L471.7,712.4 L473.6,711.9 L490.6,711.9 L492.5,712.4 L494.4,713.6 L495.3,714.3 L496.3,715.0 L498.2,716.2 L500.1,716.7 L508.9,716.7 L510.8,716.2 L512.7,715.0 L513.6,714.3 L514.6,713.6 L516.5,712.4 L518.4,711.9 L535.4,711.9 L537.3,712.4 L539.2,713.6 L540.1,714.3 L541.1,715.0 L543.0,716.2 L544.9,716.7 L553.7,716.7 L555.6,716.2 L557.5,715.0 L558.4,714.3 L559.4,713.6 L561.3,712.4 L563.2,711.9 L580.2,711.9 L582.1,712.4 L584.0,713.6 L584.9,714.3 L585.9,715.0 L587.8,716.2 L589.7,716.7 L598.5,716.7 L600.4,716.2 L602.3,715.0 L603.2,714.3 L604.2,713.6 L606.1,712.4 L608.0,711.9 L625.0,711.9 L626.9,712.4 L628.8,713.6 L629.7,714.3 L630.7,715.0 L632.6,716.2 L634.5,716.7 L643.3,716.7 L645.2,716.2 L647.1,715.0 L648.0,714.3 L649.0,713.6 L650.9,712.4 L652.8,711.9 L669.8,711.9 L671.7,712.4 L673.6,713.6 L674.5,714.3 L675.5,715.0 L677.4,716.2 L679.3,716.7 L688.1,716.7 L690.0,716.2 L691.9,715.0 L692.8,714.3 L693.8,713.6 L695.7,712.4 L697.6,711.9 L714.6,711.9 L716.5,712.4 L718.4,713.6 L719.3,714.3 L720.3,715.0 L722.2,716.2 L724.1,716.7 L732.9,716.7 L734.8,716.2 L736.7,715.0 L737.6,714.3 L738.6,713.6 L740.5,712.4 L742.4,711.9 L759.4,711.9 L761.3,712.4 L763.2,713.6 L764.1,714.3 L765.1,715.0 L767.0,716.2 L768.9,716.7 L777.7,716.7 L779.6,716.2 L781.5,715.0 L782.4,714.3 L783.4,713.6 L785.3,712.4 L787.2,711.9 L804.2,711.9 L806.1,712.4 L808.0,713.6 L808.9,714.3 L809.9,715.0 L811.8,716.2 L813.7,716.7 L822.5,716.7 L824.4,716.2 L825.0,715.9 L825.0,758.2 L809.1,758.2 L807.2,758.7 L805.3,759.9 L804.4,760.6 L803.4,761.3 L801.5,762.5 L799.6,763.0 L790.8,763.0 L788.9,762.5 L787.0,761.3 L786.1,760.6 L785.1,759.9 L783.2,758.7 L781.3,758.2 L764.3,758.2 L762.4,758.7 L760.5,759.9 L759.6,760.6 L758.6,761.3 L756.7,762.5 L754.8,763.0 L746.0,763.0 L744.1,762.5 L742.2,761.3 L741.3,760.6 L740.3,759.9 L738.4,758.7 L736.5,758.2 L719.5,758.2 L717.6,758.7 L715.7,759.9 L714.8,760.6 L713.8,761.3 L711.9,762.5 L710.0,763.0 L701.2,763.0 L699.3,762.5 L697.4,761.3 L696.5,760.6 L695.5,759.9 L693.6,758.7 L691.7,758.2 L674.7,758.2 L672.8,758.7 L670.9,759.9 L670.0,760.6 L669.0,761.3 L667.1,762.5 L665.2,763.0 L656.4,763.0 L654.5,762.5 L652.6,761.3 L651.7,760.6 L650.7,759.9 L648.8,758.7 L646.9,758.2 L629.9,758.2 L628.0,758.7 L626.1,759.9 L625.2,760.6 L624.2,761.3 L622.3,762.5 L620.4,763.0 L611.6,763.0 L609.7,762.5 L607.8,761.3 L606.9,760.6 L605.9,759.9 L604.0,758.7 L602.1,758.2 L585.1,758.2 L583.2,758.7 L581.3,759.9 L580.4,760.6 L579.4,761.3 L577.5,762.5 L575.6,763.0 L566.8,763.0 L564.9,762.5 L563.0,761.3 L562.1,760.6 L561.1,759.9 L559.2,758.7 L557.3,758.2 L540.3,758.2 L538.4,758.7 L536.5,759.9 L535.6,760.6 L534.6,761.3 L532.7,762.5 L530.8,763.0 L522.0,763.0 L520.1,762.5 L518.2,761.3 L517.3,760.6 L516.3,759.9 L514.4,758.7 L512.5,758.2 L495.5,758.2 L493.6,758.7 L491.7,759.9 L490.8,760.6 L489.8,761.3 L487.9,762.5 L486.0,763.0 L477.2,763.0 L475.3,762.5 L473.4,761.3 L472.5,760.6 L471.5,759.9 L469.6,758.7 L467.7,758.2 L455.0,758.2Z" fill="url(#t4row)"/><path d="M455.0,758.2 L467.7,758.2 L469.6,758.7 L471.5,759.9 L472.5,760.6 L473.4,761.3 L475.3,762.5 L477.2,763.0 L486.0,763.0 L487.9,762.5 L489.8,761.3 L490.8,760.6 L491.7,759.9 L493.6,758.7 L495.5,758.2 L512.5,758.2 L514.4,758.7 L516.3,759.9 L517.3,760.6 L518.2,761.3 L520.1,762.5 L522.0,763.0 L530.8,763.0 L532.7,762.5 L534.6,761.3 L535.6,760.6 L536.5,759.9 L538.4,758.7 L540.3,758.2 L557.3,758.2 L559.2,758.7 L561.1,759.9 L562.1,760.6 L563.0,761.3 L564.9,762.5 L566.8,763.0 L575.6,763.0 L577.5,762.5 L579.4,761.3 L580.4,760.6 L581.3,759.9 L583.2,758.7 L585.1,758.2 L602.1,758.2 L604.0,758.7 L605.9,759.9 L606.9,760.6 L607.8,761.3 L609.7,762.5 L611.6,763.0 L620.4,763.0 L622.3,762.5 L624.2,761.3 L625.2,760.6 L626.1,759.9 L628.0,758.7 L629.9,758.2 L646.9,758.2 L648.8,758.7 L650.7,759.9 L651.7,760.6 L652.6,761.3 L654.5,762.5 L656.4,763.0 L665.2,763.0 L667.1,762.5 L669.0,761.3 L670.0,760.6 L670.9,759.9 L672.8,758.7 L674.7,758.2 L691.7,758.2 L693.6,758.7 L695.5,759.9 L696.5,760.6 L697.4,761.3 L699.3,762.5 L701.2,763.0 L710.0,763.0 L711.9,762.5 L713.8,761.3 L714.8,760.6 L715.7,759.9 L717.6,758.7 L719.5,758.2 L736.5,758.2 L738.4,758.7 L740.3,759.9 L741.3,760.6 L742.2,761.3 L744.1,762.5 L746.0,763.0 L754.8,763.0 L756.7,762.5 L758.6,761.3 L759.6,760.6 L760.5,759.9 L762.4,758.7 L764.3,758.2 L781.3,758.2 L783.2,758.7 L785.1,759.9 L786.1,760.6 L787.0,761.3 L788.9,762.5 L790.8,763.0 L799.6,763.0 L801.5,762.5 L803.4,761.3 L804.4,760.6 L805.3,759.9 L807.2,758.7 L809.1,758.2 L825.0,758.2 L825.0,805.6 L824.5,805.9 L822.6,807.1 L820.7,807.6 L811.9,807.6 L810.0,807.1 L808.1,805.9 L807.2,805.2 L806.2,804.5 L804.3,803.3 L802.4,802.8 L785.4,802.8 L783.5,803.3 L781.6,804.5 L780.7,805.2 L779.7,805.9 L777.8,807.1 L775.9,807.6 L767.1,807.6 L765.2,807.1 L763.3,805.9 L762.4,805.2 L761.4,804.5 L759.5,803.3 L757.6,802.8 L740.6,802.8 L738.7,803.3 L736.8,804.5 L735.9,805.2 L734.9,805.9 L733.0,807.1 L731.1,807.6 L722.3,807.6 L720.4,807.1 L718.5,805.9 L717.6,805.2 L716.6,804.5 L714.7,803.3 L712.8,802.8 L695.8,802.8 L693.9,803.3 L692.0,804.5 L691.1,805.2 L690.1,805.9 L688.2,807.1 L686.3,807.6 L677.5,807.6 L675.6,807.1 L673.7,805.9 L672.8,805.2 L671.8,804.5 L669.9,803.3 L668.0,802.8 L651.0,802.8 L649.1,803.3 L647.2,804.5 L646.3,805.2 L645.3,805.9 L643.4,807.1 L641.5,807.6 L632.7,807.6 L630.8,807.1 L628.9,805.9 L628.0,805.2 L627.0,804.5 L625.1,803.3 L623.2,802.8 L606.2,802.8 L604.3,803.3 L602.4,804.5 L601.5,805.2 L600.5,805.9 L598.6,807.1 L596.7,807.6 L587.9,807.6 L586.0,807.1 L584.1,805.9 L583.2,805.2 L582.2,804.5 L580.3,803.3 L578.4,802.8 L561.4,802.8 L559.5,803.3 L557.6,804.5 L556.7,805.2 L555.7,805.9 L553.8,807.1 L551.9,807.6 L543.1,807.6 L541.2,807.1 L539.3,805.9 L538.4,805.2 L537.4,804.5 L535.5,803.3 L533.6,802.8 L516.6,802.8 L514.7,803.3 L512.8,804.5 L511.9,805.2 L510.9,805.9 L509.0,807.1 L507.1,807.6 L498.3,807.6 L496.4,807.1 L494.5,805.9 L493.6,805.2 L492.6,804.5 L490.7,803.3 L488.8,802.8 L471.8,802.8 L469.9,803.3 L468.0,804.5 L467.1,805.2 L466.1,805.9 L464.2,807.1 L462.3,807.6 L455.0,807.6Z" fill="url(#t4row)"/><path d="M455.0,807.6 L462.3,807.6 L464.2,807.1 L466.1,805.9 L467.1,805.2 L468.0,804.5 L469.9,803.3 L471.8,802.8 L488.8,802.8 L490.7,803.3 L492.6,804.5 L493.6,805.2 L494.5,805.9 L496.4,807.1 L498.3,807.6 L507.1,807.6 L509.0,807.1 L510.9,805.9 L511.9,805.2 L512.8,804.5 L514.7,803.3 L516.6,802.8 L533.6,802.8 L535.5,803.3 L537.4,804.5 L538.4,805.2 L539.3,805.9 L541.2,807.1 L543.1,807.6 L551.9,807.6 L553.8,807.1 L555.7,805.9 L556.7,805.2 L557.6,804.5 L559.5,803.3 L561.4,802.8 L578.4,802.8 L580.3,803.3 L582.2,804.5 L583.2,805.2 L584.1,805.9 L586.0,807.1 L587.9,807.6 L596.7,807.6 L598.6,807.1 L600.5,805.9 L601.5,805.2 L602.4,804.5 L604.3,803.3 L606.2,802.8 L623.2,802.8 L625.1,803.3 L627.0,804.5 L628.0,805.2 L628.9,805.9 L630.8,807.1 L632.7,807.6 L641.5,807.6 L643.4,807.1 L645.3,805.9 L646.3,805.2 L647.2,804.5 L649.1,803.3 L651.0,802.8 L668.0,802.8 L669.9,803.3 L671.8,804.5 L672.8,805.2 L673.7,805.9 L675.6,807.1 L677.5,807.6 L686.3,807.6 L688.2,807.1 L690.1,805.9 L691.1,805.2 L692.0,804.5 L693.9,803.3 L695.8,802.8 L712.8,802.8 L714.7,803.3 L716.6,804.5 L717.6,805.2 L718.5,805.9 L720.4,807.1 L722.3,807.6 L731.1,807.6 L733.0,807.1 L734.9,805.9 L735.9,805.2 L736.8,804.5 L738.7,803.3 L740.6,802.8 L757.6,802.8 L759.5,803.3 L761.4,804.5 L762.4,805.2 L763.3,805.9 L765.2,807.1 L767.1,807.6 L775.9,807.6 L777.8,807.1 L779.7,805.9 L780.7,805.2 L781.6,804.5 L783.5,803.3 L785.4,802.8 L802.4,802.8 L804.3,803.3 L806.2,804.5 L807.2,805.2 L808.1,805.9 L810.0,807.1 L811.9,807.6 L820.7,807.6 L822.6,807.1 L824.5,805.9 L825.0,805.6 L825.0,848.0 L823.8,847.8 L806.8,847.8 L804.9,848.3 L803.0,849.5 L802.0,850.2 L801.1,850.9 L799.2,852.1 L797.3,852.6 L788.5,852.6 L786.6,852.1 L784.7,850.9 L783.7,850.2 L782.8,849.5 L780.9,848.3 L779.0,847.8 L762.0,847.8 L760.1,848.3 L758.2,849.5 L757.2,850.2 L756.3,850.9 L754.4,852.1 L752.5,852.6 L743.7,852.6 L741.8,852.1 L739.9,850.9 L738.9,850.2 L738.0,849.5 L736.1,848.3 L734.2,847.8 L717.2,847.8 L715.3,848.3 L713.4,849.5 L712.4,850.2 L711.5,850.9 L709.6,852.1 L707.7,852.6 L698.9,852.6 L697.0,852.1 L695.1,850.9 L694.1,850.2 L693.2,849.5 L691.3,848.3 L689.4,847.8 L672.4,847.8 L670.5,848.3 L668.6,849.5 L667.6,850.2 L666.7,850.9 L664.8,852.1 L662.9,852.6 L654.1,852.6 L652.2,852.1 L650.3,850.9 L649.3,850.2 L648.4,849.5 L646.5,848.3 L644.6,847.8 L627.6,847.8 L625.7,848.3 L623.8,849.5 L622.8,850.2 L621.9,850.9 L620.0,852.1 L618.1,852.6 L609.3,852.6 L607.4,852.1 L605.5,850.9 L604.5,850.2 L603.6,849.5 L601.7,848.3 L599.8,847.8 L582.8,847.8 L580.9,848.3 L579.0,849.5 L578.0,850.2 L577.1,850.9 L575.2,852.1 L573.3,852.6 L564.5,852.6 L562.6,852.1 L560.7,850.9 L559.7,850.2 L558.8,849.5 L556.9,848.3 L555.0,847.8 L538.0,847.8 L536.1,848.3 L534.2,849.5 L533.2,850.2 L532.3,850.9 L530.4,852.1 L528.5,852.6 L519.7,852.6 L517.8,852.1 L515.9,850.9 L514.9,850.2 L514.0,849.5 L512.1,848.3 L510.2,847.8 L493.2,847.8 L491.3,848.3 L489.4,849.5 L488.4,850.2 L487.5,850.9 L485.6,852.1 L483.7,852.6 L474.9,852.6 L473.0,852.1 L471.1,850.9 L470.1,850.2 L469.2,849.5 L467.3,848.3 L465.4,847.8 L455.0,847.8Z" fill="url(#t4row)"/><path d="M455.0,484.4 L455.4,484.4 L472.4,484.4 L474.3,484.9 L476.2,486.1 L477.1,486.8 L478.1,487.5 L480.0,488.7 L481.9,489.2 L490.7,489.2 L492.6,488.7 L494.5,487.5 L495.4,486.8 L496.4,486.1 L498.3,484.9 L500.2,484.4 L517.2,484.4 L519.1,484.9 L521.0,486.1 L521.9,486.8 L522.9,487.5 L524.8,488.7 L526.7,489.2 L535.5,489.2 L537.4,488.7 L539.3,487.5 L540.2,486.8 L541.2,486.1 L543.1,484.9 L545.0,484.4 L562.0,484.4 L563.9,484.9 L565.8,486.1 L566.7,486.8 L567.7,487.5 L569.6,488.7 L571.5,489.2 L580.3,489.2 L582.2,488.7 L584.1,487.5 L585.0,486.8 L586.0,486.1 L587.9,484.9 L589.8,484.4 L606.8,484.4 L608.7,484.9 L610.6,486.1 L611.5,486.8 L612.5,487.5 L614.4,488.7 L616.3,489.2 L625.1,489.2 L627.0,488.7 L628.9,487.5 L629.8,486.8 L630.8,486.1 L632.7,484.9 L634.6,484.4 L651.6,484.4 L653.5,484.9 L655.4,486.1 L656.3,486.8 L657.3,487.5 L659.2,488.7 L661.1,489.2 L669.9,489.2 L671.8,488.7 L673.7,487.5 L674.6,486.8 L675.6,486.1 L677.5,484.9 L679.4,484.4 L696.4,484.4 L698.3,484.9 L700.2,486.1 L701.1,486.8 L702.1,487.5 L704.0,488.7 L705.9,489.2 L714.7,489.2 L716.6,488.7 L718.5,487.5 L719.4,486.8 L720.4,486.1 L722.3,484.9 L724.2,484.4 L741.2,484.4 L743.1,484.9 L745.0,486.1 L745.9,486.8 L746.9,487.5 L748.8,488.7 L750.7,489.2 L759.5,489.2 L761.4,488.7 L763.3,487.5 L764.2,486.8 L765.2,486.1 L767.1,484.9 L769.0,484.4 L786.0,484.4 L787.9,484.9 L789.8,486.1 L790.7,486.8 L791.7,487.5 L793.6,488.7 L795.5,489.2 L804.3,489.2 L806.2,488.7 L808.1,487.5 L809.0,486.8 L810.0,486.1 L811.9,484.9 L813.8,484.4 L825.0,484.4" fill="none" stroke="#090e14" stroke-width="1.6" opacity="0.85" transform="translate(0,.6)"/><path d="M455.0,484.4 L455.4,484.4 L472.4,484.4 L474.3,484.9 L476.2,486.1 L477.1,486.8 L478.1,487.5 L480.0,488.7 L481.9,489.2 L490.7,489.2 L492.6,488.7 L494.5,487.5 L495.4,486.8 L496.4,486.1 L498.3,484.9 L500.2,484.4 L517.2,484.4 L519.1,484.9 L521.0,486.1 L521.9,486.8 L522.9,487.5 L524.8,488.7 L526.7,489.2 L535.5,489.2 L537.4,488.7 L539.3,487.5 L540.2,486.8 L541.2,486.1 L543.1,484.9 L545.0,484.4 L562.0,484.4 L563.9,484.9 L565.8,486.1 L566.7,486.8 L567.7,487.5 L569.6,488.7 L571.5,489.2 L580.3,489.2 L582.2,488.7 L584.1,487.5 L585.0,486.8 L586.0,486.1 L587.9,484.9 L589.8,484.4 L606.8,484.4 L608.7,484.9 L610.6,486.1 L611.5,486.8 L612.5,487.5 L614.4,488.7 L616.3,489.2 L625.1,489.2 L627.0,488.7 L628.9,487.5 L629.8,486.8 L630.8,486.1 L632.7,484.9 L634.6,484.4 L651.6,484.4 L653.5,484.9 L655.4,486.1 L656.3,486.8 L657.3,487.5 L659.2,488.7 L661.1,489.2 L669.9,489.2 L671.8,488.7 L673.7,487.5 L674.6,486.8 L675.6,486.1 L677.5,484.9 L679.4,484.4 L696.4,484.4 L698.3,484.9 L700.2,486.1 L701.1,486.8 L702.1,487.5 L704.0,488.7 L705.9,489.2 L714.7,489.2 L716.6,488.7 L718.5,487.5 L719.4,486.8 L720.4,486.1 L722.3,484.9 L724.2,484.4 L741.2,484.4 L743.1,484.9 L745.0,486.1 L745.9,486.8 L746.9,487.5 L748.8,488.7 L750.7,489.2 L759.5,489.2 L761.4,488.7 L763.3,487.5 L764.2,486.8 L765.2,486.1 L767.1,484.9 L769.0,484.4 L786.0,484.4 L787.9,484.9 L789.8,486.1 L790.7,486.8 L791.7,487.5 L793.6,488.7 L795.5,489.2 L804.3,489.2 L806.2,488.7 L808.1,487.5 L809.0,486.8 L810.0,486.1 L811.9,484.9 L813.8,484.4 L825.0,484.4" fill="none" stroke="#5f7688" stroke-width=".6" opacity="0.4" transform="translate(0,3.4)"/><path d="M455.0,533.4 L455.1,533.5 L457.0,534.7 L458.9,535.2 L467.7,535.2 L469.6,534.7 L471.5,533.5 L472.4,532.8 L473.4,532.1 L475.3,530.9 L477.2,530.4 L494.2,530.4 L496.1,530.9 L498.0,532.1 L498.9,532.8 L499.9,533.5 L501.8,534.7 L503.7,535.2 L512.5,535.2 L514.4,534.7 L516.3,533.5 L517.2,532.8 L518.2,532.1 L520.1,530.9 L522.0,530.4 L539.0,530.4 L540.9,530.9 L542.8,532.1 L543.7,532.8 L544.7,533.5 L546.6,534.7 L548.5,535.2 L557.3,535.2 L559.2,534.7 L561.1,533.5 L562.0,532.8 L563.0,532.1 L564.9,530.9 L566.8,530.4 L583.8,530.4 L585.7,530.9 L587.6,532.1 L588.5,532.8 L589.5,533.5 L591.4,534.7 L593.3,535.2 L602.1,535.2 L604.0,534.7 L605.9,533.5 L606.8,532.8 L607.8,532.1 L609.7,530.9 L611.6,530.4 L628.6,530.4 L630.5,530.9 L632.4,532.1 L633.3,532.8 L634.3,533.5 L636.2,534.7 L638.1,535.2 L646.9,535.2 L648.8,534.7 L650.7,533.5 L651.6,532.8 L652.6,532.1 L654.5,530.9 L656.4,530.4 L673.4,530.4 L675.3,530.9 L677.2,532.1 L678.1,532.8 L679.1,533.5 L681.0,534.7 L682.9,535.2 L691.7,535.2 L693.6,534.7 L695.5,533.5 L696.4,532.8 L697.4,532.1 L699.3,530.9 L701.2,530.4 L718.2,530.4 L720.1,530.9 L722.0,532.1 L722.9,532.8 L723.9,533.5 L725.8,534.7 L727.7,535.2 L736.5,535.2 L738.4,534.7 L740.3,533.5 L741.2,532.8 L742.2,532.1 L744.1,530.9 L746.0,530.4 L763.0,530.4 L764.9,530.9 L766.8,532.1 L767.7,532.8 L768.7,533.5 L770.6,534.7 L772.5,535.2 L781.3,535.2 L783.2,534.7 L785.1,533.5 L786.0,532.8 L787.0,532.1 L788.9,530.9 L790.8,530.4 L807.8,530.4 L809.7,530.9 L811.6,532.1 L812.5,532.8 L813.5,533.5 L815.4,534.7 L817.3,535.2 L825.0,535.2" fill="none" stroke="#090e14" stroke-width="1.6" opacity="0.85" transform="translate(0,.6)"/><path d="M455.0,533.4 L455.1,533.5 L457.0,534.7 L458.9,535.2 L467.7,535.2 L469.6,534.7 L471.5,533.5 L472.4,532.8 L473.4,532.1 L475.3,530.9 L477.2,530.4 L494.2,530.4 L496.1,530.9 L498.0,532.1 L498.9,532.8 L499.9,533.5 L501.8,534.7 L503.7,535.2 L512.5,535.2 L514.4,534.7 L516.3,533.5 L517.2,532.8 L518.2,532.1 L520.1,530.9 L522.0,530.4 L539.0,530.4 L540.9,530.9 L542.8,532.1 L543.7,532.8 L544.7,533.5 L546.6,534.7 L548.5,535.2 L557.3,535.2 L559.2,534.7 L561.1,533.5 L562.0,532.8 L563.0,532.1 L564.9,530.9 L566.8,530.4 L583.8,530.4 L585.7,530.9 L587.6,532.1 L588.5,532.8 L589.5,533.5 L591.4,534.7 L593.3,535.2 L602.1,535.2 L604.0,534.7 L605.9,533.5 L606.8,532.8 L607.8,532.1 L609.7,530.9 L611.6,530.4 L628.6,530.4 L630.5,530.9 L632.4,532.1 L633.3,532.8 L634.3,533.5 L636.2,534.7 L638.1,535.2 L646.9,535.2 L648.8,534.7 L650.7,533.5 L651.6,532.8 L652.6,532.1 L654.5,530.9 L656.4,530.4 L673.4,530.4 L675.3,530.9 L677.2,532.1 L678.1,532.8 L679.1,533.5 L681.0,534.7 L682.9,535.2 L691.7,535.2 L693.6,534.7 L695.5,533.5 L696.4,532.8 L697.4,532.1 L699.3,530.9 L701.2,530.4 L718.2,530.4 L720.1,530.9 L722.0,532.1 L722.9,532.8 L723.9,533.5 L725.8,534.7 L727.7,535.2 L736.5,535.2 L738.4,534.7 L740.3,533.5 L741.2,532.8 L742.2,532.1 L744.1,530.9 L746.0,530.4 L763.0,530.4 L764.9,530.9 L766.8,532.1 L767.7,532.8 L768.7,533.5 L770.6,534.7 L772.5,535.2 L781.3,535.2 L783.2,534.7 L785.1,533.5 L786.0,532.8 L787.0,532.1 L788.9,530.9 L790.8,530.4 L807.8,530.4 L809.7,530.9 L811.6,532.1 L812.5,532.8 L813.5,533.5 L815.4,534.7 L817.3,535.2 L825.0,535.2" fill="none" stroke="#5f7688" stroke-width=".6" opacity="0.4" transform="translate(0,3.4)"/><path d="M455.0,576.2 L471.1,576.2 L473.0,576.7 L474.9,577.9 L475.8,578.6 L476.8,579.3 L478.7,580.5 L480.6,581.0 L489.4,581.0 L491.3,580.5 L493.2,579.3 L494.1,578.6 L495.1,577.9 L497.0,576.7 L498.9,576.2 L515.9,576.2 L517.8,576.7 L519.7,577.9 L520.6,578.6 L521.6,579.3 L523.5,580.5 L525.4,581.0 L534.2,581.0 L536.1,580.5 L538.0,579.3 L538.9,578.6 L539.9,577.9 L541.8,576.7 L543.7,576.2 L560.7,576.2 L562.6,576.7 L564.5,577.9 L565.4,578.6 L566.4,579.3 L568.3,580.5 L570.2,581.0 L579.0,581.0 L580.9,580.5 L582.8,579.3 L583.7,578.6 L584.7,577.9 L586.6,576.7 L588.5,576.2 L605.5,576.2 L607.4,576.7 L609.3,577.9 L610.2,578.6 L611.2,579.3 L613.1,580.5 L615.0,581.0 L623.8,581.0 L625.7,580.5 L627.6,579.3 L628.5,578.6 L629.5,577.9 L631.4,576.7 L633.3,576.2 L650.3,576.2 L652.2,576.7 L654.1,577.9 L655.0,578.6 L656.0,579.3 L657.9,580.5 L659.8,581.0 L668.6,581.0 L670.5,580.5 L672.4,579.3 L673.3,578.6 L674.3,577.9 L676.2,576.7 L678.1,576.2 L695.1,576.2 L697.0,576.7 L698.9,577.9 L699.8,578.6 L700.8,579.3 L702.7,580.5 L704.6,581.0 L713.4,581.0 L715.3,580.5 L717.2,579.3 L718.1,578.6 L719.1,577.9 L721.0,576.7 L722.9,576.2 L739.9,576.2 L741.8,576.7 L743.7,577.9 L744.6,578.6 L745.6,579.3 L747.5,580.5 L749.4,581.0 L758.2,581.0 L760.1,580.5 L762.0,579.3 L762.9,578.6 L763.9,577.9 L765.8,576.7 L767.7,576.2 L784.7,576.2 L786.6,576.7 L788.5,577.9 L789.4,578.6 L790.4,579.3 L792.3,580.5 L794.2,581.0 L803.0,581.0 L804.9,580.5 L806.8,579.3 L807.7,578.6 L808.7,577.9 L810.6,576.7 L812.5,576.2 L825.0,576.2" fill="none" stroke="#090e14" stroke-width="1.6" opacity="0.85" transform="translate(0,.6)"/><path d="M455.0,576.2 L471.1,576.2 L473.0,576.7 L474.9,577.9 L475.8,578.6 L476.8,579.3 L478.7,580.5 L480.6,581.0 L489.4,581.0 L491.3,580.5 L493.2,579.3 L494.1,578.6 L495.1,577.9 L497.0,576.7 L498.9,576.2 L515.9,576.2 L517.8,576.7 L519.7,577.9 L520.6,578.6 L521.6,579.3 L523.5,580.5 L525.4,581.0 L534.2,581.0 L536.1,580.5 L538.0,579.3 L538.9,578.6 L539.9,577.9 L541.8,576.7 L543.7,576.2 L560.7,576.2 L562.6,576.7 L564.5,577.9 L565.4,578.6 L566.4,579.3 L568.3,580.5 L570.2,581.0 L579.0,581.0 L580.9,580.5 L582.8,579.3 L583.7,578.6 L584.7,577.9 L586.6,576.7 L588.5,576.2 L605.5,576.2 L607.4,576.7 L609.3,577.9 L610.2,578.6 L611.2,579.3 L613.1,580.5 L615.0,581.0 L623.8,581.0 L625.7,580.5 L627.6,579.3 L628.5,578.6 L629.5,577.9 L631.4,576.7 L633.3,576.2 L650.3,576.2 L652.2,576.7 L654.1,577.9 L655.0,578.6 L656.0,579.3 L657.9,580.5 L659.8,581.0 L668.6,581.0 L670.5,580.5 L672.4,579.3 L673.3,578.6 L674.3,577.9 L676.2,576.7 L678.1,576.2 L695.1,576.2 L697.0,576.7 L698.9,577.9 L699.8,578.6 L700.8,579.3 L702.7,580.5 L704.6,581.0 L713.4,581.0 L715.3,580.5 L717.2,579.3 L718.1,578.6 L719.1,577.9 L721.0,576.7 L722.9,576.2 L739.9,576.2 L741.8,576.7 L743.7,577.9 L744.6,578.6 L745.6,579.3 L747.5,580.5 L749.4,581.0 L758.2,581.0 L760.1,580.5 L762.0,579.3 L762.9,578.6 L763.9,577.9 L765.8,576.7 L767.7,576.2 L784.7,576.2 L786.6,576.7 L788.5,577.9 L789.4,578.6 L790.4,579.3 L792.3,580.5 L794.2,581.0 L803.0,581.0 L804.9,580.5 L806.8,579.3 L807.7,578.6 L808.7,577.9 L810.6,576.7 L812.5,576.2 L825.0,576.2" fill="none" stroke="#5f7688" stroke-width=".6" opacity="0.4" transform="translate(0,3.4)"/><path d="M455.0,625.2 L455.1,625.3 L457.0,625.8 L465.8,625.8 L467.7,625.3 L469.6,624.1 L470.6,623.4 L471.5,622.7 L473.4,621.5 L475.3,621.0 L492.3,621.0 L494.2,621.5 L496.1,622.7 L497.1,623.4 L498.0,624.1 L499.9,625.3 L501.8,625.8 L510.6,625.8 L512.5,625.3 L514.4,624.1 L515.4,623.4 L516.3,622.7 L518.2,621.5 L520.1,621.0 L537.1,621.0 L539.0,621.5 L540.9,622.7 L541.9,623.4 L542.8,624.1 L544.7,625.3 L546.6,625.8 L555.4,625.8 L557.3,625.3 L559.2,624.1 L560.2,623.4 L561.1,622.7 L563.0,621.5 L564.9,621.0 L581.9,621.0 L583.8,621.5 L585.7,622.7 L586.7,623.4 L587.6,624.1 L589.5,625.3 L591.4,625.8 L600.2,625.8 L602.1,625.3 L604.0,624.1 L605.0,623.4 L605.9,622.7 L607.8,621.5 L609.7,621.0 L626.7,621.0 L628.6,621.5 L630.5,622.7 L631.5,623.4 L632.4,624.1 L634.3,625.3 L636.2,625.8 L645.0,625.8 L646.9,625.3 L648.8,624.1 L649.8,623.4 L650.7,622.7 L652.6,621.5 L654.5,621.0 L671.5,621.0 L673.4,621.5 L675.3,622.7 L676.3,623.4 L677.2,624.1 L679.1,625.3 L681.0,625.8 L689.8,625.8 L691.7,625.3 L693.6,624.1 L694.6,623.4 L695.5,622.7 L697.4,621.5 L699.3,621.0 L716.3,621.0 L718.2,621.5 L720.1,622.7 L721.1,623.4 L722.0,624.1 L723.9,625.3 L725.8,625.8 L734.6,625.8 L736.5,625.3 L738.4,624.1 L739.4,623.4 L740.3,622.7 L742.2,621.5 L744.1,621.0 L761.1,621.0 L763.0,621.5 L764.9,622.7 L765.9,623.4 L766.8,624.1 L768.7,625.3 L770.6,625.8 L779.4,625.8 L781.3,625.3 L783.2,624.1 L784.2,623.4 L785.1,622.7 L787.0,621.5 L788.9,621.0 L805.9,621.0 L807.8,621.5 L809.7,622.7 L810.7,623.4 L811.6,624.1 L813.5,625.3 L815.4,625.8 L824.2,625.8 L825.0,625.7" fill="none" stroke="#090e14" stroke-width="1.6" opacity="0.85" transform="translate(0,.6)"/><path d="M455.0,625.2 L455.1,625.3 L457.0,625.8 L465.8,625.8 L467.7,625.3 L469.6,624.1 L470.6,623.4 L471.5,622.7 L473.4,621.5 L475.3,621.0 L492.3,621.0 L494.2,621.5 L496.1,622.7 L497.1,623.4 L498.0,624.1 L499.9,625.3 L501.8,625.8 L510.6,625.8 L512.5,625.3 L514.4,624.1 L515.4,623.4 L516.3,622.7 L518.2,621.5 L520.1,621.0 L537.1,621.0 L539.0,621.5 L540.9,622.7 L541.9,623.4 L542.8,624.1 L544.7,625.3 L546.6,625.8 L555.4,625.8 L557.3,625.3 L559.2,624.1 L560.2,623.4 L561.1,622.7 L563.0,621.5 L564.9,621.0 L581.9,621.0 L583.8,621.5 L585.7,622.7 L586.7,623.4 L587.6,624.1 L589.5,625.3 L591.4,625.8 L600.2,625.8 L602.1,625.3 L604.0,624.1 L605.0,623.4 L605.9,622.7 L607.8,621.5 L609.7,621.0 L626.7,621.0 L628.6,621.5 L630.5,622.7 L631.5,623.4 L632.4,624.1 L634.3,625.3 L636.2,625.8 L645.0,625.8 L646.9,625.3 L648.8,624.1 L649.8,623.4 L650.7,622.7 L652.6,621.5 L654.5,621.0 L671.5,621.0 L673.4,621.5 L675.3,622.7 L676.3,623.4 L677.2,624.1 L679.1,625.3 L681.0,625.8 L689.8,625.8 L691.7,625.3 L693.6,624.1 L694.6,623.4 L695.5,622.7 L697.4,621.5 L699.3,621.0 L716.3,621.0 L718.2,621.5 L720.1,622.7 L721.1,623.4 L722.0,624.1 L723.9,625.3 L725.8,625.8 L734.6,625.8 L736.5,625.3 L738.4,624.1 L739.4,623.4 L740.3,622.7 L742.2,621.5 L744.1,621.0 L761.1,621.0 L763.0,621.5 L764.9,622.7 L765.9,623.4 L766.8,624.1 L768.7,625.3 L770.6,625.8 L779.4,625.8 L781.3,625.3 L783.2,624.1 L784.2,623.4 L785.1,622.7 L787.0,621.5 L788.9,621.0 L805.9,621.0 L807.8,621.5 L809.7,622.7 L810.7,623.4 L811.6,624.1 L813.5,625.3 L815.4,625.8 L824.2,625.8 L825.0,625.7" fill="none" stroke="#5f7688" stroke-width=".6" opacity="0.4" transform="translate(0,3.4)"/><path d="M455.0,665.8 L468.7,665.8 L470.6,666.3 L472.5,667.5 L473.5,668.2 L474.4,668.9 L476.3,670.1 L478.2,670.6 L487.0,670.6 L488.9,670.1 L490.8,668.9 L491.8,668.2 L492.7,667.5 L494.6,666.3 L496.5,665.8 L513.5,665.8 L515.4,666.3 L517.3,667.5 L518.3,668.2 L519.2,668.9 L521.1,670.1 L523.0,670.6 L531.8,670.6 L533.7,670.1 L535.6,668.9 L536.6,668.2 L537.5,667.5 L539.4,666.3 L541.3,665.8 L558.3,665.8 L560.2,666.3 L562.1,667.5 L563.1,668.2 L564.0,668.9 L565.9,670.1 L567.8,670.6 L576.6,670.6 L578.5,670.1 L580.4,668.9 L581.4,668.2 L582.3,667.5 L584.2,666.3 L586.1,665.8 L603.1,665.8 L605.0,666.3 L606.9,667.5 L607.9,668.2 L608.8,668.9 L610.7,670.1 L612.6,670.6 L621.4,670.6 L623.3,670.1 L625.2,668.9 L626.2,668.2 L627.1,667.5 L629.0,666.3 L630.9,665.8 L647.9,665.8 L649.8,666.3 L651.7,667.5 L652.7,668.2 L653.6,668.9 L655.5,670.1 L657.4,670.6 L666.2,670.6 L668.1,670.1 L670.0,668.9 L671.0,668.2 L671.9,667.5 L673.8,666.3 L675.7,665.8 L692.7,665.8 L694.6,666.3 L696.5,667.5 L697.5,668.2 L698.4,668.9 L700.3,670.1 L702.2,670.6 L711.0,670.6 L712.9,670.1 L714.8,668.9 L715.8,668.2 L716.7,667.5 L718.6,666.3 L720.5,665.8 L737.5,665.8 L739.4,666.3 L741.3,667.5 L742.3,668.2 L743.2,668.9 L745.1,670.1 L747.0,670.6 L755.8,670.6 L757.7,670.1 L759.6,668.9 L760.6,668.2 L761.5,667.5 L763.4,666.3 L765.3,665.8 L782.3,665.8 L784.2,666.3 L786.1,667.5 L787.1,668.2 L788.0,668.9 L789.9,670.1 L791.8,670.6 L800.6,670.6 L802.5,670.1 L804.4,668.9 L805.4,668.2 L806.3,667.5 L808.2,666.3 L810.1,665.8 L825.0,665.8" fill="none" stroke="#090e14" stroke-width="1.6" opacity="0.85" transform="translate(0,.6)"/><path d="M455.0,665.8 L468.7,665.8 L470.6,666.3 L472.5,667.5 L473.5,668.2 L474.4,668.9 L476.3,670.1 L478.2,670.6 L487.0,670.6 L488.9,670.1 L490.8,668.9 L491.8,668.2 L492.7,667.5 L494.6,666.3 L496.5,665.8 L513.5,665.8 L515.4,666.3 L517.3,667.5 L518.3,668.2 L519.2,668.9 L521.1,670.1 L523.0,670.6 L531.8,670.6 L533.7,670.1 L535.6,668.9 L536.6,668.2 L537.5,667.5 L539.4,666.3 L541.3,665.8 L558.3,665.8 L560.2,666.3 L562.1,667.5 L563.1,668.2 L564.0,668.9 L565.9,670.1 L567.8,670.6 L576.6,670.6 L578.5,670.1 L580.4,668.9 L581.4,668.2 L582.3,667.5 L584.2,666.3 L586.1,665.8 L603.1,665.8 L605.0,666.3 L606.9,667.5 L607.9,668.2 L608.8,668.9 L610.7,670.1 L612.6,670.6 L621.4,670.6 L623.3,670.1 L625.2,668.9 L626.2,668.2 L627.1,667.5 L629.0,666.3 L630.9,665.8 L647.9,665.8 L649.8,666.3 L651.7,667.5 L652.7,668.2 L653.6,668.9 L655.5,670.1 L657.4,670.6 L666.2,670.6 L668.1,670.1 L670.0,668.9 L671.0,668.2 L671.9,667.5 L673.8,666.3 L675.7,665.8 L692.7,665.8 L694.6,666.3 L696.5,667.5 L697.5,668.2 L698.4,668.9 L700.3,670.1 L702.2,670.6 L711.0,670.6 L712.9,670.1 L714.8,668.9 L715.8,668.2 L716.7,667.5 L718.6,666.3 L720.5,665.8 L737.5,665.8 L739.4,666.3 L741.3,667.5 L742.3,668.2 L743.2,668.9 L745.1,670.1 L747.0,670.6 L755.8,670.6 L757.7,670.1 L759.6,668.9 L760.6,668.2 L761.5,667.5 L763.4,666.3 L765.3,665.8 L782.3,665.8 L784.2,666.3 L786.1,667.5 L787.1,668.2 L788.0,668.9 L789.9,670.1 L791.8,670.6 L800.6,670.6 L802.5,670.1 L804.4,668.9 L805.4,668.2 L806.3,667.5 L808.2,666.3 L810.1,665.8 L825.0,665.8" fill="none" stroke="#5f7688" stroke-width=".6" opacity="0.4" transform="translate(0,3.4)"/><path d="M455.0,716.7 L455.3,716.7 L464.1,716.7 L466.0,716.2 L467.9,715.0 L468.8,714.3 L469.8,713.6 L471.7,712.4 L473.6,711.9 L490.6,711.9 L492.5,712.4 L494.4,713.6 L495.3,714.3 L496.3,715.0 L498.2,716.2 L500.1,716.7 L508.9,716.7 L510.8,716.2 L512.7,715.0 L513.6,714.3 L514.6,713.6 L516.5,712.4 L518.4,711.9 L535.4,711.9 L537.3,712.4 L539.2,713.6 L540.1,714.3 L541.1,715.0 L543.0,716.2 L544.9,716.7 L553.7,716.7 L555.6,716.2 L557.5,715.0 L558.4,714.3 L559.4,713.6 L561.3,712.4 L563.2,711.9 L580.2,711.9 L582.1,712.4 L584.0,713.6 L584.9,714.3 L585.9,715.0 L587.8,716.2 L589.7,716.7 L598.5,716.7 L600.4,716.2 L602.3,715.0 L603.2,714.3 L604.2,713.6 L606.1,712.4 L608.0,711.9 L625.0,711.9 L626.9,712.4 L628.8,713.6 L629.7,714.3 L630.7,715.0 L632.6,716.2 L634.5,716.7 L643.3,716.7 L645.2,716.2 L647.1,715.0 L648.0,714.3 L649.0,713.6 L650.9,712.4 L652.8,711.9 L669.8,711.9 L671.7,712.4 L673.6,713.6 L674.5,714.3 L675.5,715.0 L677.4,716.2 L679.3,716.7 L688.1,716.7 L690.0,716.2 L691.9,715.0 L692.8,714.3 L693.8,713.6 L695.7,712.4 L697.6,711.9 L714.6,711.9 L716.5,712.4 L718.4,713.6 L719.3,714.3 L720.3,715.0 L722.2,716.2 L724.1,716.7 L732.9,716.7 L734.8,716.2 L736.7,715.0 L737.6,714.3 L738.6,713.6 L740.5,712.4 L742.4,711.9 L759.4,711.9 L761.3,712.4 L763.2,713.6 L764.1,714.3 L765.1,715.0 L767.0,716.2 L768.9,716.7 L777.7,716.7 L779.6,716.2 L781.5,715.0 L782.4,714.3 L783.4,713.6 L785.3,712.4 L787.2,711.9 L804.2,711.9 L806.1,712.4 L808.0,713.6 L808.9,714.3 L809.9,715.0 L811.8,716.2 L813.7,716.7 L822.5,716.7 L824.4,716.2 L825.0,715.9" fill="none" stroke="#090e14" stroke-width="1.6" opacity="0.85" transform="translate(0,.6)"/><path d="M455.0,716.7 L455.3,716.7 L464.1,716.7 L466.0,716.2 L467.9,715.0 L468.8,714.3 L469.8,713.6 L471.7,712.4 L473.6,711.9 L490.6,711.9 L492.5,712.4 L494.4,713.6 L495.3,714.3 L496.3,715.0 L498.2,716.2 L500.1,716.7 L508.9,716.7 L510.8,716.2 L512.7,715.0 L513.6,714.3 L514.6,713.6 L516.5,712.4 L518.4,711.9 L535.4,711.9 L537.3,712.4 L539.2,713.6 L540.1,714.3 L541.1,715.0 L543.0,716.2 L544.9,716.7 L553.7,716.7 L555.6,716.2 L557.5,715.0 L558.4,714.3 L559.4,713.6 L561.3,712.4 L563.2,711.9 L580.2,711.9 L582.1,712.4 L584.0,713.6 L584.9,714.3 L585.9,715.0 L587.8,716.2 L589.7,716.7 L598.5,716.7 L600.4,716.2 L602.3,715.0 L603.2,714.3 L604.2,713.6 L606.1,712.4 L608.0,711.9 L625.0,711.9 L626.9,712.4 L628.8,713.6 L629.7,714.3 L630.7,715.0 L632.6,716.2 L634.5,716.7 L643.3,716.7 L645.2,716.2 L647.1,715.0 L648.0,714.3 L649.0,713.6 L650.9,712.4 L652.8,711.9 L669.8,711.9 L671.7,712.4 L673.6,713.6 L674.5,714.3 L675.5,715.0 L677.4,716.2 L679.3,716.7 L688.1,716.7 L690.0,716.2 L691.9,715.0 L692.8,714.3 L693.8,713.6 L695.7,712.4 L697.6,711.9 L714.6,711.9 L716.5,712.4 L718.4,713.6 L719.3,714.3 L720.3,715.0 L722.2,716.2 L724.1,716.7 L732.9,716.7 L734.8,716.2 L736.7,715.0 L737.6,714.3 L738.6,713.6 L740.5,712.4 L742.4,711.9 L759.4,711.9 L761.3,712.4 L763.2,713.6 L764.1,714.3 L765.1,715.0 L767.0,716.2 L768.9,716.7 L777.7,716.7 L779.6,716.2 L781.5,715.0 L782.4,714.3 L783.4,713.6 L785.3,712.4 L787.2,711.9 L804.2,711.9 L806.1,712.4 L808.0,713.6 L808.9,714.3 L809.9,715.0 L811.8,716.2 L813.7,716.7 L822.5,716.7 L824.4,716.2 L825.0,715.9" fill="none" stroke="#5f7688" stroke-width=".6" opacity="0.4" transform="translate(0,3.4)"/><path d="M455.0,758.2 L467.7,758.2 L469.6,758.7 L471.5,759.9 L472.5,760.6 L473.4,761.3 L475.3,762.5 L477.2,763.0 L486.0,763.0 L487.9,762.5 L489.8,761.3 L490.8,760.6 L491.7,759.9 L493.6,758.7 L495.5,758.2 L512.5,758.2 L514.4,758.7 L516.3,759.9 L517.3,760.6 L518.2,761.3 L520.1,762.5 L522.0,763.0 L530.8,763.0 L532.7,762.5 L534.6,761.3 L535.6,760.6 L536.5,759.9 L538.4,758.7 L540.3,758.2 L557.3,758.2 L559.2,758.7 L561.1,759.9 L562.1,760.6 L563.0,761.3 L564.9,762.5 L566.8,763.0 L575.6,763.0 L577.5,762.5 L579.4,761.3 L580.4,760.6 L581.3,759.9 L583.2,758.7 L585.1,758.2 L602.1,758.2 L604.0,758.7 L605.9,759.9 L606.9,760.6 L607.8,761.3 L609.7,762.5 L611.6,763.0 L620.4,763.0 L622.3,762.5 L624.2,761.3 L625.2,760.6 L626.1,759.9 L628.0,758.7 L629.9,758.2 L646.9,758.2 L648.8,758.7 L650.7,759.9 L651.7,760.6 L652.6,761.3 L654.5,762.5 L656.4,763.0 L665.2,763.0 L667.1,762.5 L669.0,761.3 L670.0,760.6 L670.9,759.9 L672.8,758.7 L674.7,758.2 L691.7,758.2 L693.6,758.7 L695.5,759.9 L696.5,760.6 L697.4,761.3 L699.3,762.5 L701.2,763.0 L710.0,763.0 L711.9,762.5 L713.8,761.3 L714.8,760.6 L715.7,759.9 L717.6,758.7 L719.5,758.2 L736.5,758.2 L738.4,758.7 L740.3,759.9 L741.3,760.6 L742.2,761.3 L744.1,762.5 L746.0,763.0 L754.8,763.0 L756.7,762.5 L758.6,761.3 L759.6,760.6 L760.5,759.9 L762.4,758.7 L764.3,758.2 L781.3,758.2 L783.2,758.7 L785.1,759.9 L786.1,760.6 L787.0,761.3 L788.9,762.5 L790.8,763.0 L799.6,763.0 L801.5,762.5 L803.4,761.3 L804.4,760.6 L805.3,759.9 L807.2,758.7 L809.1,758.2 L825.0,758.2" fill="none" stroke="#090e14" stroke-width="1.6" opacity="0.85" transform="translate(0,.6)"/><path d="M455.0,758.2 L467.7,758.2 L469.6,758.7 L471.5,759.9 L472.5,760.6 L473.4,761.3 L475.3,762.5 L477.2,763.0 L486.0,763.0 L487.9,762.5 L489.8,761.3 L490.8,760.6 L491.7,759.9 L493.6,758.7 L495.5,758.2 L512.5,758.2 L514.4,758.7 L516.3,759.9 L517.3,760.6 L518.2,761.3 L520.1,762.5 L522.0,763.0 L530.8,763.0 L532.7,762.5 L534.6,761.3 L535.6,760.6 L536.5,759.9 L538.4,758.7 L540.3,758.2 L557.3,758.2 L559.2,758.7 L561.1,759.9 L562.1,760.6 L563.0,761.3 L564.9,762.5 L566.8,763.0 L575.6,763.0 L577.5,762.5 L579.4,761.3 L580.4,760.6 L581.3,759.9 L583.2,758.7 L585.1,758.2 L602.1,758.2 L604.0,758.7 L605.9,759.9 L606.9,760.6 L607.8,761.3 L609.7,762.5 L611.6,763.0 L620.4,763.0 L622.3,762.5 L624.2,761.3 L625.2,760.6 L626.1,759.9 L628.0,758.7 L629.9,758.2 L646.9,758.2 L648.8,758.7 L650.7,759.9 L651.7,760.6 L652.6,761.3 L654.5,762.5 L656.4,763.0 L665.2,763.0 L667.1,762.5 L669.0,761.3 L670.0,760.6 L670.9,759.9 L672.8,758.7 L674.7,758.2 L691.7,758.2 L693.6,758.7 L695.5,759.9 L696.5,760.6 L697.4,761.3 L699.3,762.5 L701.2,763.0 L710.0,763.0 L711.9,762.5 L713.8,761.3 L714.8,760.6 L715.7,759.9 L717.6,758.7 L719.5,758.2 L736.5,758.2 L738.4,758.7 L740.3,759.9 L741.3,760.6 L742.2,761.3 L744.1,762.5 L746.0,763.0 L754.8,763.0 L756.7,762.5 L758.6,761.3 L759.6,760.6 L760.5,759.9 L762.4,758.7 L764.3,758.2 L781.3,758.2 L783.2,758.7 L785.1,759.9 L786.1,760.6 L787.0,761.3 L788.9,762.5 L790.8,763.0 L799.6,763.0 L801.5,762.5 L803.4,761.3 L804.4,760.6 L805.3,759.9 L807.2,758.7 L809.1,758.2 L825.0,758.2" fill="none" stroke="#5f7688" stroke-width=".6" opacity="0.4" transform="translate(0,3.4)"/><path d="M455.0,807.6 L462.3,807.6 L464.2,807.1 L466.1,805.9 L467.1,805.2 L468.0,804.5 L469.9,803.3 L471.8,802.8 L488.8,802.8 L490.7,803.3 L492.6,804.5 L493.6,805.2 L494.5,805.9 L496.4,807.1 L498.3,807.6 L507.1,807.6 L509.0,807.1 L510.9,805.9 L511.9,805.2 L512.8,804.5 L514.7,803.3 L516.6,802.8 L533.6,802.8 L535.5,803.3 L537.4,804.5 L538.4,805.2 L539.3,805.9 L541.2,807.1 L543.1,807.6 L551.9,807.6 L553.8,807.1 L555.7,805.9 L556.7,805.2 L557.6,804.5 L559.5,803.3 L561.4,802.8 L578.4,802.8 L580.3,803.3 L582.2,804.5 L583.2,805.2 L584.1,805.9 L586.0,807.1 L587.9,807.6 L596.7,807.6 L598.6,807.1 L600.5,805.9 L601.5,805.2 L602.4,804.5 L604.3,803.3 L606.2,802.8 L623.2,802.8 L625.1,803.3 L627.0,804.5 L628.0,805.2 L628.9,805.9 L630.8,807.1 L632.7,807.6 L641.5,807.6 L643.4,807.1 L645.3,805.9 L646.3,805.2 L647.2,804.5 L649.1,803.3 L651.0,802.8 L668.0,802.8 L669.9,803.3 L671.8,804.5 L672.8,805.2 L673.7,805.9 L675.6,807.1 L677.5,807.6 L686.3,807.6 L688.2,807.1 L690.1,805.9 L691.1,805.2 L692.0,804.5 L693.9,803.3 L695.8,802.8 L712.8,802.8 L714.7,803.3 L716.6,804.5 L717.6,805.2 L718.5,805.9 L720.4,807.1 L722.3,807.6 L731.1,807.6 L733.0,807.1 L734.9,805.9 L735.9,805.2 L736.8,804.5 L738.7,803.3 L740.6,802.8 L757.6,802.8 L759.5,803.3 L761.4,804.5 L762.4,805.2 L763.3,805.9 L765.2,807.1 L767.1,807.6 L775.9,807.6 L777.8,807.1 L779.7,805.9 L780.7,805.2 L781.6,804.5 L783.5,803.3 L785.4,802.8 L802.4,802.8 L804.3,803.3 L806.2,804.5 L807.2,805.2 L808.1,805.9 L810.0,807.1 L811.9,807.6 L820.7,807.6 L822.6,807.1 L824.5,805.9 L825.0,805.6" fill="none" stroke="#090e14" stroke-width="1.6" opacity="0.85" transform="translate(0,.6)"/><path d="M455.0,807.6 L462.3,807.6 L464.2,807.1 L466.1,805.9 L467.1,805.2 L468.0,804.5 L469.9,803.3 L471.8,802.8 L488.8,802.8 L490.7,803.3 L492.6,804.5 L493.6,805.2 L494.5,805.9 L496.4,807.1 L498.3,807.6 L507.1,807.6 L509.0,807.1 L510.9,805.9 L511.9,805.2 L512.8,804.5 L514.7,803.3 L516.6,802.8 L533.6,802.8 L535.5,803.3 L537.4,804.5 L538.4,805.2 L539.3,805.9 L541.2,807.1 L543.1,807.6 L551.9,807.6 L553.8,807.1 L555.7,805.9 L556.7,805.2 L557.6,804.5 L559.5,803.3 L561.4,802.8 L578.4,802.8 L580.3,803.3 L582.2,804.5 L583.2,805.2 L584.1,805.9 L586.0,807.1 L587.9,807.6 L596.7,807.6 L598.6,807.1 L600.5,805.9 L601.5,805.2 L602.4,804.5 L604.3,803.3 L606.2,802.8 L623.2,802.8 L625.1,803.3 L627.0,804.5 L628.0,805.2 L628.9,805.9 L630.8,807.1 L632.7,807.6 L641.5,807.6 L643.4,807.1 L645.3,805.9 L646.3,805.2 L647.2,804.5 L649.1,803.3 L651.0,802.8 L668.0,802.8 L669.9,803.3 L671.8,804.5 L672.8,805.2 L673.7,805.9 L675.6,807.1 L677.5,807.6 L686.3,807.6 L688.2,807.1 L690.1,805.9 L691.1,805.2 L692.0,804.5 L693.9,803.3 L695.8,802.8 L712.8,802.8 L714.7,803.3 L716.6,804.5 L717.6,805.2 L718.5,805.9 L720.4,807.1 L722.3,807.6 L731.1,807.6 L733.0,807.1 L734.9,805.9 L735.9,805.2 L736.8,804.5 L738.7,803.3 L740.6,802.8 L757.6,802.8 L759.5,803.3 L761.4,804.5 L762.4,805.2 L763.3,805.9 L765.2,807.1 L767.1,807.6 L775.9,807.6 L777.8,807.1 L779.7,805.9 L780.7,805.2 L781.6,804.5 L783.5,803.3 L785.4,802.8 L802.4,802.8 L804.3,803.3 L806.2,804.5 L807.2,805.2 L808.1,805.9 L810.0,807.1 L811.9,807.6 L820.7,807.6 L822.6,807.1 L824.5,805.9 L825.0,805.6" fill="none" stroke="#5f7688" stroke-width=".6" opacity="0.4" transform="translate(0,3.4)"/><rect x="455" y="430" width="370" height="426" filter="url(#grain)" opacity="0.26"/></g><path d="M619.0,433.5 L627.2,433.5 L824.5,852 L816.3,852Z" fill="#141b23" opacity=".92"/><path d="M613.0,435.5 L619.0,435.5 L816.3,852 L810.3,852Z" fill="#10171e" opacity=".45"/><path d="M621.8,439.3 L812.6,842" stroke="#f3eef2" stroke-width="2.1" stroke-dasharray="4.2 2.6" fill="none"/><path d="M598.9,813.1 H797.7" stroke="#f3e6ee" stroke-width="2.6" stroke-dasharray="4 2.4" fill="none"/><path d="M469.1,450.4 L599.9,538.9 L558,632.1 L686.8,723.1 L642.4,813.1" stroke="#f4f4f4" stroke-width="1.15" stroke-dasharray="1.6 1.1" fill="none"/><circle cx="469.1" cy="450.4" r="3.0" fill="#c8202b"/><circle cx="468.5" cy="449.7" r="1.35" fill="#e8505a" opacity=".7"/><circle cx="599.9" cy="538.9" r="3.0" fill="#c8202b"/><circle cx="599.3" cy="538.1999999999999" r="1.35" fill="#e8505a" opacity=".7"/><circle cx="558" cy="632.1" r="3.0" fill="#c8202b"/><circle cx="557.4" cy="631.4" r="1.35" fill="#e8505a" opacity=".7"/><circle cx="686.8" cy="723.1" r="3.0" fill="#c8202b"/><circle cx="686.1999999999999" cy="722.4" r="1.35" fill="#e8505a" opacity=".7"/><circle cx="598.9" cy="813.1" r="2.7" fill="#c8202b"/><circle cx="598.3" cy="812.4" r="1.22" fill="#e8505a" opacity=".7"/><circle cx="642.4" cy="813.1" r="2.7" fill="#c8202b"/><circle cx="641.8" cy="812.4" r="1.22" fill="#e8505a" opacity=".7"/><circle cx="682.2" cy="812.6" r="2.7" fill="#c8202b"/><circle cx="681.6" cy="811.9" r="1.22" fill="#e8505a" opacity=".7"/><circle cx="730.9" cy="813.1" r="2.7" fill="#c8202b"/><circle cx="730.3" cy="812.4" r="1.22" fill="#e8505a" opacity=".7"/><circle cx="775" cy="813.1" r="2.7" fill="#c8202b"/><circle cx="774.4" cy="812.4" r="1.22" fill="#e8505a" opacity=".7"/><circle cx="620.7" cy="439.3" r="2.1" fill="#c8202b"/><circle cx="620.1" cy="438.6" r="0.95" fill="#e8505a" opacity=".7"/><circle cx="642.4" cy="485.8" r="2.1" fill="#c8202b"/><circle cx="641.8" cy="485.1" r="0.95" fill="#e8505a" opacity=".7"/><circle cx="664.1" cy="532.4" r="2.1" fill="#c8202b"/><circle cx="663.5" cy="531.6999999999999" r="0.95" fill="#e8505a" opacity=".7"/><circle cx="686.5" cy="578.4" r="2.1" fill="#c8202b"/><circle cx="685.9" cy="577.6999999999999" r="0.95" fill="#e8505a" opacity=".7"/><circle cx="708.2" cy="622.5" r="2.1" fill="#c8202b"/><circle cx="707.6" cy="621.8" r="0.95" fill="#e8505a" opacity=".7"/><circle cx="794.6" cy="805.4" r="1.7" fill="#b02030" opacity=".85"/><circle cx="816.3" cy="850.6" r="1.7" fill="#b02030" opacity=".85"/><circle cx="793" cy="801.6" r="29" fill="none" stroke="#fff" stroke-width="2.6"/><circle cx="792.4" cy="677.6" r="88" fill="#000" opacity=".3" filter="url(#blur3)"/><circle cx="792.4" cy="676.8" r="86.9" fill="#fff"/><g clip-path="url(#cp4mag)"><g transform="translate(792.4,676.8) scale(1.0000) translate(-792.4,-676.8)"><rect x="700" y="585" width="190" height="190" fill="url(#magbg)"/><path d="M731,620 C738,610 752,603 778.1,596 C795,592.5 808,592.5 820,595.5 C814,601.5 802,603.5 793.7,605 C780,607.5 768,612 758.6,616.5 C750,620.5 741,624 731,620Z" fill="#45474b" filter="url(#blur1)"/><path d="M824,603 C830,600.5 842,606 848,618.5 C840,621 828,613 824,603Z" fill="#505256" filter="url(#blur1)"/><path d="M762,704 C772,702 782,706 788,716 C794,730 800,742 816,746 C830,749 850,746 866,734 L856,756 C826,776 790,770 772,752 C762,740 762,720 762,704Z" fill="#8c8e94" opacity=".7" filter="url(#blur1)"/><path d="M704,695 C712,690 722,683 732,678.5 C740,675.3 752,675.6 776.2,676.2 C781,676.4 784,680.7 787.9,688.5 C791,695.5 794,700 801,701.8 C812,703.6 828,704.4 840.6,704 C852,703 864,696 880,684 L882,714 C872,722 862,728 850,731 C836,733.2 820,732.5 808,729.6 C799,726.5 796.5,718.5 792.5,710.5 C789,703.5 783,701.5 774.2,700.8 C762,700.6 748,700.4 739.1,701.2 C728,703.5 718,710 704,718Z" fill="#484a4e"/><path d="M706,716 C718,709 728,703 739,700.2 C748,699.4 762,699.6 774,699.8 C783,700.2 789.5,702.5 793.2,709.8 C797,718 799.5,726 808.4,728.8 C820,731.6 836,732.2 850,730" fill="none" stroke="#7c7e82" stroke-width="1.1" opacity=".8"/><path d="M862,633.5 L778.2,676.5 V701" fill="none" stroke="#4d4f53" stroke-width=".7"/><path d="M778.2,702 L730.3,732.5" fill="none" stroke="#5d5f63" stroke-width=".7"/><ellipse cx="759" cy="691.2" rx="5.6" ry="6" fill="#a3151c"/><ellipse cx="758" cy="689.5" rx="2.8" ry="2.4" fill="#c8283a" opacity=".7"/><path d="M802,739 C802,734 806,732 808.5,735 C811,732 816,734 815.5,739 C812,743 805,743.5 802,739Z" fill="#b2171e"/><ellipse cx="808.6" cy="734" rx="3.4" ry="2.4" fill="#98121a"/></g><rect x="700" y="585" width="190" height="190" filter="url(#grain2)" opacity=".2"/></g></g>
<!-- panel 5 -->
<g><g transform="translate(481.2,384.2) scale(0.704,0.694)"><path d="M787.5,80.3 L745.3,191.9 L750.1,193.4 L789.7,89.3Z" fill="#8e8e90" /><path d="M788.5,85.3 L753.8,183.4 L826.5,199.0 L828.5,204.1Z" fill="url(#hGable)" /><path d="M750.2,183.0 L826.0,200.5 L820.5,190.5 L756.0,180.5Z" fill="#68686a" /><line x1="805.0" y1="137.2" x2="785.3" y2="182.0" stroke="#a9a9ab" stroke-width="3.6" /><line x1="806.2" y1="137.6" x2="786.5" y2="182.4" stroke="#8a8a8c" stroke-width="1" opacity=".7"/><path d="M749.9,184.2 L825.8,198.5 L825.8,228.6 L749.9,209.4Z" fill="url(#hWallL)" /><path d="M825.8,206.5 L1015.0,206.5 L1015.0,228.6 L825.8,228.6Z" fill="url(#hWallR)" /><path d="M787.5,80.3 L980.0,80.3 L1021.6,205.0 L829.0,206.1Z" fill="#0d7a3e" /><path d="M787.5,80.3 L980.0,80.3 L1021.6,205.0 L829.0,206.1Z" fill="url(#hGreenSh)"/><path d="M787.5,80.3 L790.7,80.3 L832.6,206.1 L829.0,206.9Z" fill="#a3a3a5" /><line x1="788.7" y1="80.3" x2="830.2" y2="206.1" stroke="#d2d2d4" stroke-width="1.9" /><line x1="827.0" y1="80.3" x2="868.5" y2="206.1" stroke="#d2d2d4" stroke-width="1.9" /><line x1="865.3" y1="80.3" x2="906.8" y2="206.1" stroke="#d2d2d4" stroke-width="1.9" /><line x1="902.5" y1="80.3" x2="944.0" y2="206.1" stroke="#d2d2d4" stroke-width="1.9" /><line x1="939.7" y1="80.3" x2="981.2" y2="206.1" stroke="#d2d2d4" stroke-width="1.9" /><line x1="976.9" y1="80.3" x2="1018.4" y2="206.1" stroke="#d2d2d4" stroke-width="1.9" /><rect x="779.3" y="84.2" width="209.0" height="2.5" fill="#cfcfd1"/><rect x="779.3" y="86.7" width="209.0" height="0.9" fill="#97979a"/><rect x="782.5" y="93.9" width="209.1" height="2.5" fill="#cfcfd1"/><rect x="782.5" y="96.4" width="209.1" height="0.9" fill="#97979a"/><rect x="785.7" y="103.7" width="209.1" height="2.5" fill="#cfcfd1"/><rect x="785.7" y="106.2" width="209.1" height="0.9" fill="#97979a"/><rect x="789.0" y="113.4" width="209.1" height="2.5" fill="#cfcfd1"/><rect x="789.0" y="115.9" width="209.1" height="0.9" fill="#97979a"/><rect x="792.2" y="123.2" width="209.2" height="2.5" fill="#cfcfd1"/><rect x="792.2" y="125.7" width="209.2" height="0.9" fill="#97979a"/><rect x="795.4" y="132.9" width="209.2" height="2.5" fill="#cfcfd1"/><rect x="795.4" y="135.4" width="209.2" height="0.9" fill="#97979a"/><rect x="798.6" y="142.6" width="209.2" height="2.5" fill="#cfcfd1"/><rect x="798.6" y="145.1" width="209.2" height="0.9" fill="#97979a"/><rect x="801.8" y="152.4" width="209.3" height="2.5" fill="#cfcfd1"/><rect x="801.8" y="154.9" width="209.3" height="0.9" fill="#97979a"/><rect x="805.0" y="162.1" width="209.3" height="2.5" fill="#cfcfd1"/><rect x="805.0" y="164.6" width="209.3" height="0.9" fill="#97979a"/><rect x="808.2" y="171.9" width="209.3" height="2.5" fill="#cfcfd1"/><rect x="808.2" y="174.4" width="209.3" height="0.9" fill="#97979a"/><rect x="811.4" y="181.6" width="209.4" height="2.5" fill="#cfcfd1"/><rect x="811.4" y="184.1" width="209.4" height="0.9" fill="#97979a"/><rect x="814.7" y="191.3" width="209.4" height="2.5" fill="#cfcfd1"/><rect x="814.7" y="193.8" width="209.4" height="0.9" fill="#97979a"/><rect x="816.5" y="197.0" width="209.4" height="2.5" fill="#cfcfd1"/><rect x="816.5" y="199.5" width="209.4" height="0.9" fill="#97979a"/><rect x="778.4" y="80.3" width="9" height="2.6" fill="#c4c4c6"/><rect x="775.3" y="88.5" width="9" height="2.6" fill="#c4c4c6"/><rect x="772.2" y="96.7" width="9" height="2.6" fill="#c4c4c6"/><rect x="769.1" y="104.9" width="9" height="2.6" fill="#c4c4c6"/><rect x="766.0" y="113.1" width="9" height="2.6" fill="#c4c4c6"/><rect x="762.9" y="121.3" width="9" height="2.6" fill="#c4c4c6"/><rect x="759.8" y="129.5" width="9" height="2.6" fill="#c4c4c6"/><rect x="756.7" y="137.7" width="9" height="2.6" fill="#c4c4c6"/><rect x="753.6" y="145.9" width="9" height="2.6" fill="#c4c4c6"/><rect x="750.5" y="154.1" width="9" height="2.6" fill="#c4c4c6"/><rect x="747.4" y="162.3" width="9" height="2.6" fill="#c4c4c6"/><rect x="744.3" y="170.5" width="9" height="2.6" fill="#c4c4c6"/><rect x="741.2" y="178.7" width="9" height="2.6" fill="#c4c4c6"/><rect x="868" y="206.6" width="2.2" height="4.6" fill="#b9b9bb"/><rect x="905" y="206.6" width="2.2" height="4.6" fill="#b9b9bb"/><rect x="942" y="206.6" width="2.2" height="4.6" fill="#b9b9bb"/><rect x="978" y="206.6" width="2.2" height="4.6" fill="#b9b9bb"/><rect x="1017" y="206.6" width="2.2" height="4.6" fill="#b9b9bb"/></g><path d="M1036.5,440.2 L1066.7,440.2 L1082.3,484.0 L1050.0,484.4Z" fill="#74757a" /><path d="M1040.7,440.2 L1043.7,440.2 L1057.7,484.4 L1054.4,484.4Z" fill="#94959a" opacity="0.20"/><path d="M1048.2,440.2 L1051.2,440.2 L1065.7,484.4 L1062.5,484.4Z" fill="#94959a" opacity="0.20"/><path d="M1055.8,440.2 L1058.8,440.2 L1073.8,484.4 L1070.6,484.4Z" fill="#94959a" opacity="0.20"/><path d="M1063.3,440.2 L1066.3,440.2 L1081.9,484.4 L1078.7,484.4Z" fill="#94959a" opacity="0.20"/><line x1="1044.0" y1="440.2" x2="1058.1" y2="484.3" stroke="#56575b" stroke-width="0.9" opacity="0.33"/><line x1="1051.6" y1="440.2" x2="1066.2" y2="484.2" stroke="#56575b" stroke-width="0.9" opacity="0.33"/><line x1="1059.2" y1="440.2" x2="1074.2" y2="484.1" stroke="#56575b" stroke-width="0.9" opacity="0.33"/><line x1="1039.9" y1="451.2" x2="1070.6" y2="451.1" stroke="#56575b" stroke-width="1.5" opacity="0.55"/><line x1="1039.9" y1="452.6" x2="1070.6" y2="452.4" stroke="#94959a" stroke-width="0.7" opacity="0.45"/><line x1="1043.2" y1="462.3" x2="1074.5" y2="462.1" stroke="#56575b" stroke-width="1.5" opacity="0.55"/><line x1="1043.2" y1="463.6" x2="1074.5" y2="463.4" stroke="#94959a" stroke-width="0.7" opacity="0.45"/><line x1="1046.6" y1="473.3" x2="1078.4" y2="473.1" stroke="#56575b" stroke-width="1.5" opacity="0.55"/><line x1="1046.6" y1="474.6" x2="1078.4" y2="474.4" stroke="#94959a" stroke-width="0.7" opacity="0.45"/><path d="M1066.7,440.2 L1100.3,440.2 L1117.1,484.0 L1082.3,484.0Z" fill="#707176" /><path d="M1071.3,440.2 L1074.7,440.2 L1090.6,484.0 L1087.1,484.0Z" fill="#94959a" opacity="0.20"/><path d="M1079.7,440.2 L1083.1,440.2 L1099.3,484.0 L1095.8,484.0Z" fill="#94959a" opacity="0.20"/><path d="M1088.1,440.2 L1091.5,440.2 L1108.0,484.0 L1104.5,484.0Z" fill="#94959a" opacity="0.20"/><path d="M1096.5,440.2 L1099.9,440.2 L1116.7,484.0 L1113.2,484.0Z" fill="#94959a" opacity="0.20"/><line x1="1075.1" y1="440.2" x2="1091.0" y2="484.0" stroke="#56575b" stroke-width="0.9" opacity="0.33"/><line x1="1083.5" y1="440.2" x2="1099.7" y2="484.0" stroke="#56575b" stroke-width="0.9" opacity="0.33"/><line x1="1091.9" y1="440.2" x2="1108.4" y2="484.0" stroke="#56575b" stroke-width="0.9" opacity="0.33"/><line x1="1070.6" y1="451.1" x2="1104.5" y2="451.1" stroke="#56575b" stroke-width="1.5" opacity="0.55"/><line x1="1070.6" y1="452.4" x2="1104.5" y2="452.4" stroke="#94959a" stroke-width="0.7" opacity="0.45"/><line x1="1074.5" y1="462.1" x2="1108.7" y2="462.1" stroke="#56575b" stroke-width="1.5" opacity="0.55"/><line x1="1074.5" y1="463.4" x2="1108.7" y2="463.4" stroke="#94959a" stroke-width="0.7" opacity="0.45"/><line x1="1078.4" y1="473.1" x2="1112.9" y2="473.1" stroke="#56575b" stroke-width="1.5" opacity="0.55"/><line x1="1078.4" y1="474.4" x2="1112.9" y2="474.4" stroke="#94959a" stroke-width="0.7" opacity="0.45"/><path d="M1050.7,484.5 L1083.5,484.5 L1097.2,525.8 L1065.8,527.2Z" fill="url(#hTile)" /><path d="M1055.2,484.5 L1058.5,484.5 L1073.3,527.2 L1070.1,527.2Z" fill="#3d4b59" opacity="0.25"/><path d="M1063.4,484.5 L1066.7,484.5 L1081.1,527.2 L1078.0,527.2Z" fill="#3d4b59" opacity="0.25"/><path d="M1071.6,484.5 L1074.9,484.5 L1089.0,527.2 L1085.8,527.2Z" fill="#3d4b59" opacity="0.25"/><path d="M1079.8,484.5 L1083.1,484.5 L1096.8,527.2 L1093.7,527.2Z" fill="#3d4b59" opacity="0.25"/><line x1="1058.9" y1="484.5" x2="1073.7" y2="526.9" stroke="#0e141b" stroke-width="0.9" opacity="0.48"/><line x1="1067.1" y1="484.5" x2="1081.5" y2="526.5" stroke="#0e141b" stroke-width="0.9" opacity="0.48"/><line x1="1075.3" y1="484.5" x2="1089.3" y2="526.1" stroke="#0e141b" stroke-width="0.9" opacity="0.48"/><line x1="1054.5" y1="495.2" x2="1086.9" y2="494.8" stroke="#0e141b" stroke-width="1.5" opacity="0.80"/><line x1="1054.5" y1="496.5" x2="1086.9" y2="496.1" stroke="#3d4b59" stroke-width="0.7" opacity="0.55"/><line x1="1058.2" y1="505.9" x2="1090.3" y2="505.1" stroke="#0e141b" stroke-width="1.5" opacity="0.80"/><line x1="1058.2" y1="507.2" x2="1090.3" y2="506.4" stroke="#3d4b59" stroke-width="0.7" opacity="0.55"/><line x1="1062.0" y1="516.5" x2="1093.8" y2="515.5" stroke="#0e141b" stroke-width="1.5" opacity="0.80"/><line x1="1062.0" y1="517.8" x2="1093.8" y2="516.8" stroke="#3d4b59" stroke-width="0.7" opacity="0.55"/><path d="M1083.5,484.5 L1117.1,484.5 L1131.5,525.8 L1097.2,525.8Z" fill="#74757a" /><path d="M1088.1,484.5 L1091.5,484.5 L1105.3,525.8 L1101.9,525.8Z" fill="#94959a" opacity="0.20"/><path d="M1096.5,484.5 L1099.9,484.5 L1113.9,525.8 L1110.5,525.8Z" fill="#94959a" opacity="0.20"/><path d="M1104.9,484.5 L1108.3,484.5 L1122.5,525.8 L1119.1,525.8Z" fill="#94959a" opacity="0.20"/><path d="M1113.3,484.5 L1116.7,484.5 L1131.1,525.8 L1127.6,525.8Z" fill="#94959a" opacity="0.20"/><line x1="1091.9" y1="484.5" x2="1105.8" y2="525.8" stroke="#56575b" stroke-width="0.9" opacity="0.33"/><line x1="1100.3" y1="484.5" x2="1114.3" y2="525.8" stroke="#56575b" stroke-width="0.9" opacity="0.33"/><line x1="1108.7" y1="484.5" x2="1122.9" y2="525.8" stroke="#56575b" stroke-width="0.9" opacity="0.33"/><line x1="1086.9" y1="494.8" x2="1120.7" y2="494.8" stroke="#56575b" stroke-width="1.5" opacity="0.55"/><line x1="1086.9" y1="496.1" x2="1120.7" y2="496.1" stroke="#94959a" stroke-width="0.7" opacity="0.45"/><line x1="1090.3" y1="505.1" x2="1124.3" y2="505.1" stroke="#56575b" stroke-width="1.5" opacity="0.55"/><line x1="1090.3" y1="506.4" x2="1124.3" y2="506.4" stroke="#94959a" stroke-width="0.7" opacity="0.45"/><line x1="1093.8" y1="515.5" x2="1127.9" y2="515.5" stroke="#56575b" stroke-width="1.5" opacity="0.55"/><line x1="1093.8" y1="516.8" x2="1127.9" y2="516.8" stroke="#94959a" stroke-width="0.7" opacity="0.45"/><path d="M1117.1,484.5 L1149.5,484.5 L1163.9,525.8 L1131.5,525.8Z" fill="#707176" /><path d="M1121.6,484.5 L1124.8,484.5 L1139.2,525.8 L1136.0,525.8Z" fill="#94959a" opacity="0.20"/><path d="M1129.7,484.5 L1132.9,484.5 L1147.3,525.8 L1144.1,525.8Z" fill="#94959a" opacity="0.20"/><path d="M1137.8,484.5 L1141.0,484.5 L1155.4,525.8 L1152.2,525.8Z" fill="#94959a" opacity="0.20"/><path d="M1145.9,484.5 L1149.1,484.5 L1163.5,525.8 L1160.3,525.8Z" fill="#94959a" opacity="0.20"/><line x1="1125.2" y1="484.5" x2="1139.6" y2="525.8" stroke="#56575b" stroke-width="0.9" opacity="0.33"/><line x1="1133.3" y1="484.5" x2="1147.7" y2="525.8" stroke="#56575b" stroke-width="0.9" opacity="0.33"/><line x1="1141.4" y1="484.5" x2="1155.8" y2="525.8" stroke="#56575b" stroke-width="0.9" opacity="0.33"/><line x1="1120.7" y1="494.8" x2="1153.1" y2="494.8" stroke="#56575b" stroke-width="1.5" opacity="0.55"/><line x1="1120.7" y1="496.1" x2="1153.1" y2="496.1" stroke="#94959a" stroke-width="0.7" opacity="0.45"/><line x1="1124.3" y1="505.1" x2="1156.7" y2="505.1" stroke="#56575b" stroke-width="1.5" opacity="0.55"/><line x1="1124.3" y1="506.4" x2="1156.7" y2="506.4" stroke="#94959a" stroke-width="0.7" opacity="0.45"/><line x1="1127.9" y1="515.5" x2="1160.3" y2="515.5" stroke="#56575b" stroke-width="1.5" opacity="0.55"/><line x1="1127.9" y1="516.8" x2="1160.3" y2="516.8" stroke="#94959a" stroke-width="0.7" opacity="0.45"/><line x1="1066.7" y1="440.2" x2="1082.3" y2="484.0" stroke="#5a5b5f" stroke-width="0.8" /><line x1="1083.5" y1="484.5" x2="1097.2" y2="525.8" stroke="#5a5b5f" stroke-width="0.8" /><line x1="1117.1" y1="484.5" x2="1131.5" y2="525.8" stroke="#5a5b5f" stroke-width="0.8" /><circle cx="1058.4" cy="464.2" r="7.5" fill="#000" opacity=".3" filter="url(#blur1)"/><circle cx="1057.9" cy="463.4" r="7.1" fill="url(#nball)"/><text x="1057.9" y="466.8" text-anchor="middle" font-family="Liberation Sans, sans-serif" font-weight="700" font-size="9.5" fill="#ececec" stroke="#4e4e50" stroke-width="1.5" paint-order="stroke" stroke-linejoin="round">3</text><circle cx="1096.0" cy="462.3" r="7.5" fill="#000" opacity=".3" filter="url(#blur1)"/><circle cx="1095.5" cy="461.5" r="7.1" fill="url(#nball)"/><text x="1095.5" y="464.9" text-anchor="middle" font-family="Liberation Sans, sans-serif" font-weight="700" font-size="9.5" fill="#ececec" stroke="#4e4e50" stroke-width="1.5" paint-order="stroke" stroke-linejoin="round">5</text><circle cx="1077.6" cy="510.3" r="7.5" fill="#000" opacity=".3" filter="url(#blur1)"/><circle cx="1077.1" cy="509.5" r="7.1" fill="url(#nball)"/><text x="1077.1" y="512.9" text-anchor="middle" font-family="Liberation Sans, sans-serif" font-weight="700" font-size="9.5" fill="#ececec" stroke="#4e4e50" stroke-width="1.5" paint-order="stroke" stroke-linejoin="round">1</text><circle cx="1110.4" cy="509.8" r="7.5" fill="#000" opacity=".3" filter="url(#blur1)"/><circle cx="1109.9" cy="509.0" r="7.1" fill="url(#nball)"/><text x="1109.9" y="512.4" text-anchor="middle" font-family="Liberation Sans, sans-serif" font-weight="700" font-size="9.5" fill="#ececec" stroke="#4e4e50" stroke-width="1.5" paint-order="stroke" stroke-linejoin="round">2</text><circle cx="1145.7" cy="510.3" r="7.5" fill="#000" opacity=".3" filter="url(#blur1)"/><circle cx="1145.2" cy="509.5" r="7.1" fill="url(#nball)"/><text x="1145.2" y="512.9" text-anchor="middle" font-family="Liberation Sans, sans-serif" font-weight="700" font-size="9.5" fill="#ececec" stroke="#4e4e50" stroke-width="1.5" paint-order="stroke" stroke-linejoin="round">4</text><circle cx="961.7" cy="537.3" r="46.5" fill="url(#p5mag)"/><g clip-path="url(#cp5mag)"><path d="M912,485 L952,485 L960,536 C955,538 950,541 944,543 C936,546 930,540 924,536 C920,534 916,535 912,536Z" fill="url(#p5t1)"/><path d="M912,537 C916,536 920,535 924,537.5 C930,541.5 936,547.5 944,544.5 C950,542.5 955,539.5 960,537.5" fill="none" stroke="#7a7a7c" stroke-width="1.6"/><path d="M943,488 L969,488 L980,537 L958.5,537Z" fill="#d2d2d4"/><line x1="943.5" y1="488.0" x2="958.8" y2="537.0" stroke="#8e8e90" stroke-width="0.5" /><line x1="953.0" y1="488.0" x2="967.0" y2="537.0" stroke="#8e8e90" stroke-width="0.5" /><line x1="961.0" y1="488.0" x2="973.8" y2="537.0" stroke="#8e8e90" stroke-width="0.5" /><line x1="968.5" y1="488.0" x2="980.3" y2="537.0" stroke="#8e8e90" stroke-width="0.5" /><path d="M970,499 C975,495 981,494 986,497 L1010,515 L1010,560 L993,572 C985,573 975,573 969,572 L958,538 L980,536Z" fill="url(#p5t2)"/><path d="M958.5,537.5 L980,536" stroke="#bfbfc1" stroke-width="1.4" fill="none"/><path d="M968,572 C973,569 978,573 983,571 C988,569 992,572 996,569" stroke="#5f5f62" stroke-width="1.5" fill="none"/><line x1="964.0" y1="546.0" x2="971.0" y2="570.0" stroke="#9a9a9c" stroke-width="0.5" /><line x1="972.0" y1="546.0" x2="979.0" y2="570.0" stroke="#9a9a9c" stroke-width="0.5" /><line x1="980.0" y1="546.0" x2="987.0" y2="570.0" stroke="#9a9a9c" stroke-width="0.5" /><path d="M971.6,540.2 L979.2,550.4 L976,550.4 L976,558.4 L968.4,558.4 L968.4,550.4 L965.2,550.4Z" fill="url(#p5arr)" stroke="#f3e2e0" stroke-width=".6"/></g><circle cx="961.7" cy="537.3" r="46" fill="none" stroke="#bdbdbf" stroke-width="1" opacity=".7"/><circle cx="945.0" cy="522.6999999999999" r="11.3" fill="#000" opacity=".3" filter="url(#blur1)"/><circle cx="944.5" cy="521.9" r="10.9" fill="url(#nball)"/><text x="944.5" y="527.1" text-anchor="middle" font-family="Liberation Sans, sans-serif" font-weight="700" font-size="14.5" fill="#ececec" stroke="#4e4e50" stroke-width="1.5" paint-order="stroke" stroke-linejoin="round">1</text><circle cx="996.4" cy="542.0999999999999" r="11.9" fill="#000" opacity=".3" filter="url(#blur1)"/><circle cx="995.9" cy="541.3" r="11.5" fill="url(#nball)"/><text x="995.9" y="546.5" text-anchor="middle" font-family="Liberation Sans, sans-serif" font-weight="700" font-size="14.5" fill="#ececec" stroke="#4e4e50" stroke-width="1.5" paint-order="stroke" stroke-linejoin="round">2</text></g>
<!-- panel 6 -->
<g><circle cx="954.6" cy="837.8" r="22.8" fill="url(#capG)"/><circle cx="954.6" cy="837.8" r="21.6" fill="none" stroke="#ee7a5c" stroke-width=".8" opacity=".7"/><path d="M940.5,830 L954,822.6 L968.4,829.5 L969.5,845 L955.6,852.8 L941.2,846Z" fill="#d2402a" stroke="#b33120" stroke-width=".9"/><path d="M941,829.8 L954,822.8 L968.2,829.6" fill="none" stroke="#f08a6c" stroke-width=".9" opacity=".8"/><circle cx="955" cy="837.6" r="8.4" fill="#d9472f" stroke="#b7331f" stroke-width=".9"/><circle cx="955" cy="837.6" r="5.6" fill="none" stroke="#b7331f" stroke-width=".8"/><path d="M953,834.2 V841 M957,834.2 V841" stroke="#b7331f" stroke-width=".9"/><circle cx="1137.4" cy="774.6" r="85" fill="#000" opacity=".28" filter="url(#blur3)"/><circle cx="1137" cy="773.6" r="84.3" fill="#fff"/><g clip-path="url(#cp6mag)"><g transform="translate(1136.9,771.5) scale(0.9784) translate(-792.4,-676.8)"><rect x="700" y="585" width="190" height="190" fill="url(#magbg)"/><path d="M731,620 C738,610 752,603 778.1,596 C795,592.5 808,592.5 820,595.5 C814,601.5 802,603.5 793.7,605 C780,607.5 768,612 758.6,616.5 C750,620.5 741,624 731,620Z" fill="#45474b" filter="url(#blur1)"/><path d="M824,603 C830,600.5 842,606 848,618.5 C840,621 828,613 824,603Z" fill="#505256" filter="url(#blur1)"/><path d="M762,704 C772,702 782,706 788,716 C794,730 800,742 816,746 C830,749 850,746 866,734 L856,756 C826,776 790,770 772,752 C762,740 762,720 762,704Z" fill="#8c8e94" opacity=".7" filter="url(#blur1)"/><path d="M704,695 C712,690 722,683 732,678.5 C740,675.3 752,675.6 776.2,676.2 C781,676.4 784,680.7 787.9,688.5 C791,695.5 794,700 801,701.8 C812,703.6 828,704.4 840.6,704 C852,703 864,696 880,684 L882,714 C872,722 862,728 850,731 C836,733.2 820,732.5 808,729.6 C799,726.5 796.5,718.5 792.5,710.5 C789,703.5 783,701.5 774.2,700.8 C762,700.6 748,700.4 739.1,701.2 C728,703.5 718,710 704,718Z" fill="#484a4e"/><path d="M706,716 C718,709 728,703 739,700.2 C748,699.4 762,699.6 774,699.8 C783,700.2 789.5,702.5 793.2,709.8 C797,718 799.5,726 808.4,728.8 C820,731.6 836,732.2 850,730" fill="none" stroke="#7c7e82" stroke-width="1.1" opacity=".8"/><path d="M862,633.5 L778.2,676.5 V701" fill="none" stroke="#4d4f53" stroke-width=".7"/><path d="M778.2,702 L730.3,732.5" fill="none" stroke="#5d5f63" stroke-width=".7"/><ellipse cx="759" cy="691.2" rx="5.6" ry="6" fill="#a3151c"/><ellipse cx="758" cy="689.5" rx="2.8" ry="2.4" fill="#c8283a" opacity=".7"/><path d="M802,739 C802,734 806,732 808.5,735 C811,732 816,734 815.5,739 C812,743 805,743.5 802,739Z" fill="#b2171e"/><ellipse cx="808.6" cy="734" rx="3.4" ry="2.4" fill="#98121a"/></g><rect x="1050" y="688" width="176" height="172" filter="url(#grain2)" opacity=".2"/></g><path d="M1029.5,732.9 H1096 Q1103.4,732.9 1103.4,740.5 V780.5" fill="none" stroke="#2a9dd0" stroke-width="1.9"/><path d="M1071.3,849.9 H1148 Q1154.9,849.9 1154.9,843 V836.5" fill="none" stroke="#2a9dd0" stroke-width="1.9"/><g transform="translate(989.2,726.0) rotate(50.5) scale(0.98)"><path d="M10.0,-2.6 L11.0,-2.6 L12.4,-5.1 L14.2,-2.6 L16.0,-2.6 L17.4,-5.1 L19.2,-2.6 L21.0,-2.6 L22.4,-5.1 L24.2,-2.6 L26.0,-2.6 L27.4,-5.1 L29.2,-2.6 L31.0,-2.6 L32.4,-5.1 L34.2,-2.6 L36.0,-2.6 L37.4,-5.1 L39.2,-2.6 L41.0,-2.6 L42.4,-5.1 L44.2,-2.6 L46.0,-2.6 L47.4,-5.1 L49.2,-2.6 L51.0,-2.6 L52.4,-5.1 L54.2,-2.6 L56.0,-2.6 L57.4,-5.1 L59.2,-2.6 L61.0,-2.6 L62.4,-5.1 L64.2,-2.6 L66.0,-2.7 L75.0,-2.2 L80.0,-0.2 L75.0,2.1 L66.0,2.7 L66.0,2.6 L64.4,5.1 L63.0,2.6 L61.0,2.6 L59.4,5.1 L58.0,2.6 L56.0,2.6 L54.4,5.1 L53.0,2.6 L51.0,2.6 L49.4,5.1 L48.0,2.6 L46.0,2.6 L44.4,5.1 L43.0,2.6 L41.0,2.6 L39.4,5.1 L38.0,2.6 L36.0,2.6 L34.4,5.1 L33.0,2.6 L31.0,2.6 L29.4,5.1 L28.0,2.6 L26.0,2.6 L24.4,5.1 L23.0,2.6 L21.0,2.6 L19.4,5.1 L18.0,2.6 L16.0,2.6 L14.4,5.1 L13.0,2.6 L10.0,2.6Z" fill="url(#scrShank)" stroke="#8c9ba6" stroke-width=".35"/><line x1="12.4" y1="-4.9" x2="14.4" y2="4.9" stroke="#7d8e9a" stroke-width="0.6" opacity=".8"/><line x1="17.4" y1="-4.9" x2="19.4" y2="4.9" stroke="#7d8e9a" stroke-width="0.6" opacity=".8"/><line x1="22.4" y1="-4.9" x2="24.4" y2="4.9" stroke="#7d8e9a" stroke-width="0.6" opacity=".8"/><line x1="27.4" y1="-4.9" x2="29.4" y2="4.9" stroke="#7d8e9a" stroke-width="0.6" opacity=".8"/><line x1="32.4" y1="-4.9" x2="34.4" y2="4.9" stroke="#7d8e9a" stroke-width="0.6" opacity=".8"/><line x1="37.4" y1="-4.9" x2="39.4" y2="4.9" stroke="#7d8e9a" stroke-width="0.6" opacity=".8"/><line x1="42.4" y1="-4.9" x2="44.4" y2="4.9" stroke="#7d8e9a" stroke-width="0.6" opacity=".8"/><line x1="47.4" y1="-4.9" x2="49.4" y2="4.9" stroke="#7d8e9a" stroke-width="0.6" opacity=".8"/><line x1="52.4" y1="-4.9" x2="54.4" y2="4.9" stroke="#7d8e9a" stroke-width="0.6" opacity=".8"/><line x1="57.4" y1="-4.9" x2="59.4" y2="4.9" stroke="#7d8e9a" stroke-width="0.6" opacity=".8"/><line x1="62.4" y1="-4.9" x2="64.4" y2="4.9" stroke="#7d8e9a" stroke-width="0.6" opacity=".8"/><path d="M4,-4.4 L12.5,-3 L12.5,3 L4,4.4Z" fill="#b92c1c"/><ellipse cx="9.8" cy="0" rx="1.9" ry="4.2" fill="#d6432d"/><ellipse cx="4.6" cy="0" rx="5.6" ry="21" fill="#6f4330"/><ellipse cx="2.2" cy="0" rx="5.6" ry="21" fill="url(#scrWash)"/><path d="M2.2,-21 A5.6,21 0 0 1 2.2,21 A3.2,21 0 0 0 2.2,-21Z" fill="#7d4a30" opacity=".75"/><ellipse cx="-2.6" cy="0" rx="4.2" ry="15.4" fill="#b8301d"/><ellipse cx="-4.2" cy="0" rx="4.2" ry="15.2" fill="#d8462e"/><path d="M-20.5,-9.5 L-18.5,-12 L-5.5,-13 L-5.5,13 L-18.5,12 L-20.5,9.5Z" fill="url(#scrHead)"/><path d="M-20.5,-3.6 L-5.5,-4.4 M-20.5,4.6 L-5.5,5.4" stroke="#a82819" stroke-width=".6" fill="none" opacity=".8"/><path d="M-20.5,-9.5 L-18.5,-12 L-5.5,-13 L-5.5,-4.4 L-20.5,-3.6Z" fill="#ee7253" opacity=".55"/><path d="M-20.5,4.6 L-5.5,5.4 L-5.5,13 L-18.5,12 L-20.5,9.5Z" fill="#8f1f12" opacity=".35"/></g><g transform="translate(1062.0,817.8) rotate(150.6) scale(1.07)"><path d="M10.0,-2.6 L11.0,-2.6 L12.4,-5.1 L14.2,-2.6 L16.0,-2.6 L17.4,-5.1 L19.2,-2.6 L21.0,-2.6 L22.4,-5.1 L24.2,-2.6 L26.0,-2.6 L27.4,-5.1 L29.2,-2.6 L31.0,-2.6 L32.4,-5.1 L34.2,-2.6 L36.0,-2.6 L37.4,-5.1 L39.2,-2.6 L41.0,-2.6 L42.4,-5.1 L44.2,-2.6 L46.0,-2.6 L47.4,-5.1 L49.2,-2.6 L51.0,-2.6 L52.4,-5.1 L54.2,-2.6 L56.0,-2.6 L57.4,-5.1 L59.2,-2.6 L61.0,-2.6 L62.4,-5.1 L64.2,-2.6 L66.0,-2.6 L67.4,-5.1 L69.2,-2.6 L71.0,-2.6 L72.4,-5.1 L74.2,-2.6 L76.0,-2.6 L77.4,-5.1 L79.2,-2.6 L81.0,-2.6 L82.4,-5.1 L84.2,-2.6 L86.0,-2.6 L87.4,-5.1 L89.2,-2.6 L91.0,-2.7 L100.0,-2.2 L105.0,-0.2 L100.0,2.1 L91.0,2.7 L91.0,2.6 L89.4,5.1 L88.0,2.6 L86.0,2.6 L84.4,5.1 L83.0,2.6 L81.0,2.6 L79.4,5.1 L78.0,2.6 L76.0,2.6 L74.4,5.1 L73.0,2.6 L71.0,2.6 L69.4,5.1 L68.0,2.6 L66.0,2.6 L64.4,5.1 L63.0,2.6 L61.0,2.6 L59.4,5.1 L58.0,2.6 L56.0,2.6 L54.4,5.1 L53.0,2.6 L51.0,2.6 L49.4,5.1 L48.0,2.6 L46.0,2.6 L44.4,5.1 L43.0,2.6 L41.0,2.6 L39.4,5.1 L38.0,2.6 L36.0,2.6 L34.4,5.1 L33.0,2.6 L31.0,2.6 L29.4,5.1 L28.0,2.6 L26.0,2.6 L24.4,5.1 L23.0,2.6 L21.0,2.6 L19.4,5.1 L18.0,2.6 L16.0,2.6 L14.4,5.1 L13.0,2.6 L10.0,2.6Z" fill="url(#scrShank)" stroke="#8c9ba6" stroke-width=".35"/><line x1="12.4" y1="-4.9" x2="14.4" y2="4.9" stroke="#7d8e9a" stroke-width="0.6" opacity=".8"/><line x1="17.4" y1="-4.9" x2="19.4" y2="4.9" stroke="#7d8e9a" stroke-width="0.6" opacity=".8"/><line x1="22.4" y1="-4.9" x2="24.4" y2="4.9" stroke="#7d8e9a" stroke-width="0.6" opacity=".8"/><line x1="27.4" y1="-4.9" x2="29.4" y2="4.9" stroke="#7d8e9a" stroke-width="0.6" opacity=".8"/><line x1="32.4" y1="-4.9" x2="34.4" y2="4.9" stroke="#7d8e9a" stroke-width="0.6" opacity=".8"/><line x1="37.4" y1="-4.9" x2="39.4" y2="4.9" stroke="#7d8e9a" stroke-width="0.6" opacity=".8"/><line x1="42.4" y1="-4.9" x2="44.4" y2="4.9" stroke="#7d8e9a" stroke-width="0.6" opacity=".8"/><line x1="47.4" y1="-4.9" x2="49.4" y2="4.9" stroke="#7d8e9a" stroke-width="0.6" opacity=".8"/><line x1="52.4" y1="-4.9" x2="54.4" y2="4.9" stroke="#7d8e9a" stroke-width="0.6" opacity=".8"/><line x1="57.4" y1="-4.9" x2="59.4" y2="4.9" stroke="#7d8e9a" stroke-width="0.6" opacity=".8"/><line x1="62.4" y1="-4.9" x2="64.4" y2="4.9" stroke="#7d8e9a" stroke-width="0.6" opacity=".8"/><line x1="67.4" y1="-4.9" x2="69.4" y2="4.9" stroke="#7d8e9a" stroke-width="0.6" opacity=".8"/><line x1="72.4" y1="-4.9" x2="74.4" y2="4.9" stroke="#7d8e9a" stroke-width="0.6" opacity=".8"/><line x1="77.4" y1="-4.9" x2="79.4" y2="4.9" stroke="#7d8e9a" stroke-width="0.6" opacity=".8"/><line x1="82.4" y1="-4.9" x2="84.4" y2="4.9" stroke="#7d8e9a" stroke-width="0.6" opacity=".8"/><line x1="87.4" y1="-4.9" x2="89.4" y2="4.9" stroke="#7d8e9a" stroke-width="0.6" opacity=".8"/><path d="M4,-4.4 L12.5,-3 L12.5,3 L4,4.4Z" fill="#b92c1c"/><ellipse cx="9.8" cy="0" rx="1.9" ry="4.2" fill="#d6432d"/><ellipse cx="4.6" cy="0" rx="5.6" ry="21" fill="#6f4330"/><ellipse cx="2.2" cy="0" rx="5.6" ry="21" fill="url(#scrWash)"/><path d="M2.2,-21 A5.6,21 0 0 1 2.2,21 A3.2,21 0 0 0 2.2,-21Z" fill="#7d4a30" opacity=".75"/><ellipse cx="-2.6" cy="0" rx="4.2" ry="15.4" fill="#b8301d"/><ellipse cx="-4.2" cy="0" rx="4.2" ry="15.2" fill="#d8462e"/><path d="M-20.5,-9.5 L-18.5,-12 L-5.5,-13 L-5.5,13 L-18.5,12 L-20.5,9.5Z" fill="url(#scrHead)"/><path d="M-20.5,-3.6 L-5.5,-4.4 M-20.5,4.6 L-5.5,5.4" stroke="#a82819" stroke-width=".6" fill="none" opacity=".8"/><path d="M-20.5,-9.5 L-18.5,-12 L-5.5,-13 L-5.5,-4.4 L-20.5,-3.6Z" fill="#ee7253" opacity=".55"/><path d="M-20.5,4.6 L-5.5,5.4 L-5.5,13 L-18.5,12 L-20.5,9.5Z" fill="#8f1f12" opacity=".35"/></g></g>
<!-- frames -->
<rect x="9.7" y="47.5" width="342.6" height="310.8" rx="15.5" fill="none" stroke="#174a7d" stroke-width="3.4"/><rect x="362.0" y="46.7" width="342.1" height="310.9" rx="15.5" fill="none" stroke="#174a7d" stroke-width="3.4"/><rect x="715.0" y="47.4" width="341.9" height="310.3" rx="15.5" fill="none" stroke="#174a7d" stroke-width="3.4"/><rect x="1068.7" y="43.7" width="342.6" height="311.2" rx="15.5" fill="none" stroke="#174a7d" stroke-width="3.4"/><rect x="9.7" y="370.9" width="433.6" height="598.0" rx="15.5" fill="none" stroke="#174a7d" stroke-width="3.4"/><rect x="455.0" y="371.0" width="433.3" height="599.1" rx="15.5" fill="none" stroke="#174a7d" stroke-width="3.4"/><rect x="899.7" y="373.7" width="342.6" height="284.1" rx="15.5" fill="none" stroke="#174a7d" stroke-width="3.4"/><rect x="900.6" y="686.5" width="341.9" height="284.1" rx="15.5" fill="none" stroke="#174a7d" stroke-width="3.4"/><rect x="886.6" y="520" width="3.5" height="331" fill="#7b7d83" opacity=".42"/><g style="filter:grayscale(1)"><circle cx="26.3" cy="62.7" r="22.8" fill="#fff" stroke="#2d292a" stroke-width="2.4"/><text x="26.3" y="71.0" text-anchor="middle" font-family="Liberation Sans, sans-serif" font-weight="700" font-size="28.5" fill="#231f20" stroke="#231f20" stroke-width="1.3" letter-spacing=".4">1</text><circle cx="378.5" cy="61.5" r="22.8" fill="#fff" stroke="#2d292a" stroke-width="2.4"/><text x="378.5" y="69.8" text-anchor="middle" font-family="Liberation Sans, sans-serif" font-weight="700" font-size="28.5" fill="#231f20" stroke="#231f20" stroke-width="1.3" letter-spacing=".4">2a</text><circle cx="731.2" cy="62.2" r="22.8" fill="#fff" stroke="#2d292a" stroke-width="2.4"/><text x="731.2" y="70.5" text-anchor="middle" font-family="Liberation Sans, sans-serif" font-weight="700" font-size="28.5" fill="#231f20" stroke="#231f20" stroke-width="1.3" letter-spacing=".4">2b</text><circle cx="1084.8" cy="58.4" r="22.8" fill="#fff" stroke="#2d292a" stroke-width="2.4"/><text x="1084.8" y="66.7" text-anchor="middle" font-family="Liberation Sans, sans-serif" font-weight="700" font-size="28.5" fill="#231f20" stroke="#231f20" stroke-width="1.3" letter-spacing=".4">2c</text><circle cx="25.8" cy="385.7" r="22.8" fill="#fff" stroke="#2d292a" stroke-width="2.4"/><text x="25.8" y="394.0" text-anchor="middle" font-family="Liberation Sans, sans-serif" font-weight="700" font-size="28.5" fill="#231f20" stroke="#231f20" stroke-width="1.3" letter-spacing=".4">3</text><circle cx="471.2" cy="386.0" r="22.8" fill="#fff" stroke="#2d292a" stroke-width="2.4"/><text x="471.2" y="394.3" text-anchor="middle" font-family="Liberation Sans, sans-serif" font-weight="700" font-size="28.5" fill="#231f20" stroke="#231f20" stroke-width="1.3" letter-spacing=".4">4</text><circle cx="915.9" cy="388.5" r="22.8" fill="#fff" stroke="#2d292a" stroke-width="2.4"/><text x="915.9" y="396.8" text-anchor="middle" font-family="Liberation Sans, sans-serif" font-weight="700" font-size="28.5" fill="#231f20" stroke="#231f20" stroke-width="1.3" letter-spacing=".4">5</text><circle cx="916.7" cy="701.2" r="22.8" fill="#fff" stroke="#2d292a" stroke-width="2.4"/><text x="916.7" y="709.5" text-anchor="middle" font-family="Liberation Sans, sans-serif" font-weight="700" font-size="28.5" fill="#231f20" stroke="#231f20" stroke-width="1.3" letter-spacing=".4">6</text></g></svg>
<div id="txt">
<h1>Montážní <span>návod</span></h1>
<div class="t" style="left:17.3px;top:258.78px;letter-spacing:-0.263px;">Zjistěte, zda je střecha rovnoběžná. Minimální rozdíly</div>
<div class="t" style="left:17.3px;top:276.58px;word-spacing:1.579px;">se dají vyrovnat pomocí štítové desky. Při větších</div>
<div class="t" style="left:17.3px;top:295.18px;letter-spacing:-0.156px;">rozdílech je nutné vymezit poškozené části střechy.</div>
<div class="t" style="left:17.3px;top:313.58px;letter-spacing:-0.174px;">Sklon střechy musí být minimálně 14º.</div>
<div class="t" style="left:394.0px;top:296.48px;letter-spacing:-0.129px;">Krytina se nesmí montovat přímo na lepenku</div>
<div class="t" style="left:717.6px;top:252.78px;letter-spacing:0.150px;word-spacing:5.780px;">V případě použití lepenky je nutné dodatečné</div>
<div class="t" style="left:717.6px;top:270.58px;letter-spacing:-0.102px;">namontování latě a kontralatě.</div>
<div class="t" style="left:1076.7px;top:260.08px;letter-spacing:0.800px;word-spacing:3.723px;">Většinou se pod plechovou krytinu používá</div>
<div class="t" style="left:1076.7px;top:278.18px;letter-spacing:0.700px;word-spacing:1.683px;">paropropustná folie a na ni se montují latě a</div>
<div class="t" style="left:1076.7px;top:296.08px;letter-spacing:-0.066px;">kontralatě.</div>
<div class="t" style="left:15.7px;top:909.58px;letter-spacing:-0.156px;">Pozor!! Startovací latě by měla být nazdvihnutá přibližně o 12 mm</div>
<div class="t" style="left:15.7px;top:927.58px;letter-spacing:-0.114px;">v porovnání s ostatními.</div>
<div class="t" style="left:496.7px;top:934.18px;letter-spacing:-0.165px;">Navrhovaný způsob upevnění na latě a vytvoření spoje</div>
<div class="t" style="left:903.8px;top:601.38px;word-spacing:0.178px;">Montovat se začíná z levé strany. Způsob montáže</div>
<div class="t" style="left:903.8px;top:618.98px;letter-spacing:-0.146px;">jednotlivých kusů je vysvětlený na obrázku.</div>
<div class="t" style="left:908.1px;top:885.58px;letter-spacing:-0.171px;">Krytina se montuje samořeznými šrouby o délce 35</div>
<div class="t" style="left:908.1px;top:903.58px;letter-spacing:-0.197px;">mm. Průměrná spotřeba šroubů je 6 – 7 ks/m2. Aby</div>
<div class="t" style="left:908.1px;top:921.28px;letter-spacing:-0.070px;">mezi jednotlivými kusy nevznikaly mezery, spojují</div>
<div class="t" style="left:908.1px;top:939.18px;letter-spacing:-0.217px;">se dodatečně kratšími šrouby (např. 19 mm).</div>
<div class="t" style="left:1250.8px;top:370.58px;letter-spacing:-0.230px;">V žádném případě se při</div>
<div class="t" style="left:1250.8px;top:388.48px;word-spacing:1.646px;">montáži  nesmí používat</div>
<div class="t" style="left:1250.8px;top:406.28px;letter-spacing:-0.003px;">nářadí, které se nahřívá.</div>
</div>
</body></html>
